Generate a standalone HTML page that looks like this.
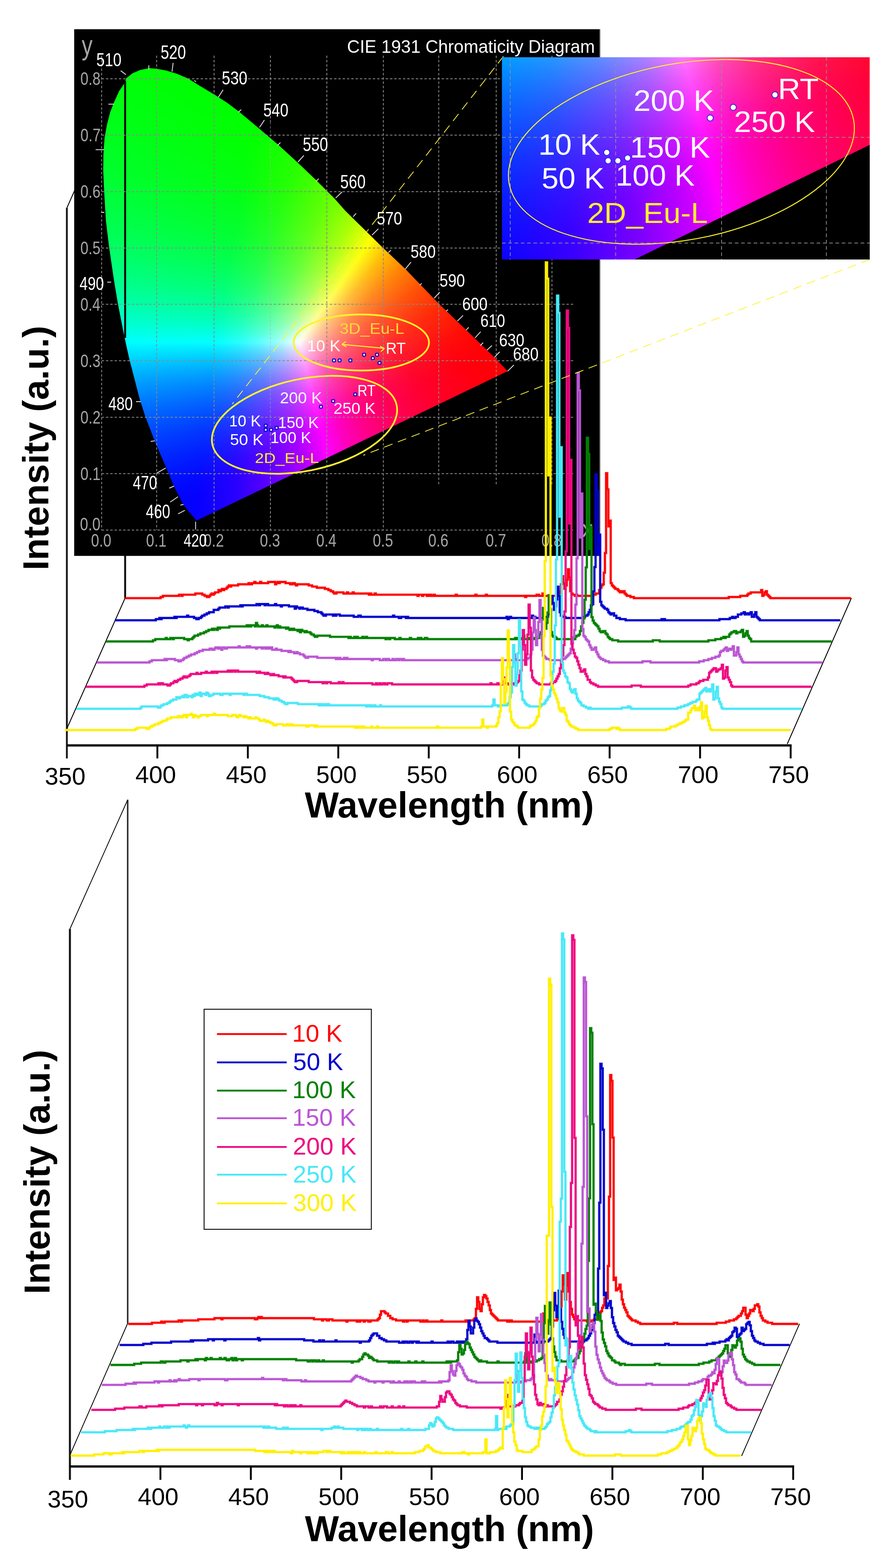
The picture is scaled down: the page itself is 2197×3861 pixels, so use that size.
<!DOCTYPE html>
<html lang="en"><head><meta charset="utf-8"><title>Temperature-dependent emission spectra and CIE 1931 chromaticity diagram</title>
<style>
html,body{margin:0;padding:0;background:#fff}
body{width:2197px;height:3861px;overflow:hidden}
svg{display:block;font-family:"Liberation Sans",Arial,Helvetica,sans-serif}
</style></head><body>
<svg width="2197" height="3861" viewBox="0 0 2197 3861">
<defs><linearGradient id="g0" gradientUnits="userSpaceOnUse" x1="348.2" x2="398.6"><stop offset="0" stop-color="#00ff04"/><stop offset="1" stop-color="#00ff02"/></linearGradient><linearGradient id="g1" gradientUnits="userSpaceOnUse" x1="332.2" x2="418.9"><stop offset="0" stop-color="#00ff05"/><stop offset="1" stop-color="#00ff01"/></linearGradient><linearGradient id="g2" gradientUnits="userSpaceOnUse" x1="322.8" x2="432.3"><stop offset="0" stop-color="#00ff06"/><stop offset="1" stop-color="#00ff01"/></linearGradient><linearGradient id="g3" gradientUnits="userSpaceOnUse" x1="315.2" x2="445.5"><stop offset="0" stop-color="#00ff07"/><stop offset="1" stop-color="#0f0"/></linearGradient><linearGradient id="g4" gradientUnits="userSpaceOnUse" x1="310.3" x2="454.8"><stop offset="0" stop-color="#00ff08"/><stop offset="1" stop-color="#0f0"/></linearGradient><linearGradient id="g5" gradientUnits="userSpaceOnUse" x1="305.4" x2="464.1"><stop offset="0" stop-color="#00ff08"/><stop offset="1" stop-color="#0f0"/></linearGradient><linearGradient id="g6" gradientUnits="userSpaceOnUse" x1="301.5" x2="473.1"><stop offset="0" stop-color="#00ff09"/><stop offset="1" stop-color="#0f0"/></linearGradient><linearGradient id="g7" gradientUnits="userSpaceOnUse" x1="299.9" x2="479.6"><stop offset="0" stop-color="#00ff09"/><stop offset="1" stop-color="#0f0"/></linearGradient><linearGradient id="g8" gradientUnits="userSpaceOnUse" x1="298.3" x2="486.0"><stop offset="0" stop-color="#00ff0a"/><stop offset="1" stop-color="#0f0"/></linearGradient><linearGradient id="g9" gradientUnits="userSpaceOnUse" x1="296.7" x2="492.4"><stop offset="0" stop-color="#00ff0a"/><stop offset="1" stop-color="#0f0"/></linearGradient><linearGradient id="g10" gradientUnits="userSpaceOnUse" x1="294.1" x2="498.9"><stop offset="0" stop-color="#00ff0b"/><stop offset="1" stop-color="#0f0"/></linearGradient><linearGradient id="g11" gradientUnits="userSpaceOnUse" x1="291.3" x2="505.5"><stop offset="0" stop-color="#00ff0c"/><stop offset="1" stop-color="#0f0"/></linearGradient><linearGradient id="g12" gradientUnits="userSpaceOnUse" x1="288.6" x2="512.2"><stop offset="0" stop-color="#00ff0c"/><stop offset="1" stop-color="#0f0"/></linearGradient><linearGradient id="g13" gradientUnits="userSpaceOnUse" x1="285.8" x2="518.8"><stop offset="0" stop-color="#00ff0d"/><stop offset="1" stop-color="#0f0"/></linearGradient><linearGradient id="g14" gradientUnits="userSpaceOnUse" x1="283.5" x2="525.5"><stop offset="0" stop-color="#00ff0d"/><stop offset="1" stop-color="#0f0"/></linearGradient><linearGradient id="g15" gradientUnits="userSpaceOnUse" x1="281.7" x2="532.2"><stop offset="0" stop-color="#00ff0e"/><stop offset="1" stop-color="#0f0"/></linearGradient><linearGradient id="g16" gradientUnits="userSpaceOnUse" x1="279.9" x2="538.7"><stop offset="0" stop-color="#00ff0e"/><stop offset="1" stop-color="#0f0"/></linearGradient><linearGradient id="g17" gradientUnits="userSpaceOnUse" x1="278.1" x2="544.9"><stop offset="0" stop-color="#00ff0f"/><stop offset="1" stop-color="#0f0"/></linearGradient><linearGradient id="g18" gradientUnits="userSpaceOnUse" x1="276.3" x2="551.2"><stop offset="0" stop-color="#00ff10"/><stop offset="1" stop-color="#0f0"/></linearGradient><linearGradient id="g19" gradientUnits="userSpaceOnUse" x1="274.5" x2="557.4"><stop offset="0" stop-color="#00ff10"/><stop offset="1" stop-color="#0f0"/></linearGradient><linearGradient id="g20" gradientUnits="userSpaceOnUse" x1="272.7" x2="563.7"><stop offset="0" stop-color="#0f1"/><stop offset="1" stop-color="#0f0"/></linearGradient><linearGradient id="g21" gradientUnits="userSpaceOnUse" x1="271.0" x2="569.8"><stop offset="0" stop-color="#0f1"/><stop offset="1" stop-color="#0f0"/></linearGradient><linearGradient id="g22" gradientUnits="userSpaceOnUse" x1="269.4" x2="575.1"><stop offset="0" stop-color="#00ff12"/><stop offset="1" stop-color="#0f0"/></linearGradient><linearGradient id="g23" gradientUnits="userSpaceOnUse" x1="267.9" x2="580.4"><stop offset="0" stop-color="#00ff13"/><stop offset="1" stop-color="#0f0"/></linearGradient><linearGradient id="g24" gradientUnits="userSpaceOnUse" x1="266.3" x2="585.7"><stop offset="0" stop-color="#00ff13"/><stop offset="1" stop-color="#0f0"/></linearGradient><linearGradient id="g25" gradientUnits="userSpaceOnUse" x1="264.8" x2="591.0"><stop offset="0" stop-color="#00ff14"/><stop offset="1" stop-color="#0f0"/></linearGradient><linearGradient id="g26" gradientUnits="userSpaceOnUse" x1="263.2" x2="596.3"><stop offset="0" stop-color="#00ff14"/><stop offset="1" stop-color="#0f0"/></linearGradient><linearGradient id="g27" gradientUnits="userSpaceOnUse" x1="261.9" x2="601.1"><stop offset="0" stop-color="#00ff15"/><stop offset="1" stop-color="#0f0"/></linearGradient><linearGradient id="g28" gradientUnits="userSpaceOnUse" x1="260.9" x2="605.9"><stop offset="0" stop-color="#00ff16"/><stop offset="1" stop-color="#0f0"/></linearGradient><linearGradient id="g29" gradientUnits="userSpaceOnUse" x1="259.9" x2="610.7"><stop offset="0" stop-color="#00ff16"/><stop offset="1" stop-color="#0f0"/></linearGradient><linearGradient id="g30" gradientUnits="userSpaceOnUse" x1="258.9" x2="615.5"><stop offset="0" stop-color="#00ff17"/><stop offset="1" stop-color="#01ff00"/></linearGradient><linearGradient id="g31" gradientUnits="userSpaceOnUse" x1="257.9" x2="620.3"><stop offset="0" stop-color="#00ff17"/><stop offset="0.989" stop-color="#01ff00"/><stop offset="1" stop-color="#02ff00"/></linearGradient><linearGradient id="g32" gradientUnits="userSpaceOnUse" x1="256.9" x2="625.1"><stop offset="0" stop-color="#00ff18"/><stop offset="0.989" stop-color="#02ff00"/><stop offset="1" stop-color="#03ff00"/></linearGradient><linearGradient id="g33" gradientUnits="userSpaceOnUse" x1="255.9" x2="629.9"><stop offset="0" stop-color="#00ff19"/><stop offset="0.989" stop-color="#03ff00"/><stop offset="1" stop-color="#03ff00"/></linearGradient><linearGradient id="g34" gradientUnits="userSpaceOnUse" x1="254.9" x2="634.7"><stop offset="0" stop-color="#00ff19"/><stop offset="0.979" stop-color="#03ff00"/><stop offset="1" stop-color="#04ff00"/></linearGradient><linearGradient id="g35" gradientUnits="userSpaceOnUse" x1="253.9" x2="639.5"><stop offset="0" stop-color="#00ff1a"/><stop offset="0.969" stop-color="#03ff00"/><stop offset="1" stop-color="#05ff00"/></linearGradient><linearGradient id="g36" gradientUnits="userSpaceOnUse" x1="253.2" x2="644.2"><stop offset="0" stop-color="#00ff1b"/><stop offset="0.948" stop-color="#03ff00"/><stop offset="1" stop-color="#07ff00"/></linearGradient><linearGradient id="g37" gradientUnits="userSpaceOnUse" x1="252.5" x2="648.9"><stop offset="0" stop-color="#00ff1b"/><stop offset="0.939" stop-color="#03ff00"/><stop offset="1" stop-color="#08ff00"/></linearGradient><linearGradient id="g38" gradientUnits="userSpaceOnUse" x1="251.7" x2="653.6"><stop offset="0" stop-color="#00ff1c"/><stop offset="0.92" stop-color="#03ff00"/><stop offset="1" stop-color="#09ff00"/></linearGradient><linearGradient id="g39" gradientUnits="userSpaceOnUse" x1="251.0" x2="658.4"><stop offset="0" stop-color="#00ff1d"/><stop offset="0.911" stop-color="#03ff00"/><stop offset="1" stop-color="#0aff00"/></linearGradient><linearGradient id="g40" gradientUnits="userSpaceOnUse" x1="250.3" x2="663.1"><stop offset="0" stop-color="#00ff1d"/><stop offset="0.903" stop-color="#03ff00"/><stop offset="1" stop-color="#0bff00"/></linearGradient><linearGradient id="g41" gradientUnits="userSpaceOnUse" x1="249.6" x2="667.8"><stop offset="0" stop-color="#00ff1e"/><stop offset="0.885" stop-color="#03ff00"/><stop offset="1" stop-color="#0dff00"/></linearGradient><linearGradient id="g42" gradientUnits="userSpaceOnUse" x1="248.8" x2="672.5"><stop offset="0" stop-color="#00ff1f"/><stop offset="0.876" stop-color="#03ff01"/><stop offset="1" stop-color="#0eff00"/></linearGradient><linearGradient id="g43" gradientUnits="userSpaceOnUse" x1="248.4" x2="677.3"><stop offset="0" stop-color="#00ff1f"/><stop offset="0.869" stop-color="#03ff01"/><stop offset="1" stop-color="#10ff00"/></linearGradient><linearGradient id="g44" gradientUnits="userSpaceOnUse" x1="248.1" x2="682.0"><stop offset="0" stop-color="#00ff20"/><stop offset="0.852" stop-color="#03ff01"/><stop offset="1" stop-color="#1f0"/></linearGradient><linearGradient id="g45" gradientUnits="userSpaceOnUse" x1="247.8" x2="686.7"><stop offset="0" stop-color="#00ff21"/><stop offset="0.844" stop-color="#03ff02"/><stop offset="1" stop-color="#13ff00"/></linearGradient><linearGradient id="g46" gradientUnits="userSpaceOnUse" x1="247.5" x2="691.4"><stop offset="0" stop-color="#00ff21"/><stop offset="0.836" stop-color="#03ff02"/><stop offset="1" stop-color="#15ff00"/></linearGradient><linearGradient id="g47" gradientUnits="userSpaceOnUse" x1="247.3" x2="696.0"><stop offset="0" stop-color="#0f2"/><stop offset="0.821" stop-color="#03ff02"/><stop offset="1" stop-color="#16ff00"/></linearGradient><linearGradient id="g48" gradientUnits="userSpaceOnUse" x1="247.0" x2="700.4"><stop offset="0" stop-color="#00ff23"/><stop offset="0.814" stop-color="#03ff03"/><stop offset="1" stop-color="#18ff00"/></linearGradient><linearGradient id="g49" gradientUnits="userSpaceOnUse" x1="246.7" x2="704.7"><stop offset="0" stop-color="#00ff23"/><stop offset="0.807" stop-color="#03ff03"/><stop offset="1" stop-color="#1aff00"/></linearGradient><linearGradient id="g50" gradientUnits="userSpaceOnUse" x1="246.4" x2="709.1"><stop offset="0" stop-color="#00ff24"/><stop offset="0.8" stop-color="#03ff04"/><stop offset="1" stop-color="#1cff00"/></linearGradient><linearGradient id="g51" gradientUnits="userSpaceOnUse" x1="246.2" x2="713.5"><stop offset="0" stop-color="#00ff25"/><stop offset="0.784" stop-color="#03ff04"/><stop offset="1" stop-color="#1eff00"/></linearGradient><linearGradient id="g52" gradientUnits="userSpaceOnUse" x1="245.9" x2="717.8"><stop offset="0" stop-color="#00ff26"/><stop offset="0.778" stop-color="#03ff05"/><stop offset="1" stop-color="#20ff00"/></linearGradient><linearGradient id="g53" gradientUnits="userSpaceOnUse" x1="245.7" x2="722.2"><stop offset="0" stop-color="#00ff26"/><stop offset="0.773" stop-color="#03ff05"/><stop offset="1" stop-color="#2f0"/></linearGradient><linearGradient id="g54" gradientUnits="userSpaceOnUse" x1="245.6" x2="726.6"><stop offset="0" stop-color="#00ff27"/><stop offset="0.758" stop-color="#03ff06"/><stop offset="1" stop-color="#24ff00"/></linearGradient><linearGradient id="g55" gradientUnits="userSpaceOnUse" x1="245.6" x2="731.0"><stop offset="0" stop-color="#00ff28"/><stop offset="0.752" stop-color="#03ff06"/><stop offset="1" stop-color="#26ff00"/></linearGradient><linearGradient id="g56" gradientUnits="userSpaceOnUse" x1="245.5" x2="735.3"><stop offset="0" stop-color="#00ff29"/><stop offset="0.746" stop-color="#03ff07"/><stop offset="0.992" stop-color="#26ff00"/><stop offset="1" stop-color="#28ff00"/></linearGradient><linearGradient id="g57" gradientUnits="userSpaceOnUse" x1="245.5" x2="739.7"><stop offset="0" stop-color="#00ff29"/><stop offset="0.74" stop-color="#03ff07"/><stop offset="0.984" stop-color="#27ff00"/><stop offset="1" stop-color="#2aff00"/></linearGradient><linearGradient id="g58" gradientUnits="userSpaceOnUse" x1="245.4" x2="744.0"><stop offset="0" stop-color="#00ff2a"/><stop offset="0.726" stop-color="#03ff08"/><stop offset="0.96" stop-color="#24ff00"/><stop offset="1" stop-color="#2dff00"/></linearGradient><linearGradient id="g59" gradientUnits="userSpaceOnUse" x1="245.4" x2="748.2"><stop offset="0" stop-color="#00ff2b"/><stop offset="0.72" stop-color="#03ff08"/><stop offset="0.952" stop-color="#25ff00"/><stop offset="1" stop-color="#2fff00"/></linearGradient><linearGradient id="g60" gradientUnits="userSpaceOnUse" x1="245.3" x2="752.4"><stop offset="0" stop-color="#00ff2c"/><stop offset="0.714" stop-color="#03ff09"/><stop offset="0.944" stop-color="#26ff00"/><stop offset="1" stop-color="#31ff00"/></linearGradient><linearGradient id="g61" gradientUnits="userSpaceOnUse" x1="245.3" x2="756.5"><stop offset="0" stop-color="#00ff2d"/><stop offset="0.709" stop-color="#03ff0a"/><stop offset="0.937" stop-color="#26ff00"/><stop offset="1" stop-color="#34ff00"/></linearGradient><linearGradient id="g62" gradientUnits="userSpaceOnUse" x1="245.2" x2="760.7"><stop offset="0" stop-color="#00ff2d"/><stop offset="0.703" stop-color="#03ff0a"/><stop offset="0.93" stop-color="#27ff00"/><stop offset="1" stop-color="#36ff00"/></linearGradient><linearGradient id="g63" gradientUnits="userSpaceOnUse" x1="245.2" x2="764.9"><stop offset="0" stop-color="#00ff2e"/><stop offset="0.69" stop-color="#03ff0b"/><stop offset="0.907" stop-color="#24ff01"/><stop offset="1" stop-color="#39ff00"/></linearGradient><linearGradient id="g64" gradientUnits="userSpaceOnUse" x1="245.2" x2="769.1"><stop offset="0" stop-color="#00ff2f"/><stop offset="0.685" stop-color="#03ff0c"/><stop offset="0.9" stop-color="#25ff01"/><stop offset="1" stop-color="#3cff00"/></linearGradient><linearGradient id="g65" gradientUnits="userSpaceOnUse" x1="245.2" x2="773.3"><stop offset="0" stop-color="#00ff30"/><stop offset="0.682" stop-color="#03ff0c"/><stop offset="0.902" stop-color="#27ff01"/><stop offset="1" stop-color="#3eff00"/></linearGradient><linearGradient id="g66" gradientUnits="userSpaceOnUse" x1="245.3" x2="777.5"><stop offset="0" stop-color="#00ff31"/><stop offset="0.677" stop-color="#03ff0d"/><stop offset="0.887" stop-color="#26ff02"/><stop offset="1" stop-color="#41ff00"/></linearGradient><linearGradient id="g67" gradientUnits="userSpaceOnUse" x1="245.5" x2="781.6"><stop offset="0" stop-color="#00ff32"/><stop offset="0.664" stop-color="#03ff0e"/><stop offset="0.873" stop-color="#25ff03"/><stop offset="1" stop-color="#4f0"/></linearGradient><linearGradient id="g68" gradientUnits="userSpaceOnUse" x1="245.7" x2="785.8"><stop offset="0" stop-color="#00ff32"/><stop offset="0.659" stop-color="#03ff0e"/><stop offset="0.867" stop-color="#25ff03"/><stop offset="1" stop-color="#47ff00"/></linearGradient><linearGradient id="g69" gradientUnits="userSpaceOnUse" x1="245.9" x2="790.0"><stop offset="0" stop-color="#0f3"/><stop offset="0.654" stop-color="#03ff0f"/><stop offset="0.86" stop-color="#26ff04"/><stop offset="1" stop-color="#4aff00"/></linearGradient><linearGradient id="g70" gradientUnits="userSpaceOnUse" x1="246.0" x2="794.0"><stop offset="0" stop-color="#00ff34"/><stop offset="0.647" stop-color="#03ff10"/><stop offset="0.853" stop-color="#26ff04"/><stop offset="1" stop-color="#4dff00"/></linearGradient><linearGradient id="g71" gradientUnits="userSpaceOnUse" x1="246.2" x2="798.0"><stop offset="0" stop-color="#00ff35"/><stop offset="0.642" stop-color="#03ff11"/><stop offset="0.839" stop-color="#25ff05"/><stop offset="1" stop-color="#51ff00"/></linearGradient><linearGradient id="g72" gradientUnits="userSpaceOnUse" x1="246.4" x2="802.0"><stop offset="0" stop-color="#00ff36"/><stop offset="0.638" stop-color="#03ff11"/><stop offset="0.833" stop-color="#26ff05"/><stop offset="1" stop-color="#54ff00"/></linearGradient><linearGradient id="g73" gradientUnits="userSpaceOnUse" x1="246.6" x2="806.0"><stop offset="0" stop-color="#00ff37"/><stop offset="0.626" stop-color="#02ff12"/><stop offset="0.82" stop-color="#25ff06"/><stop offset="1" stop-color="#57ff00"/></linearGradient><linearGradient id="g74" gradientUnits="userSpaceOnUse" x1="246.8" x2="810.0"><stop offset="0" stop-color="#00ff38"/><stop offset="0.621" stop-color="#03ff13"/><stop offset="0.814" stop-color="#25ff07"/><stop offset="1" stop-color="#5bff00"/></linearGradient><linearGradient id="g75" gradientUnits="userSpaceOnUse" x1="247.0" x2="814.0"><stop offset="0" stop-color="#00ff39"/><stop offset="0.617" stop-color="#03ff14"/><stop offset="0.809" stop-color="#26ff08"/><stop offset="1" stop-color="#5eff00"/></linearGradient><linearGradient id="g76" gradientUnits="userSpaceOnUse" x1="247.2" x2="818.0"><stop offset="0" stop-color="#00ff3a"/><stop offset="0.613" stop-color="#03ff15"/><stop offset="0.803" stop-color="#26ff08"/><stop offset="1" stop-color="#62ff00"/></linearGradient><linearGradient id="g77" gradientUnits="userSpaceOnUse" x1="247.3" x2="822.0"><stop offset="0" stop-color="#00ff3b"/><stop offset="0.608" stop-color="#03ff15"/><stop offset="0.797" stop-color="#27ff09"/><stop offset="0.986" stop-color="#61ff00"/><stop offset="1" stop-color="#6f0"/></linearGradient><linearGradient id="g78" gradientUnits="userSpaceOnUse" x1="247.5" x2="826.0"><stop offset="0" stop-color="#00ff3c"/><stop offset="0.597" stop-color="#02ff17"/><stop offset="0.778" stop-color="#24ff0a"/><stop offset="0.965" stop-color="#5dff00"/><stop offset="1" stop-color="#6aff00"/></linearGradient><linearGradient id="g79" gradientUnits="userSpaceOnUse" x1="247.7" x2="830.0"><stop offset="0" stop-color="#00ff3d"/><stop offset="0.593" stop-color="#03ff18"/><stop offset="0.772" stop-color="#24ff0b"/><stop offset="0.959" stop-color="#5eff00"/><stop offset="1" stop-color="#6eff00"/></linearGradient><linearGradient id="g80" gradientUnits="userSpaceOnUse" x1="247.9" x2="833.9"><stop offset="0" stop-color="#00ff3e"/><stop offset="0.589" stop-color="#03ff18"/><stop offset="0.767" stop-color="#25ff0c"/><stop offset="0.952" stop-color="#5fff00"/><stop offset="1" stop-color="#72ff00"/></linearGradient><linearGradient id="g81" gradientUnits="userSpaceOnUse" x1="248.1" x2="837.4"><stop offset="0" stop-color="#00ff3f"/><stop offset="0.585" stop-color="#03ff19"/><stop offset="0.762" stop-color="#25ff0d"/><stop offset="0.946" stop-color="#60ff01"/><stop offset="1" stop-color="#76ff00"/></linearGradient><linearGradient id="g82" gradientUnits="userSpaceOnUse" x1="248.4" x2="840.9"><stop offset="0" stop-color="#00ff40"/><stop offset="0.581" stop-color="#03ff1a"/><stop offset="0.757" stop-color="#26ff0d"/><stop offset="0.939" stop-color="#61ff01"/><stop offset="1" stop-color="#7aff00"/></linearGradient><linearGradient id="g83" gradientUnits="userSpaceOnUse" x1="248.6" x2="844.5"><stop offset="0" stop-color="#00ff41"/><stop offset="0.574" stop-color="#03ff1b"/><stop offset="0.75" stop-color="#26ff0e"/><stop offset="0.926" stop-color="#5fff02"/><stop offset="1" stop-color="#7eff00"/></linearGradient><linearGradient id="g84" gradientUnits="userSpaceOnUse" x1="248.9" x2="848.0"><stop offset="0" stop-color="#00ff42"/><stop offset="0.57" stop-color="#03ff1c"/><stop offset="0.745" stop-color="#26ff0f"/><stop offset="0.919" stop-color="#60ff03"/><stop offset="1" stop-color="#82ff00"/></linearGradient><linearGradient id="g85" gradientUnits="userSpaceOnUse" x1="249.1" x2="851.5"><stop offset="0" stop-color="#00ff43"/><stop offset="0.567" stop-color="#03ff1d"/><stop offset="0.74" stop-color="#27ff10"/><stop offset="0.913" stop-color="#61ff03"/><stop offset="1" stop-color="#87ff00"/></linearGradient><linearGradient id="g86" gradientUnits="userSpaceOnUse" x1="249.4" x2="855.0"><stop offset="0" stop-color="#0f4"/><stop offset="0.563" stop-color="#03ff1e"/><stop offset="0.728" stop-color="#25ff11"/><stop offset="0.901" stop-color="#5fff04"/><stop offset="1" stop-color="#8bff00"/></linearGradient><linearGradient id="g87" gradientUnits="userSpaceOnUse" x1="249.6" x2="858.6"><stop offset="0" stop-color="#00ff45"/><stop offset="0.559" stop-color="#03ff1f"/><stop offset="0.724" stop-color="#26ff12"/><stop offset="0.895" stop-color="#60ff05"/><stop offset="1" stop-color="#90ff00"/></linearGradient><linearGradient id="g88" gradientUnits="userSpaceOnUse" x1="249.8" x2="862.6"><stop offset="0" stop-color="#00ff46"/><stop offset="0.549" stop-color="#02ff21"/><stop offset="0.712" stop-color="#24ff14"/><stop offset="0.882" stop-color="#5eff06"/><stop offset="1" stop-color="#95ff00"/></linearGradient><linearGradient id="g89" gradientUnits="userSpaceOnUse" x1="250.1" x2="866.6"><stop offset="0" stop-color="#00ff47"/><stop offset="0.545" stop-color="#03ff22"/><stop offset="0.708" stop-color="#25ff14"/><stop offset="0.877" stop-color="#60ff07"/><stop offset="1" stop-color="#9bff00"/></linearGradient><linearGradient id="g90" gradientUnits="userSpaceOnUse" x1="250.3" x2="870.7"><stop offset="0" stop-color="#00ff48"/><stop offset="0.542" stop-color="#03ff23"/><stop offset="0.703" stop-color="#26ff15"/><stop offset="0.871" stop-color="#61ff07"/><stop offset="1" stop-color="#a1ff00"/></linearGradient><linearGradient id="g91" gradientUnits="userSpaceOnUse" x1="250.6" x2="874.8"><stop offset="0" stop-color="#00ff4a"/><stop offset="0.538" stop-color="#03ff24"/><stop offset="0.699" stop-color="#26ff16"/><stop offset="0.859" stop-color="#60ff09"/><stop offset="1" stop-color="#a6ff00"/></linearGradient><linearGradient id="g92" gradientUnits="userSpaceOnUse" x1="250.8" x2="878.8"><stop offset="0" stop-color="#00ff4b"/><stop offset="0.532" stop-color="#03ff25"/><stop offset="0.686" stop-color="#24ff18"/><stop offset="0.846" stop-color="#5eff0a"/><stop offset="0.994" stop-color="#a9ff00"/><stop offset="1" stop-color="#acff00"/></linearGradient><linearGradient id="g93" gradientUnits="userSpaceOnUse" x1="251.1" x2="882.9"><stop offset="0" stop-color="#00ff4c"/><stop offset="0.529" stop-color="#03ff26"/><stop offset="0.682" stop-color="#25ff19"/><stop offset="0.841" stop-color="#5fff0b"/><stop offset="0.981" stop-color="#a7ff00"/><stop offset="1" stop-color="#b3ff00"/></linearGradient><linearGradient id="g94" gradientUnits="userSpaceOnUse" x1="251.3" x2="887.0"><stop offset="0" stop-color="#00ff4d"/><stop offset="0.525" stop-color="#03ff27"/><stop offset="0.677" stop-color="#26ff1a"/><stop offset="0.835" stop-color="#60ff0c"/><stop offset="0.975" stop-color="#a9ff00"/><stop offset="1" stop-color="#b9ff00"/></linearGradient><linearGradient id="g95" gradientUnits="userSpaceOnUse" x1="251.6" x2="891.0"><stop offset="0" stop-color="#00ff4e"/><stop offset="0.516" stop-color="#02ff29"/><stop offset="0.667" stop-color="#24ff1c"/><stop offset="0.824" stop-color="#5fff0d"/><stop offset="0.962" stop-color="#a8ff01"/><stop offset="1" stop-color="#c0ff00"/></linearGradient><linearGradient id="g96" gradientUnits="userSpaceOnUse" x1="251.8" x2="895.1"><stop offset="0" stop-color="#00ff50"/><stop offset="0.512" stop-color="#03ff2a"/><stop offset="0.663" stop-color="#25ff1d"/><stop offset="0.819" stop-color="#60ff0e"/><stop offset="0.956" stop-color="#aaff02"/><stop offset="1" stop-color="#c7ff00"/></linearGradient><linearGradient id="g97" gradientUnits="userSpaceOnUse" x1="252.1" x2="899.1"><stop offset="0" stop-color="#00ff51"/><stop offset="0.509" stop-color="#03ff2b"/><stop offset="0.658" stop-color="#26ff1e"/><stop offset="0.807" stop-color="#5fff0f"/><stop offset="0.944" stop-color="#a9ff03"/><stop offset="1" stop-color="#ceff00"/></linearGradient><linearGradient id="g98" gradientUnits="userSpaceOnUse" x1="252.6" x2="903.2"><stop offset="0" stop-color="#00ff52"/><stop offset="0.506" stop-color="#03ff2c"/><stop offset="0.654" stop-color="#27ff1f"/><stop offset="0.802" stop-color="#60ff10"/><stop offset="0.938" stop-color="#abff03"/><stop offset="1" stop-color="#d5ff00"/></linearGradient><linearGradient id="g99" gradientUnits="userSpaceOnUse" x1="253.1" x2="907.3"><stop offset="0" stop-color="#00ff53"/><stop offset="0.497" stop-color="#02ff2e"/><stop offset="0.638" stop-color="#23ff21"/><stop offset="0.785" stop-color="#5cff12"/><stop offset="0.92" stop-color="#a5ff05"/><stop offset="1" stop-color="#df0"/></linearGradient><linearGradient id="g100" gradientUnits="userSpaceOnUse" x1="253.6" x2="911.3"><stop offset="0" stop-color="#0f5"/><stop offset="0.494" stop-color="#03ff2f"/><stop offset="0.634" stop-color="#24ff22"/><stop offset="0.78" stop-color="#5dff13"/><stop offset="0.915" stop-color="#a8ff06"/><stop offset="1" stop-color="#e5ff00"/></linearGradient><linearGradient id="g101" gradientUnits="userSpaceOnUse" x1="254.1" x2="915.4"><stop offset="0" stop-color="#00ff56"/><stop offset="0.491" stop-color="#03ff31"/><stop offset="0.63" stop-color="#25ff23"/><stop offset="0.776" stop-color="#5fff14"/><stop offset="0.903" stop-color="#a6ff07"/><stop offset="1" stop-color="#edff00"/></linearGradient><linearGradient id="g102" gradientUnits="userSpaceOnUse" x1="254.6" x2="919.5"><stop offset="0" stop-color="#00ff57"/><stop offset="0.488" stop-color="#03ff32"/><stop offset="0.627" stop-color="#25ff25"/><stop offset="0.771" stop-color="#60ff16"/><stop offset="0.898" stop-color="#a9ff08"/><stop offset="1" stop-color="#f6ff00"/></linearGradient><linearGradient id="g103" gradientUnits="userSpaceOnUse" x1="255.0" x2="923.5"><stop offset="0" stop-color="#00ff59"/><stop offset="0.479" stop-color="#02ff34"/><stop offset="0.617" stop-color="#24ff26"/><stop offset="0.76" stop-color="#5fff17"/><stop offset="0.886" stop-color="#a7ff0a"/><stop offset="1" stop-color="#ff0"/></linearGradient><linearGradient id="g104" gradientUnits="userSpaceOnUse" x1="255.5" x2="927.6"><stop offset="0" stop-color="#00ff5a"/><stop offset="0.476" stop-color="#02ff35"/><stop offset="0.613" stop-color="#25ff28"/><stop offset="0.756" stop-color="#60ff18"/><stop offset="0.881" stop-color="#aaff0b"/><stop offset="0.988" stop-color="#fdff00"/><stop offset="1" stop-color="#fff700"/></linearGradient><linearGradient id="g105" gradientUnits="userSpaceOnUse" x1="256.0" x2="931.7"><stop offset="0" stop-color="#00ff5c"/><stop offset="0.476" stop-color="#03ff36"/><stop offset="0.613" stop-color="#27ff29"/><stop offset="0.75" stop-color="#61ff1a"/><stop offset="0.875" stop-color="#acff0c"/><stop offset="0.982" stop-color="#fffd01"/><stop offset="1" stop-color="#fe0"/></linearGradient><linearGradient id="g106" gradientUnits="userSpaceOnUse" x1="256.5" x2="935.7"><stop offset="0" stop-color="#00ff5d"/><stop offset="0.467" stop-color="#02ff38"/><stop offset="0.598" stop-color="#24ff2b"/><stop offset="0.734" stop-color="#5cff1c"/><stop offset="0.858" stop-color="#a6ff0e"/><stop offset="0.964" stop-color="#faff02"/><stop offset="0.976" stop-color="#fffa01"/><stop offset="1" stop-color="#ffe600"/></linearGradient><linearGradient id="g107" gradientUnits="userSpaceOnUse" x1="257.0" x2="939.8"><stop offset="0" stop-color="#00ff5e"/><stop offset="0.465" stop-color="#03ff39"/><stop offset="0.594" stop-color="#24ff2c"/><stop offset="0.729" stop-color="#5eff1d"/><stop offset="0.853" stop-color="#a8ff0f"/><stop offset="0.959" stop-color="#feff03"/><stop offset="1" stop-color="#ffde00"/></linearGradient><linearGradient id="g108" gradientUnits="userSpaceOnUse" x1="257.5" x2="943.9"><stop offset="0" stop-color="#00ff60"/><stop offset="0.462" stop-color="#03ff3b"/><stop offset="0.591" stop-color="#25ff2e"/><stop offset="0.725" stop-color="#5fff1f"/><stop offset="0.848" stop-color="#abff10"/><stop offset="0.953" stop-color="#fffd04"/><stop offset="1" stop-color="#ffd600"/></linearGradient><linearGradient id="g109" gradientUnits="userSpaceOnUse" x1="258.0" x2="947.9"><stop offset="0" stop-color="#00ff61"/><stop offset="0.459" stop-color="#03ff3c"/><stop offset="0.587" stop-color="#26ff2f"/><stop offset="0.721" stop-color="#61ff20"/><stop offset="0.837" stop-color="#a9ff12"/><stop offset="0.942" stop-color="#fffe05"/><stop offset="1" stop-color="#ffce00"/></linearGradient><linearGradient id="g110" gradientUnits="userSpaceOnUse" x1="258.5" x2="952.0"><stop offset="0" stop-color="#00ff63"/><stop offset="0.451" stop-color="#02ff3e"/><stop offset="0.578" stop-color="#25ff31"/><stop offset="0.711" stop-color="#5fff22"/><stop offset="0.827" stop-color="#a8ff14"/><stop offset="0.931" stop-color="#feff07"/><stop offset="1" stop-color="#ffc700"/></linearGradient><linearGradient id="g111" gradientUnits="userSpaceOnUse" x1="259.0" x2="956.2"><stop offset="0" stop-color="#00ff64"/><stop offset="0.448" stop-color="#03ff40"/><stop offset="0.575" stop-color="#25ff33"/><stop offset="0.707" stop-color="#61ff23"/><stop offset="0.822" stop-color="#aaff15"/><stop offset="0.92" stop-color="#fdff08"/><stop offset="1" stop-color="#ffc000"/></linearGradient><linearGradient id="g112" gradientUnits="userSpaceOnUse" x1="259.4" x2="960.5"><stop offset="0" stop-color="#0f6"/><stop offset="0.446" stop-color="#03ff41"/><stop offset="0.571" stop-color="#26ff34"/><stop offset="0.697" stop-color="#60ff26"/><stop offset="0.811" stop-color="#a9ff17"/><stop offset="0.914" stop-color="#fffd09"/><stop offset="0.994" stop-color="#ffbc00"/><stop offset="1" stop-color="#ffb900"/></linearGradient><linearGradient id="g113" gradientUnits="userSpaceOnUse" x1="259.9" x2="964.7"><stop offset="0" stop-color="#00ff67"/><stop offset="0.438" stop-color="#02ff44"/><stop offset="0.557" stop-color="#23ff37"/><stop offset="0.682" stop-color="#5bff28"/><stop offset="0.795" stop-color="#a3ff1a"/><stop offset="0.903" stop-color="#fffe0b"/><stop offset="0.977" stop-color="#ffc102"/><stop offset="1" stop-color="#ffb200"/></linearGradient><linearGradient id="g114" gradientUnits="userSpaceOnUse" x1="260.5" x2="968.9"><stop offset="0" stop-color="#00ff69"/><stop offset="0.435" stop-color="#02ff45"/><stop offset="0.554" stop-color="#24ff39"/><stop offset="0.678" stop-color="#5dff2a"/><stop offset="0.791" stop-color="#a6ff1b"/><stop offset="0.887" stop-color="#f9ff0e"/><stop offset="0.898" stop-color="#fffa0c"/><stop offset="0.977" stop-color="#ffba02"/><stop offset="1" stop-color="#ffab00"/></linearGradient><linearGradient id="g115" gradientUnits="userSpaceOnUse" x1="261.1" x2="973.2"><stop offset="0" stop-color="#00ff6b"/><stop offset="0.433" stop-color="#03ff47"/><stop offset="0.551" stop-color="#25ff3a"/><stop offset="0.674" stop-color="#5eff2b"/><stop offset="0.787" stop-color="#a9ff1c"/><stop offset="0.882" stop-color="#fdff0f"/><stop offset="0.966" stop-color="#ffba03"/><stop offset="1" stop-color="#ffa500"/></linearGradient><linearGradient id="g116" gradientUnits="userSpaceOnUse" x1="261.7" x2="977.4"><stop offset="0" stop-color="#00ff6c"/><stop offset="0.427" stop-color="#02ff49"/><stop offset="0.545" stop-color="#24ff3c"/><stop offset="0.669" stop-color="#5fff2d"/><stop offset="0.775" stop-color="#a6ff1f"/><stop offset="0.876" stop-color="#fffd10"/><stop offset="0.949" stop-color="#ffbf04"/><stop offset="1" stop-color="#ff9f00"/></linearGradient><linearGradient id="g117" gradientUnits="userSpaceOnUse" x1="262.3" x2="981.6"><stop offset="0" stop-color="#00ff6e"/><stop offset="0.425" stop-color="#03ff4b"/><stop offset="0.542" stop-color="#25ff3e"/><stop offset="0.665" stop-color="#61ff2f"/><stop offset="0.771" stop-color="#a9ff20"/><stop offset="0.866" stop-color="#fffe12"/><stop offset="0.939" stop-color="#ffc006"/><stop offset="1" stop-color="#f90"/></linearGradient><linearGradient id="g118" gradientUnits="userSpaceOnUse" x1="262.9" x2="985.8"><stop offset="0" stop-color="#00ff70"/><stop offset="0.422" stop-color="#03ff4c"/><stop offset="0.539" stop-color="#26ff40"/><stop offset="0.656" stop-color="#5fff31"/><stop offset="0.761" stop-color="#a8ff23"/><stop offset="0.856" stop-color="#feff15"/><stop offset="0.933" stop-color="#ffbc06"/><stop offset="1" stop-color="#ff9300"/></linearGradient><linearGradient id="g119" gradientUnits="userSpaceOnUse" x1="263.4" x2="990.1"><stop offset="0" stop-color="#00ff71"/><stop offset="0.414" stop-color="#02ff4f"/><stop offset="0.525" stop-color="#23ff43"/><stop offset="0.641" stop-color="#5bff34"/><stop offset="0.746" stop-color="#a2ff26"/><stop offset="0.84" stop-color="#f7ff18"/><stop offset="0.851" stop-color="#fffb16"/><stop offset="0.923" stop-color="#ffbd08"/><stop offset="1" stop-color="#ff8e00"/></linearGradient><linearGradient id="g120" gradientUnits="userSpaceOnUse" x1="264.0" x2="994.3"><stop offset="0" stop-color="#00ff73"/><stop offset="0.412" stop-color="#03ff50"/><stop offset="0.522" stop-color="#24ff44"/><stop offset="0.637" stop-color="#5cff36"/><stop offset="0.742" stop-color="#a5ff27"/><stop offset="0.841" stop-color="#fffd18"/><stop offset="0.912" stop-color="#ffbd0a"/><stop offset="1" stop-color="#f80"/></linearGradient><linearGradient id="g121" gradientUnits="userSpaceOnUse" x1="264.6" x2="998.5"><stop offset="0" stop-color="#00ff75"/><stop offset="0.41" stop-color="#03ff52"/><stop offset="0.519" stop-color="#25ff46"/><stop offset="0.634" stop-color="#5eff38"/><stop offset="0.738" stop-color="#a8ff29"/><stop offset="0.831" stop-color="#fffe1b"/><stop offset="0.902" stop-color="#ffbe0b"/><stop offset="0.995" stop-color="#ff8601"/><stop offset="1" stop-color="#ff8300"/></linearGradient><linearGradient id="g122" gradientUnits="userSpaceOnUse" x1="265.2" x2="1002.8"><stop offset="0" stop-color="#0f7"/><stop offset="0.402" stop-color="#02ff55"/><stop offset="0.511" stop-color="#23ff49"/><stop offset="0.625" stop-color="#5dff3a"/><stop offset="0.728" stop-color="#a6ff2c"/><stop offset="0.815" stop-color="#f9ff1e"/><stop offset="0.826" stop-color="#fff91c"/><stop offset="0.897" stop-color="#ffbb0c"/><stop offset="0.989" stop-color="#ff8301"/><stop offset="1" stop-color="#ff7e00"/></linearGradient><linearGradient id="g123" gradientUnits="userSpaceOnUse" x1="265.8" x2="1007.0"><stop offset="0" stop-color="#00ff79"/><stop offset="0.4" stop-color="#02ff57"/><stop offset="0.508" stop-color="#24ff4b"/><stop offset="0.622" stop-color="#5eff3c"/><stop offset="0.724" stop-color="#a9ff2d"/><stop offset="0.811" stop-color="#fdff20"/><stop offset="0.886" stop-color="#ffbb0e"/><stop offset="0.978" stop-color="#ff8302"/><stop offset="1" stop-color="#ff7900"/></linearGradient><linearGradient id="g124" gradientUnits="userSpaceOnUse" x1="266.4" x2="1010.9"><stop offset="0" stop-color="#00ff7a"/><stop offset="0.398" stop-color="#03ff59"/><stop offset="0.505" stop-color="#25ff4d"/><stop offset="0.618" stop-color="#60ff3e"/><stop offset="0.715" stop-color="#a7ff30"/><stop offset="0.806" stop-color="#fffc21"/><stop offset="0.876" stop-color="#ffbc10"/><stop offset="0.968" stop-color="#ff8303"/><stop offset="1" stop-color="#ff7400"/></linearGradient><linearGradient id="g125" gradientUnits="userSpaceOnUse" x1="267.0" x2="1014.7"><stop offset="0" stop-color="#00ff7c"/><stop offset="0.392" stop-color="#02ff5b"/><stop offset="0.5" stop-color="#25ff4f"/><stop offset="0.608" stop-color="#5dff41"/><stop offset="0.704" stop-color="#a4ff33"/><stop offset="0.79" stop-color="#f8ff25"/><stop offset="0.801" stop-color="#fff923"/><stop offset="0.871" stop-color="#ffb911"/><stop offset="0.962" stop-color="#ff8103"/><stop offset="1" stop-color="#ff7000"/></linearGradient><linearGradient id="g126" gradientUnits="userSpaceOnUse" x1="267.6" x2="1018.6"><stop offset="0" stop-color="#00ff7e"/><stop offset="0.39" stop-color="#03ff5d"/><stop offset="0.497" stop-color="#26ff51"/><stop offset="0.604" stop-color="#5fff43"/><stop offset="0.701" stop-color="#a7ff35"/><stop offset="0.786" stop-color="#fdff27"/><stop offset="0.866" stop-color="#ffb612"/><stop offset="0.957" stop-color="#ff7f04"/><stop offset="1" stop-color="#ff6b00"/></linearGradient><linearGradient id="g127" gradientUnits="userSpaceOnUse" x1="268.2" x2="1022.4"><stop offset="0" stop-color="#00ff80"/><stop offset="0.388" stop-color="#03ff5f"/><stop offset="0.495" stop-color="#26ff53"/><stop offset="0.601" stop-color="#60ff46"/><stop offset="0.697" stop-color="#aaff37"/><stop offset="0.782" stop-color="#fffd29"/><stop offset="0.846" stop-color="#ffbf16"/><stop offset="0.931" stop-color="#ff8707"/><stop offset="1" stop-color="#ff6701"/></linearGradient><linearGradient id="g128" gradientUnits="userSpaceOnUse" x1="268.8" x2="1026.3"><stop offset="0" stop-color="#00ff82"/><stop offset="0.386" stop-color="#03ff61"/><stop offset="0.487" stop-color="#25ff56"/><stop offset="0.593" stop-color="#5fff48"/><stop offset="0.688" stop-color="#a8ff3a"/><stop offset="0.772" stop-color="#ffff2c"/><stop offset="0.836" stop-color="#ffc019"/><stop offset="0.921" stop-color="#ff8809"/><stop offset="1" stop-color="#ff6301"/></linearGradient><linearGradient id="g129" gradientUnits="userSpaceOnUse" x1="269.3" x2="1030.2"><stop offset="0" stop-color="#00ff84"/><stop offset="0.379" stop-color="#02ff64"/><stop offset="0.479" stop-color="#23ff59"/><stop offset="0.584" stop-color="#5dff4b"/><stop offset="0.679" stop-color="#a6ff3d"/><stop offset="0.763" stop-color="#fdff2f"/><stop offset="0.837" stop-color="#ffb918"/><stop offset="0.921" stop-color="#ff8209"/><stop offset="1" stop-color="#ff5f01"/></linearGradient><linearGradient id="g130" gradientUnits="userSpaceOnUse" x1="269.9" x2="1034.0"><stop offset="0" stop-color="#00ff86"/><stop offset="0.377" stop-color="#03ff67"/><stop offset="0.476" stop-color="#24ff5b"/><stop offset="0.581" stop-color="#5fff4e"/><stop offset="0.675" stop-color="#a9ff40"/><stop offset="0.759" stop-color="#fffc31"/><stop offset="0.822" stop-color="#ffbe1c"/><stop offset="0.906" stop-color="#ff850b"/><stop offset="1" stop-color="#ff5b01"/></linearGradient><linearGradient id="g131" gradientUnits="userSpaceOnUse" x1="270.5" x2="1037.9"><stop offset="0" stop-color="#0f8"/><stop offset="0.372" stop-color="#02ff69"/><stop offset="0.471" stop-color="#24ff5e"/><stop offset="0.576" stop-color="#5fff50"/><stop offset="0.665" stop-color="#a6ff43"/><stop offset="0.743" stop-color="#f8ff36"/><stop offset="0.754" stop-color="#fff933"/><stop offset="0.817" stop-color="#ffbb1d"/><stop offset="0.901" stop-color="#ff830c"/><stop offset="1" stop-color="#ff5701"/></linearGradient><linearGradient id="g132" gradientUnits="userSpaceOnUse" x1="271.1" x2="1041.7"><stop offset="0" stop-color="#00ff8a"/><stop offset="0.37" stop-color="#02ff6c"/><stop offset="0.469" stop-color="#25ff60"/><stop offset="0.568" stop-color="#5dff54"/><stop offset="0.656" stop-color="#a4ff46"/><stop offset="0.734" stop-color="#f6ff39"/><stop offset="0.745" stop-color="#fffb36"/><stop offset="0.807" stop-color="#ffbc20"/><stop offset="0.891" stop-color="#ff830d"/><stop offset="1" stop-color="#ff5401"/></linearGradient><linearGradient id="g133" gradientUnits="userSpaceOnUse" x1="271.7" x2="1045.6"><stop offset="0" stop-color="#00ff8d"/><stop offset="0.368" stop-color="#03ff6e"/><stop offset="0.466" stop-color="#26ff63"/><stop offset="0.565" stop-color="#5fff56"/><stop offset="0.653" stop-color="#a7ff49"/><stop offset="0.736" stop-color="#fffd3a"/><stop offset="0.798" stop-color="#ffbd23"/><stop offset="0.876" stop-color="#ff8710"/><stop offset="0.984" stop-color="#ff5602"/><stop offset="1" stop-color="#ff5001"/></linearGradient><linearGradient id="g134" gradientUnits="userSpaceOnUse" x1="272.3" x2="1049.5"><stop offset="0" stop-color="#00ff8f"/><stop offset="0.366" stop-color="#03ff70"/><stop offset="0.464" stop-color="#27ff65"/><stop offset="0.562" stop-color="#61ff59"/><stop offset="0.649" stop-color="#aaff4b"/><stop offset="0.727" stop-color="#ffff3e"/><stop offset="0.789" stop-color="#ffbe25"/><stop offset="0.866" stop-color="#ff8712"/><stop offset="0.974" stop-color="#ff5603"/><stop offset="1" stop-color="#ff4d01"/></linearGradient><linearGradient id="g135" gradientUnits="userSpaceOnUse" x1="273.0" x2="1053.3"><stop offset="0" stop-color="#00ff91"/><stop offset="0.359" stop-color="#02ff73"/><stop offset="0.451" stop-color="#23ff69"/><stop offset="0.549" stop-color="#5bff5d"/><stop offset="0.636" stop-color="#a3ff50"/><stop offset="0.713" stop-color="#f7ff43"/><stop offset="0.723" stop-color="#fffa40"/><stop offset="0.785" stop-color="#ffbb27"/><stop offset="0.862" stop-color="#ff8413"/><stop offset="0.969" stop-color="#ff5403"/><stop offset="1" stop-color="#ff4901"/></linearGradient><linearGradient id="g136" gradientUnits="userSpaceOnUse" x1="273.7" x2="1057.2"><stop offset="0" stop-color="#00ff93"/><stop offset="0.359" stop-color="#03ff76"/><stop offset="0.451" stop-color="#25ff6c"/><stop offset="0.549" stop-color="#5fff5f"/><stop offset="0.636" stop-color="#a9ff52"/><stop offset="0.713" stop-color="#fffe44"/><stop offset="0.769" stop-color="#ffc12c"/><stop offset="0.846" stop-color="#ff8816"/><stop offset="0.949" stop-color="#ff5705"/><stop offset="1" stop-color="#ff4601"/></linearGradient><linearGradient id="g137" gradientUnits="userSpaceOnUse" x1="274.4" x2="1061.0"><stop offset="0" stop-color="#00ff96"/><stop offset="0.352" stop-color="#02ff79"/><stop offset="0.444" stop-color="#23ff6f"/><stop offset="0.541" stop-color="#5dff63"/><stop offset="0.628" stop-color="#a7ff56"/><stop offset="0.704" stop-color="#feff48"/><stop offset="0.765" stop-color="#ffbd2d"/><stop offset="0.842" stop-color="#ff8517"/><stop offset="0.944" stop-color="#ff5506"/><stop offset="1" stop-color="#ff4301"/></linearGradient><linearGradient id="g138" gradientUnits="userSpaceOnUse" x1="275.0" x2="1064.9"><stop offset="0" stop-color="#00ff98"/><stop offset="0.35" stop-color="#02ff7c"/><stop offset="0.442" stop-color="#24ff72"/><stop offset="0.538" stop-color="#5fff65"/><stop offset="0.624" stop-color="#aaff59"/><stop offset="0.695" stop-color="#fcff4c"/><stop offset="0.766" stop-color="#ffb52c"/><stop offset="0.843" stop-color="#ff8017"/><stop offset="0.949" stop-color="#ff5006"/><stop offset="1" stop-color="#ff4001"/></linearGradient><linearGradient id="g139" gradientUnits="userSpaceOnUse" x1="275.7" x2="1068.7"><stop offset="0" stop-color="#00ff9a"/><stop offset="0.348" stop-color="#03ff7e"/><stop offset="0.439" stop-color="#25ff75"/><stop offset="0.53" stop-color="#5dff69"/><stop offset="0.616" stop-color="#a8ff5c"/><stop offset="0.692" stop-color="#fffd4f"/><stop offset="0.747" stop-color="#ffbf33"/><stop offset="0.823" stop-color="#ff861b"/><stop offset="0.924" stop-color="#ff5509"/><stop offset="1" stop-color="#ff3d01"/></linearGradient><linearGradient id="g140" gradientUnits="userSpaceOnUse" x1="276.4" x2="1072.6"><stop offset="0" stop-color="#00ff9d"/><stop offset="0.347" stop-color="#03ff81"/><stop offset="0.437" stop-color="#26ff77"/><stop offset="0.528" stop-color="#5fff6c"/><stop offset="0.608" stop-color="#a6ff60"/><stop offset="0.683" stop-color="#ffff53"/><stop offset="0.739" stop-color="#ffc037"/><stop offset="0.809" stop-color="#ff891f"/><stop offset="0.905" stop-color="#ff590b"/><stop offset="1" stop-color="#ff3a01"/></linearGradient><linearGradient id="g141" gradientUnits="userSpaceOnUse" x1="277.1" x2="1076.5"><stop offset="0" stop-color="#00ff9f"/><stop offset="0.342" stop-color="#03ff84"/><stop offset="0.427" stop-color="#23ff7b"/><stop offset="0.518" stop-color="#5cff70"/><stop offset="0.598" stop-color="#a2ff64"/><stop offset="0.668" stop-color="#f5ff59"/><stop offset="0.678" stop-color="#fffc56"/><stop offset="0.734" stop-color="#ffbe39"/><stop offset="0.804" stop-color="#ff8720"/><stop offset="0.899" stop-color="#ff570c"/><stop offset="1" stop-color="#ff3701"/></linearGradient><linearGradient id="g142" gradientUnits="userSpaceOnUse" x1="277.7" x2="1080.3"><stop offset="0" stop-color="#00ffa2"/><stop offset="0.34" stop-color="#03ff87"/><stop offset="0.425" stop-color="#24ff7e"/><stop offset="0.515" stop-color="#5eff73"/><stop offset="0.595" stop-color="#a6ff68"/><stop offset="0.67" stop-color="#fffe5b"/><stop offset="0.725" stop-color="#ffbe3c"/><stop offset="0.795" stop-color="#ff8823"/><stop offset="0.89" stop-color="#ff570e"/><stop offset="1" stop-color="#ff3401"/></linearGradient><linearGradient id="g143" gradientUnits="userSpaceOnUse" x1="278.4" x2="1084.2"><stop offset="0" stop-color="#00ffa4"/><stop offset="0.338" stop-color="#03ff8a"/><stop offset="0.423" stop-color="#25ff82"/><stop offset="0.512" stop-color="#60ff77"/><stop offset="0.592" stop-color="#a9ff6b"/><stop offset="0.662" stop-color="#feff5f"/><stop offset="0.716" stop-color="#ffbf40"/><stop offset="0.786" stop-color="#ff8825"/><stop offset="0.881" stop-color="#ff570f"/><stop offset="1" stop-color="#ff3201"/></linearGradient><linearGradient id="g144" gradientUnits="userSpaceOnUse" x1="279.1" x2="1088.0"><stop offset="0" stop-color="#00ffa7"/><stop offset="0.332" stop-color="#02ff8e"/><stop offset="0.416" stop-color="#24ff85"/><stop offset="0.505" stop-color="#5eff7b"/><stop offset="0.584" stop-color="#a7ff6f"/><stop offset="0.653" stop-color="#fdff64"/><stop offset="0.718" stop-color="#ffb73f"/><stop offset="0.792" stop-color="#ff7f23"/><stop offset="0.891" stop-color="#ff4f0e"/><stop offset="1" stop-color="#ff2f01"/></linearGradient><linearGradient id="g145" gradientUnits="userSpaceOnUse" x1="279.7" x2="1092.1"><stop offset="0" stop-color="#0fa"/><stop offset="0.33" stop-color="#03ff91"/><stop offset="0.414" stop-color="#25ff89"/><stop offset="0.502" stop-color="#60ff7e"/><stop offset="0.581" stop-color="#abff73"/><stop offset="0.65" stop-color="#fffc66"/><stop offset="0.704" stop-color="#ffbc45"/><stop offset="0.773" stop-color="#ff8529"/><stop offset="0.867" stop-color="#ff5512"/><stop offset="1" stop-color="#ff2c01"/></linearGradient><linearGradient id="g146" gradientUnits="userSpaceOnUse" x1="280.4" x2="1096.3"><stop offset="0" stop-color="#00ffac"/><stop offset="0.325" stop-color="#02ff95"/><stop offset="0.409" stop-color="#24ff8c"/><stop offset="0.493" stop-color="#5cff82"/><stop offset="0.571" stop-color="#a7ff78"/><stop offset="0.64" stop-color="#feff6c"/><stop offset="0.695" stop-color="#ffbe49"/><stop offset="0.764" stop-color="#ff862c"/><stop offset="0.857" stop-color="#ff5513"/><stop offset="0.99" stop-color="#ff2c02"/><stop offset="1" stop-color="#ff2a01"/></linearGradient><linearGradient id="g147" gradientUnits="userSpaceOnUse" x1="281.1" x2="1100.4"><stop offset="0" stop-color="#00ffaf"/><stop offset="0.324" stop-color="#03ff98"/><stop offset="0.407" stop-color="#25ff90"/><stop offset="0.49" stop-color="#5eff86"/><stop offset="0.564" stop-color="#a5ff7c"/><stop offset="0.627" stop-color="#f5ff72"/><stop offset="0.637" stop-color="#fffa6e"/><stop offset="0.691" stop-color="#ffba4b"/><stop offset="0.76" stop-color="#ff832d"/><stop offset="0.853" stop-color="#ff5314"/><stop offset="0.985" stop-color="#ff2b03"/><stop offset="1" stop-color="#ff2701"/></linearGradient><linearGradient id="g148" gradientUnits="userSpaceOnUse" x1="281.8" x2="1104.6"><stop offset="0" stop-color="#00ffb2"/><stop offset="0.322" stop-color="#03ff9b"/><stop offset="0.405" stop-color="#27ff93"/><stop offset="0.488" stop-color="#61ff8a"/><stop offset="0.561" stop-color="#a8ff80"/><stop offset="0.629" stop-color="#fffc74"/><stop offset="0.678" stop-color="#ffc051"/><stop offset="0.741" stop-color="#ff8933"/><stop offset="0.829" stop-color="#ff5919"/><stop offset="0.951" stop-color="#ff3006"/><stop offset="1" stop-color="#ff2501"/></linearGradient><linearGradient id="g149" gradientUnits="userSpaceOnUse" x1="282.6" x2="1108.7"><stop offset="0" stop-color="#00ffb5"/><stop offset="0.316" stop-color="#02ff9f"/><stop offset="0.393" stop-color="#22ff98"/><stop offset="0.476" stop-color="#5bff8f"/><stop offset="0.549" stop-color="#a1ff85"/><stop offset="0.612" stop-color="#f2ff7c"/><stop offset="0.621" stop-color="#fffd79"/><stop offset="0.67" stop-color="#ffc055"/><stop offset="0.733" stop-color="#ff8a36"/><stop offset="0.82" stop-color="#ff581b"/><stop offset="0.942" stop-color="#ff3007"/><stop offset="1" stop-color="#ff2301"/></linearGradient><linearGradient id="g150" gradientUnits="userSpaceOnUse" x1="283.4" x2="1112.9"><stop offset="0" stop-color="#00ffb8"/><stop offset="0.314" stop-color="#02ffa3"/><stop offset="0.391" stop-color="#23ff9c"/><stop offset="0.473" stop-color="#5dff93"/><stop offset="0.546" stop-color="#a5ff89"/><stop offset="0.609" stop-color="#f8ff80"/><stop offset="0.614" stop-color="#ffff7f"/><stop offset="0.662" stop-color="#ffc15a"/><stop offset="0.725" stop-color="#ff8a39"/><stop offset="0.812" stop-color="#ff581d"/><stop offset="0.932" stop-color="#ff2f08"/><stop offset="1" stop-color="#ff2002"/></linearGradient><linearGradient id="g151" gradientUnits="userSpaceOnUse" x1="284.2" x2="1117.1"><stop offset="0" stop-color="#0fb"/><stop offset="0.312" stop-color="#03ffa6"/><stop offset="0.389" stop-color="#25ff9f"/><stop offset="0.471" stop-color="#5fff97"/><stop offset="0.543" stop-color="#a9ff8d"/><stop offset="0.606" stop-color="#feff84"/><stop offset="0.659" stop-color="#ffbc5b"/><stop offset="0.721" stop-color="#ff863a"/><stop offset="0.808" stop-color="#ff561e"/><stop offset="0.928" stop-color="#ff2e08"/><stop offset="1" stop-color="#ff1e02"/></linearGradient><linearGradient id="g152" gradientUnits="userSpaceOnUse" x1="285.0" x2="1121.2"><stop offset="0" stop-color="#00ffbe"/><stop offset="0.306" stop-color="#02ffaa"/><stop offset="0.383" stop-color="#23ffa4"/><stop offset="0.464" stop-color="#5eff9b"/><stop offset="0.536" stop-color="#a7ff92"/><stop offset="0.598" stop-color="#fcff8a"/><stop offset="0.656" stop-color="#ffb85c"/><stop offset="0.722" stop-color="#ff8039"/><stop offset="0.813" stop-color="#ff4f1c"/><stop offset="0.943" stop-color="#ff2807"/><stop offset="1" stop-color="#ff1c02"/></linearGradient><linearGradient id="g153" gradientUnits="userSpaceOnUse" x1="285.7" x2="1125.4"><stop offset="0" stop-color="#00ffc1"/><stop offset="0.306" stop-color="#03ffae"/><stop offset="0.383" stop-color="#26ffa8"/><stop offset="0.459" stop-color="#5effa0"/><stop offset="0.531" stop-color="#a9ff97"/><stop offset="0.593" stop-color="#ffff8e"/><stop offset="0.641" stop-color="#ffc065"/><stop offset="0.703" stop-color="#ff8741"/><stop offset="0.785" stop-color="#ff5824"/><stop offset="0.9" stop-color="#ff2f0c"/><stop offset="1" stop-color="#ff1a02"/></linearGradient><linearGradient id="g154" gradientUnits="userSpaceOnUse" x1="286.5" x2="1129.5"><stop offset="0" stop-color="#00ffc4"/><stop offset="0.3" stop-color="#02ffb2"/><stop offset="0.371" stop-color="#21ffac"/><stop offset="0.448" stop-color="#58ffa5"/><stop offset="0.519" stop-color="#a1ff9d"/><stop offset="0.581" stop-color="#f6ff95"/><stop offset="0.586" stop-color="#feff94"/><stop offset="0.638" stop-color="#fb6"/><stop offset="0.7" stop-color="#ff8442"/><stop offset="0.786" stop-color="#ff5323"/><stop offset="0.905" stop-color="#ff2b0b"/><stop offset="1" stop-color="#ff1802"/></linearGradient><linearGradient id="g155" gradientUnits="userSpaceOnUse" x1="287.3" x2="1133.7"><stop offset="0" stop-color="#00ffc7"/><stop offset="0.299" stop-color="#02ffb6"/><stop offset="0.37" stop-color="#22ffb1"/><stop offset="0.445" stop-color="#5affaa"/><stop offset="0.512" stop-color="#9fffa2"/><stop offset="0.573" stop-color="#f4ff9a"/><stop offset="0.583" stop-color="#fffa96"/><stop offset="0.63" stop-color="#ffbb6b"/><stop offset="0.692" stop-color="#ff8446"/><stop offset="0.777" stop-color="#ff5325"/><stop offset="0.896" stop-color="#ff2b0d"/><stop offset="1" stop-color="#ff1602"/></linearGradient><linearGradient id="g156" gradientUnits="userSpaceOnUse" x1="288.1" x2="1137.9"><stop offset="0" stop-color="#00ffca"/><stop offset="0.297" stop-color="#03ffba"/><stop offset="0.368" stop-color="#24ffb5"/><stop offset="0.443" stop-color="#5dffae"/><stop offset="0.509" stop-color="#a3ffa7"/><stop offset="0.575" stop-color="#fffc9d"/><stop offset="0.623" stop-color="#ffbc70"/><stop offset="0.684" stop-color="#ff8449"/><stop offset="0.764" stop-color="#ff5529"/><stop offset="0.877" stop-color="#ff2d0f"/><stop offset="1" stop-color="#ff1402"/></linearGradient><linearGradient id="g157" gradientUnits="userSpaceOnUse" x1="288.9" x2="1142.0"><stop offset="0" stop-color="#00ffce"/><stop offset="0.291" stop-color="#02ffbf"/><stop offset="0.362" stop-color="#22ffba"/><stop offset="0.437" stop-color="#5bffb3"/><stop offset="0.502" stop-color="#a1ffad"/><stop offset="0.559" stop-color="#f1ffa6"/><stop offset="0.568" stop-color="#fffda4"/><stop offset="0.615" stop-color="#ffbd75"/><stop offset="0.676" stop-color="#ff844d"/><stop offset="0.756" stop-color="#ff552c"/><stop offset="0.869" stop-color="#ff2d11"/><stop offset="1" stop-color="#ff1302"/></linearGradient><linearGradient id="g158" gradientUnits="userSpaceOnUse" x1="289.7" x2="1146.2"><stop offset="0" stop-color="#00ffd1"/><stop offset="0.29" stop-color="#02ffc3"/><stop offset="0.36" stop-color="#23ffbe"/><stop offset="0.435" stop-color="#5dffb8"/><stop offset="0.5" stop-color="#a5ffb2"/><stop offset="0.556" stop-color="#f7ffac"/><stop offset="0.561" stop-color="#ffffab"/><stop offset="0.603" stop-color="#ffc37e"/><stop offset="0.659" stop-color="#ff8b56"/><stop offset="0.734" stop-color="#ff5b33"/><stop offset="0.841" stop-color="#ff3116"/><stop offset="1" stop-color="#ff1102"/></linearGradient><linearGradient id="g159" gradientUnits="userSpaceOnUse" x1="290.5" x2="1150.3"><stop offset="0" stop-color="#00ffd5"/><stop offset="0.29" stop-color="#03ffc8"/><stop offset="0.36" stop-color="#26ffc3"/><stop offset="0.43" stop-color="#5dffbe"/><stop offset="0.495" stop-color="#a7ffb8"/><stop offset="0.556" stop-color="#fffcaf"/><stop offset="0.598" stop-color="#ffc081"/><stop offset="0.654" stop-color="#ff8958"/><stop offset="0.729" stop-color="#ff5934"/><stop offset="0.836" stop-color="#ff3017"/><stop offset="0.995" stop-color="#ff1002"/><stop offset="1" stop-color="#ff0f02"/></linearGradient><linearGradient id="g160" gradientUnits="userSpaceOnUse" x1="291.3" x2="1154.5"><stop offset="0" stop-color="#00ffd8"/><stop offset="0.284" stop-color="#02ffcc"/><stop offset="0.353" stop-color="#24ffc8"/><stop offset="0.423" stop-color="#5cffc3"/><stop offset="0.488" stop-color="#a5ffbe"/><stop offset="0.549" stop-color="#fffdb7"/><stop offset="0.591" stop-color="#ffc187"/><stop offset="0.647" stop-color="#ff895c"/><stop offset="0.721" stop-color="#ff5937"/><stop offset="0.828" stop-color="#ff2f18"/><stop offset="0.986" stop-color="#ff1003"/><stop offset="1" stop-color="#ff0e02"/></linearGradient><linearGradient id="g161" gradientUnits="userSpaceOnUse" x1="292.1" x2="1158.6"><stop offset="0" stop-color="#00ffdc"/><stop offset="0.282" stop-color="#03ffd1"/><stop offset="0.352" stop-color="#25ffcd"/><stop offset="0.421" stop-color="#5effc9"/><stop offset="0.486" stop-color="#a9ffc3"/><stop offset="0.542" stop-color="#ffffbe"/><stop offset="0.583" stop-color="#ffc18d"/><stop offset="0.639" stop-color="#ff8960"/><stop offset="0.713" stop-color="#ff583a"/><stop offset="0.819" stop-color="#ff2f1a"/><stop offset="0.972" stop-color="#ff1004"/><stop offset="1" stop-color="#ff0c02"/></linearGradient><linearGradient id="g162" gradientUnits="userSpaceOnUse" x1="292.9" x2="1162.8"><stop offset="0" stop-color="#00ffe0"/><stop offset="0.281" stop-color="#03ffd6"/><stop offset="0.35" stop-color="#27ffd2"/><stop offset="0.419" stop-color="#61ffce"/><stop offset="0.479" stop-color="#a7ffca"/><stop offset="0.535" stop-color="#fdffc5"/><stop offset="0.581" stop-color="#ffbc8e"/><stop offset="0.636" stop-color="#ff8561"/><stop offset="0.71" stop-color="#ff563b"/><stop offset="0.816" stop-color="#ff2d1b"/><stop offset="0.972" stop-color="#ff0e04"/><stop offset="1" stop-color="#ff0b02"/></linearGradient><linearGradient id="g163" gradientUnits="userSpaceOnUse" x1="293.6" x2="1167.0"><stop offset="0" stop-color="#00ffe3"/><stop offset="0.275" stop-color="#02ffdb"/><stop offset="0.339" stop-color="#22ffd8"/><stop offset="0.408" stop-color="#5affd4"/><stop offset="0.468" stop-color="#9fffd0"/><stop offset="0.523" stop-color="#f4ffcc"/><stop offset="0.532" stop-color="#fffac8"/><stop offset="0.573" stop-color="#ffbd94"/><stop offset="0.628" stop-color="#ff8565"/><stop offset="0.702" stop-color="#ff553e"/><stop offset="0.807" stop-color="#ff2d1c"/><stop offset="0.963" stop-color="#ff0e05"/><stop offset="1" stop-color="#ff0902"/></linearGradient><linearGradient id="g164" gradientUnits="userSpaceOnUse" x1="294.4" x2="1171.1"><stop offset="0" stop-color="#00ffe7"/><stop offset="0.274" stop-color="#03ffe0"/><stop offset="0.338" stop-color="#23ffdd"/><stop offset="0.406" stop-color="#5dffda"/><stop offset="0.466" stop-color="#a4ffd7"/><stop offset="0.521" stop-color="#faffd3"/><stop offset="0.53" stop-color="#fff3c9"/><stop offset="0.571" stop-color="#ffb895"/><stop offset="0.626" stop-color="#ff8267"/><stop offset="0.699" stop-color="#ff533f"/><stop offset="0.804" stop-color="#ff2b1d"/><stop offset="0.959" stop-color="#ff0d05"/><stop offset="1" stop-color="#ff0802"/></linearGradient><linearGradient id="g165" gradientUnits="userSpaceOnUse" x1="295.2" x2="1175.2"><stop offset="0" stop-color="#00ffeb"/><stop offset="0.269" stop-color="#02ffe5"/><stop offset="0.333" stop-color="#23ffe3"/><stop offset="0.402" stop-color="#5dffe0"/><stop offset="0.461" stop-color="#a5ffdd"/><stop offset="0.511" stop-color="#f5ffdb"/><stop offset="0.516" stop-color="#fdffda"/><stop offset="0.562" stop-color="#ffbb9e"/><stop offset="0.616" stop-color="#ff836c"/><stop offset="0.689" stop-color="#ff5342"/><stop offset="0.795" stop-color="#ff2b1f"/><stop offset="0.95" stop-color="#ff0c06"/><stop offset="1" stop-color="#ff0702"/></linearGradient><linearGradient id="g166" gradientUnits="userSpaceOnUse" x1="296.0" x2="1179.3"><stop offset="0" stop-color="#00ffef"/><stop offset="0.268" stop-color="#02ffea"/><stop offset="0.332" stop-color="#24ffe9"/><stop offset="0.395" stop-color="#5bffe7"/><stop offset="0.455" stop-color="#a3ffe4"/><stop offset="0.505" stop-color="#f3ffe2"/><stop offset="0.514" stop-color="#fffadd"/><stop offset="0.555" stop-color="#ffbca4"/><stop offset="0.609" stop-color="#ff8371"/><stop offset="0.682" stop-color="#ff5345"/><stop offset="0.782" stop-color="#ff2c22"/><stop offset="0.932" stop-color="#ff0d08"/><stop offset="1" stop-color="#ff0602"/></linearGradient><linearGradient id="g167" gradientUnits="userSpaceOnUse" x1="296.8" x2="1183.4"><stop offset="0" stop-color="#00fff3"/><stop offset="0.267" stop-color="#03fff0"/><stop offset="0.33" stop-color="#26ffee"/><stop offset="0.394" stop-color="#5effed"/><stop offset="0.452" stop-color="#a7ffeb"/><stop offset="0.507" stop-color="#fffce6"/><stop offset="0.548" stop-color="#ffbcab"/><stop offset="0.597" stop-color="#ff8779"/><stop offset="0.665" stop-color="#ff574d"/><stop offset="0.76" stop-color="#ff2f28"/><stop offset="0.9" stop-color="#ff100c"/><stop offset="1" stop-color="#ff0402"/></linearGradient><linearGradient id="g168" gradientUnits="userSpaceOnUse" x1="297.6" x2="1187.5"><stop offset="0" stop-color="#00fff8"/><stop offset="0.261" stop-color="#02fff5"/><stop offset="0.32" stop-color="#21fff5"/><stop offset="0.383" stop-color="#57fff4"/><stop offset="0.441" stop-color="#9ffff3"/><stop offset="0.491" stop-color="#effff2"/><stop offset="0.5" stop-color="#fffdf0"/><stop offset="0.541" stop-color="#ffbdb2"/><stop offset="0.59" stop-color="#ff877e"/><stop offset="0.658" stop-color="#ff5751"/><stop offset="0.752" stop-color="#ff2f2a"/><stop offset="0.892" stop-color="#ff100d"/><stop offset="1" stop-color="#ff0302"/></linearGradient><linearGradient id="g169" gradientUnits="userSpaceOnUse" x1="298.5" x2="1191.6"><stop offset="0" stop-color="#00fffc"/><stop offset="0.26" stop-color="#02fffb"/><stop offset="0.318" stop-color="#22fffb"/><stop offset="0.381" stop-color="#5afffa"/><stop offset="0.439" stop-color="#a3fffa"/><stop offset="0.489" stop-color="#f6fffa"/><stop offset="0.493" stop-color="#fffff9"/><stop offset="0.529" stop-color="#ffc3bf"/><stop offset="0.578" stop-color="#ff8b87"/><stop offset="0.646" stop-color="#ff5957"/><stop offset="0.74" stop-color="#ff302e"/><stop offset="0.879" stop-color="#ff100f"/><stop offset="1" stop-color="#ff0202"/></linearGradient><linearGradient id="g170" gradientUnits="userSpaceOnUse" x1="299.4" x2="1195.8"><stop offset="0" stop-color="#00feff"/><stop offset="0.259" stop-color="#03fdff"/><stop offset="0.321" stop-color="#27fdff"/><stop offset="0.384" stop-color="#61fdff"/><stop offset="0.437" stop-color="#a6fcff"/><stop offset="0.487" stop-color="#fbfcff"/><stop offset="0.5" stop-color="#ffe7ea"/><stop offset="0.54" stop-color="#ffadaf"/><stop offset="0.594" stop-color="#ff7779"/><stop offset="0.665" stop-color="#ff4a4c"/><stop offset="0.768" stop-color="#ff2525"/><stop offset="0.92" stop-color="#ff0909"/><stop offset="1" stop-color="#ff0202"/></linearGradient><linearGradient id="g171" gradientUnits="userSpaceOnUse" x1="300.2" x2="1199.9"><stop offset="0" stop-color="#00f9ff"/><stop offset="0.254" stop-color="#02f7ff"/><stop offset="0.313" stop-color="#22f7ff"/><stop offset="0.375" stop-color="#59f6ff"/><stop offset="0.433" stop-color="#a2f5ff"/><stop offset="0.482" stop-color="#f5f4ff"/><stop offset="0.487" stop-color="#fef4ff"/><stop offset="0.527" stop-color="#ffb5be"/><stop offset="0.576" stop-color="#ff8087"/><stop offset="0.643" stop-color="#ff5257"/><stop offset="0.737" stop-color="#ff2b2f"/><stop offset="0.875" stop-color="#ff0d0f"/><stop offset="1" stop-color="#ff0102"/></linearGradient><linearGradient id="g172" gradientUnits="userSpaceOnUse" x1="301.1" x2="1204.0"><stop offset="0" stop-color="#00f5ff"/><stop offset="0.253" stop-color="#03f1ff"/><stop offset="0.316" stop-color="#26f0ff"/><stop offset="0.378" stop-color="#5eefff"/><stop offset="0.436" stop-color="#a9edff"/><stop offset="0.484" stop-color="#fdecff"/><stop offset="0.529" stop-color="#ffaab9"/><stop offset="0.578" stop-color="#ff7985"/><stop offset="0.644" stop-color="#ff4d56"/><stop offset="0.742" stop-color="#ff262d"/><stop offset="0.884" stop-color="#ff0a0e"/><stop offset="1" stop-color="#ff0002"/></linearGradient><linearGradient id="g173" gradientUnits="userSpaceOnUse" x1="302.0" x2="1208.1"><stop offset="0" stop-color="#00f0ff"/><stop offset="0.248" stop-color="#02ecff"/><stop offset="0.31" stop-color="#23eaff"/><stop offset="0.372" stop-color="#5ae8ff"/><stop offset="0.429" stop-color="#a2e6ff"/><stop offset="0.478" stop-color="#f3e4ff"/><stop offset="0.487" stop-color="#ffdffa"/><stop offset="0.527" stop-color="#ffa5bb"/><stop offset="0.58" stop-color="#ff7182"/><stop offset="0.65" stop-color="#ff4552"/><stop offset="0.748" stop-color="#ff222b"/><stop offset="0.894" stop-color="#ff080d"/><stop offset="1" stop-color="#ff0002"/></linearGradient><linearGradient id="g174" gradientUnits="userSpaceOnUse" x1="302.8" x2="1212.2"><stop offset="0" stop-color="#00ecff"/><stop offset="0.247" stop-color="#02e6ff"/><stop offset="0.308" stop-color="#24e4ff"/><stop offset="0.37" stop-color="#5ae2ff"/><stop offset="0.427" stop-color="#a2dfff"/><stop offset="0.476" stop-color="#f2ddff"/><stop offset="0.485" stop-color="#ffd9fb"/><stop offset="0.524" stop-color="#ffa0bc"/><stop offset="0.577" stop-color="#ff6e83"/><stop offset="0.648" stop-color="#ff4353"/><stop offset="0.744" stop-color="#ff212b"/><stop offset="0.89" stop-color="#ff070d"/><stop offset="1" stop-color="#ff0002"/></linearGradient><linearGradient id="g175" gradientUnits="userSpaceOnUse" x1="303.7" x2="1216.3"><stop offset="0" stop-color="#00e8ff"/><stop offset="0.246" stop-color="#03e1ff"/><stop offset="0.307" stop-color="#24dfff"/><stop offset="0.373" stop-color="#5fdbff"/><stop offset="0.43" stop-color="#a8d8ff"/><stop offset="0.482" stop-color="#ffd2fc"/><stop offset="0.522" stop-color="#ff9bbd"/><stop offset="0.575" stop-color="#ff6a84"/><stop offset="0.645" stop-color="#ff4054"/><stop offset="0.741" stop-color="#ff1f2c"/><stop offset="0.886" stop-color="#ff060e"/><stop offset="1" stop-color="#ff0002"/></linearGradient><linearGradient id="g176" gradientUnits="userSpaceOnUse" x1="304.6" x2="1220.4"><stop offset="0" stop-color="#00e4ff"/><stop offset="0.241" stop-color="#02dcff"/><stop offset="0.303" stop-color="#23d9ff"/><stop offset="0.368" stop-color="#5dd5ff"/><stop offset="0.425" stop-color="#a4d2ff"/><stop offset="0.474" stop-color="#f4ceff"/><stop offset="0.478" stop-color="#fdcdff"/><stop offset="0.522" stop-color="#ff94bb"/><stop offset="0.575" stop-color="#ff6483"/><stop offset="0.645" stop-color="#ff3d53"/><stop offset="0.746" stop-color="#ff1b2b"/><stop offset="0.895" stop-color="#ff040c"/><stop offset="1" stop-color="#ff0002"/></linearGradient><linearGradient id="g177" gradientUnits="userSpaceOnUse" x1="305.5" x2="1224.6"><stop offset="0" stop-color="#00e0ff"/><stop offset="0.24" stop-color="#02d7ff"/><stop offset="0.301" stop-color="#23d3ff"/><stop offset="0.367" stop-color="#5dcfff"/><stop offset="0.424" stop-color="#a4cbff"/><stop offset="0.472" stop-color="#f3c7ff"/><stop offset="0.48" stop-color="#ffc2fa"/><stop offset="0.52" stop-color="#ff8fbc"/><stop offset="0.572" stop-color="#ff6184"/><stop offset="0.642" stop-color="#ff3a54"/><stop offset="0.742" stop-color="#ff1a2c"/><stop offset="0.891" stop-color="#ff030d"/><stop offset="1" stop-color="#ff0002"/></linearGradient><linearGradient id="g178" gradientUnits="userSpaceOnUse" x1="306.4" x2="1228.7"><stop offset="0" stop-color="#00dcff"/><stop offset="0.239" stop-color="#03d2ff"/><stop offset="0.3" stop-color="#24ceff"/><stop offset="0.365" stop-color="#5ec9ff"/><stop offset="0.422" stop-color="#a4c5ff"/><stop offset="0.474" stop-color="#fbbfff"/><stop offset="0.487" stop-color="#ffafeb"/><stop offset="0.53" stop-color="#ff7dad"/><stop offset="0.587" stop-color="#ff5277"/><stop offset="0.665" stop-color="#ff2d48"/><stop offset="0.774" stop-color="#ff1123"/><stop offset="0.935" stop-color="#ff0008"/><stop offset="1" stop-color="#ff0002"/></linearGradient><linearGradient id="g179" gradientUnits="userSpaceOnUse" x1="307.3" x2="1232.6"><stop offset="0" stop-color="#00d8ff"/><stop offset="0.234" stop-color="#02cdff"/><stop offset="0.294" stop-color="#21c9ff"/><stop offset="0.359" stop-color="#59c4ff"/><stop offset="0.416" stop-color="#9ebfff"/><stop offset="0.468" stop-color="#f2b9ff"/><stop offset="0.476" stop-color="#ffb6fc"/><stop offset="0.515" stop-color="#ff86bf"/><stop offset="0.567" stop-color="#ff5a86"/><stop offset="0.636" stop-color="#ff3556"/><stop offset="0.736" stop-color="#ff172d"/><stop offset="0.883" stop-color="#ff020e"/><stop offset="1" stop-color="#ff0002"/></linearGradient><linearGradient id="g180" gradientUnits="userSpaceOnUse" x1="308.2" x2="1236.3"><stop offset="0" stop-color="#00d4ff"/><stop offset="0.233" stop-color="#02c8ff"/><stop offset="0.293" stop-color="#22c3ff"/><stop offset="0.358" stop-color="#5abeff"/><stop offset="0.418" stop-color="#a3b8ff"/><stop offset="0.474" stop-color="#ffb0fd"/><stop offset="0.513" stop-color="#ff81c0"/><stop offset="0.565" stop-color="#ff5788"/><stop offset="0.634" stop-color="#ff3357"/><stop offset="0.733" stop-color="#ff152e"/><stop offset="0.879" stop-color="#ff010f"/><stop offset="1" stop-color="#ff0002"/></linearGradient><linearGradient id="g181" gradientUnits="userSpaceOnUse" x1="309.1" x2="1240.1"><stop offset="0" stop-color="#00d0ff"/><stop offset="0.233" stop-color="#03c3ff"/><stop offset="0.297" stop-color="#26beff"/><stop offset="0.362" stop-color="#60b8ff"/><stop offset="0.418" stop-color="#a6b2ff"/><stop offset="0.47" stop-color="#fbabff"/><stop offset="0.483" stop-color="#ff9cec"/><stop offset="0.526" stop-color="#ff6fae"/><stop offset="0.582" stop-color="#ff4879"/><stop offset="0.659" stop-color="#ff264a"/><stop offset="0.767" stop-color="#ff0d24"/><stop offset="0.914" stop-color="#ff000a"/><stop offset="1" stop-color="#ff0002"/></linearGradient><linearGradient id="g182" gradientUnits="userSpaceOnUse" x1="310.0" x2="1243.9"><stop offset="0" stop-color="#0cf"/><stop offset="0.227" stop-color="#02beff"/><stop offset="0.292" stop-color="#24b9ff"/><stop offset="0.356" stop-color="#5cb3ff"/><stop offset="0.416" stop-color="#a5acff"/><stop offset="0.472" stop-color="#ffa2fc"/><stop offset="0.511" stop-color="#ff77c0"/><stop offset="0.562" stop-color="#ff4f88"/><stop offset="0.631" stop-color="#ff2e58"/><stop offset="0.73" stop-color="#ff122f"/><stop offset="0.876" stop-color="#ff000f"/><stop offset="1" stop-color="#ff0002"/></linearGradient><linearGradient id="g183" gradientUnits="userSpaceOnUse" x1="310.9" x2="1247.7"><stop offset="0" stop-color="#00c8ff"/><stop offset="0.226" stop-color="#02baff"/><stop offset="0.291" stop-color="#24b4ff"/><stop offset="0.355" stop-color="#5cadff"/><stop offset="0.415" stop-color="#a5a6ff"/><stop offset="0.47" stop-color="#ff9dfd"/><stop offset="0.509" stop-color="#ff73c1"/><stop offset="0.56" stop-color="#ff4c89"/><stop offset="0.628" stop-color="#ff2b59"/><stop offset="0.726" stop-color="#ff1130"/><stop offset="0.872" stop-color="#ff0010"/><stop offset="1" stop-color="#ff0002"/></linearGradient><linearGradient id="g184" gradientUnits="userSpaceOnUse" x1="312.0" x2="1251.5"><stop offset="0" stop-color="#00c4ff"/><stop offset="0.222" stop-color="#02b5ff"/><stop offset="0.286" stop-color="#23afff"/><stop offset="0.35" stop-color="#5aa8ff"/><stop offset="0.41" stop-color="#a1a1ff"/><stop offset="0.462" stop-color="#f399ff"/><stop offset="0.47" stop-color="#ff95fb"/><stop offset="0.509" stop-color="#ff6cbf"/><stop offset="0.56" stop-color="#ff4888"/><stop offset="0.628" stop-color="#ff2859"/><stop offset="0.726" stop-color="#ff0f2f"/><stop offset="0.868" stop-color="#ff0010"/><stop offset="1" stop-color="#ff0002"/></linearGradient><linearGradient id="g185" gradientUnits="userSpaceOnUse" x1="313.1" x2="1255.3"><stop offset="0" stop-color="#00c1ff"/><stop offset="0.221" stop-color="#02b1ff"/><stop offset="0.285" stop-color="#24abff"/><stop offset="0.353" stop-color="#5ea3ff"/><stop offset="0.413" stop-color="#a79bff"/><stop offset="0.468" stop-color="#ff90fc"/><stop offset="0.506" stop-color="#ff68c0"/><stop offset="0.557" stop-color="#ff4589"/><stop offset="0.626" stop-color="#ff265a"/><stop offset="0.723" stop-color="#ff0e30"/><stop offset="0.86" stop-color="#ff0012"/><stop offset="1" stop-color="#ff0002"/></linearGradient><linearGradient id="g186" gradientUnits="userSpaceOnUse" x1="314.2" x2="1259.1"><stop offset="0" stop-color="#00bdff"/><stop offset="0.22" stop-color="#03acff"/><stop offset="0.284" stop-color="#24a6ff"/><stop offset="0.352" stop-color="#5f9eff"/><stop offset="0.411" stop-color="#a795ff"/><stop offset="0.466" stop-color="#ff8bfd"/><stop offset="0.504" stop-color="#ff64c1"/><stop offset="0.555" stop-color="#ff428a"/><stop offset="0.623" stop-color="#ff245b"/><stop offset="0.72" stop-color="#ff0c31"/><stop offset="0.856" stop-color="#ff0012"/><stop offset="1" stop-color="#ff0002"/></linearGradient><linearGradient id="g187" gradientUnits="userSpaceOnUse" x1="315.3" x2="1259.1"><stop offset="0" stop-color="#00b9ff"/><stop offset="0.217" stop-color="#02a8ff"/><stop offset="0.281" stop-color="#23a1ff"/><stop offset="0.349" stop-color="#5c99ff"/><stop offset="0.409" stop-color="#a490ff"/><stop offset="0.46" stop-color="#f487ff"/><stop offset="0.468" stop-color="#ff83fa"/><stop offset="0.511" stop-color="#ff5bba"/><stop offset="0.566" stop-color="#ff3982"/><stop offset="0.638" stop-color="#ff1d53"/><stop offset="0.74" stop-color="#ff082c"/><stop offset="0.868" stop-color="#f01"/><stop offset="1" stop-color="#ff0003"/></linearGradient><linearGradient id="g188" gradientUnits="userSpaceOnUse" x1="316.3" x2="1259.1"><stop offset="0" stop-color="#00b6ff"/><stop offset="0.217" stop-color="#03a4ff"/><stop offset="0.281" stop-color="#239dff"/><stop offset="0.349" stop-color="#5d94ff"/><stop offset="0.409" stop-color="#a48bff"/><stop offset="0.46" stop-color="#f482ff"/><stop offset="0.468" stop-color="#ff7efb"/><stop offset="0.511" stop-color="#ff58bb"/><stop offset="0.566" stop-color="#ff3683"/><stop offset="0.638" stop-color="#ff1c54"/><stop offset="0.74" stop-color="#ff072d"/><stop offset="0.868" stop-color="#f01"/><stop offset="1" stop-color="#ff0003"/></linearGradient><linearGradient id="g189" gradientUnits="userSpaceOnUse" x1="317.3" x2="1259.1"><stop offset="0" stop-color="#00b2ff"/><stop offset="0.217" stop-color="#03a0ff"/><stop offset="0.285" stop-color="#2798ff"/><stop offset="0.353" stop-color="#618fff"/><stop offset="0.413" stop-color="#a985ff"/><stop offset="0.468" stop-color="#ff79fc"/><stop offset="0.511" stop-color="#ff54bc"/><stop offset="0.566" stop-color="#ff3484"/><stop offset="0.638" stop-color="#ff1a55"/><stop offset="0.74" stop-color="#ff062d"/><stop offset="0.872" stop-color="#f01"/><stop offset="1" stop-color="#ff0003"/></linearGradient><linearGradient id="g190" gradientUnits="userSpaceOnUse" x1="318.3" x2="1251.1"><stop offset="0" stop-color="#00afff"/><stop offset="0.215" stop-color="#029cff"/><stop offset="0.279" stop-color="#2294ff"/><stop offset="0.348" stop-color="#598bff"/><stop offset="0.412" stop-color="#a381ff"/><stop offset="0.472" stop-color="#ff74fd"/><stop offset="0.515" stop-color="#ff50bd"/><stop offset="0.571" stop-color="#ff3185"/><stop offset="0.644" stop-color="#ff1856"/><stop offset="0.747" stop-color="#ff052e"/><stop offset="0.897" stop-color="#ff000f"/><stop offset="1" stop-color="#ff0004"/></linearGradient><linearGradient id="g191" gradientUnits="userSpaceOnUse" x1="319.4" x2="1242.7"><stop offset="0" stop-color="#00abff"/><stop offset="0.217" stop-color="#0398ff"/><stop offset="0.287" stop-color="#268fff"/><stop offset="0.357" stop-color="#5f86ff"/><stop offset="0.417" stop-color="#a67cff"/><stop offset="0.474" stop-color="#fc71ff"/><stop offset="0.526" stop-color="#ff49b7"/><stop offset="0.583" stop-color="#ff2c81"/><stop offset="0.661" stop-color="#ff1351"/><stop offset="0.77" stop-color="#ff022a"/><stop offset="0.935" stop-color="#ff000c"/><stop offset="1" stop-color="#ff0005"/></linearGradient><linearGradient id="g192" gradientUnits="userSpaceOnUse" x1="320.4" x2="1234.4"><stop offset="0" stop-color="#00a8ff"/><stop offset="0.215" stop-color="#0294ff"/><stop offset="0.285" stop-color="#248cff"/><stop offset="0.355" stop-color="#5b82ff"/><stop offset="0.421" stop-color="#a577ff"/><stop offset="0.478" stop-color="#fb6cff"/><stop offset="0.496" stop-color="#ff5ee6"/><stop offset="0.544" stop-color="#ff3ea9"/><stop offset="0.605" stop-color="#ff2375"/><stop offset="0.693" stop-color="#ff0d47"/><stop offset="0.816" stop-color="#f02"/><stop offset="1" stop-color="#ff0007"/></linearGradient><linearGradient id="g193" gradientUnits="userSpaceOnUse" x1="321.4" x2="1226.1"><stop offset="0" stop-color="#00a4ff"/><stop offset="0.217" stop-color="#0290ff"/><stop offset="0.288" stop-color="#2488ff"/><stop offset="0.358" stop-color="#5c7dff"/><stop offset="0.425" stop-color="#a572ff"/><stop offset="0.487" stop-color="#ff65fd"/><stop offset="0.531" stop-color="#ff45be"/><stop offset="0.588" stop-color="#ff2987"/><stop offset="0.668" stop-color="#f15"/><stop offset="0.779" stop-color="#ff012d"/><stop offset="0.942" stop-color="#ff000e"/><stop offset="1" stop-color="#ff0008"/></linearGradient><linearGradient id="g194" gradientUnits="userSpaceOnUse" x1="322.5" x2="1217.8"><stop offset="0" stop-color="#00a1ff"/><stop offset="0.22" stop-color="#038cff"/><stop offset="0.291" stop-color="#2683ff"/><stop offset="0.363" stop-color="#5d79ff"/><stop offset="0.43" stop-color="#a76dff"/><stop offset="0.489" stop-color="#fc62ff"/><stop offset="0.543" stop-color="#ff3eb8"/><stop offset="0.605" stop-color="#ff227f"/><stop offset="0.691" stop-color="#ff0d4f"/><stop offset="0.812" stop-color="#ff0027"/><stop offset="0.991" stop-color="#ff000a"/><stop offset="1" stop-color="#ff0009"/></linearGradient><linearGradient id="g195" gradientUnits="userSpaceOnUse" x1="323.5" x2="1209.4"><stop offset="0" stop-color="#009eff"/><stop offset="0.217" stop-color="#0289ff"/><stop offset="0.29" stop-color="#2380ff"/><stop offset="0.367" stop-color="#5e75ff"/><stop offset="0.434" stop-color="#a769ff"/><stop offset="0.493" stop-color="#fb5dff"/><stop offset="0.516" stop-color="#ff4ee0"/><stop offset="0.566" stop-color="#ff32a6"/><stop offset="0.633" stop-color="#ff1971"/><stop offset="0.729" stop-color="#ff0643"/><stop offset="0.855" stop-color="#ff0020"/><stop offset="1" stop-color="#ff000b"/></linearGradient><linearGradient id="g196" gradientUnits="userSpaceOnUse" x1="324.5" x2="1201.1"><stop offset="0" stop-color="#009aff"/><stop offset="0.219" stop-color="#0385ff"/><stop offset="0.292" stop-color="#247cff"/><stop offset="0.37" stop-color="#5e70ff"/><stop offset="0.438" stop-color="#a765ff"/><stop offset="0.502" stop-color="#ff57fd"/><stop offset="0.548" stop-color="#ff3abf"/><stop offset="0.607" stop-color="#ff2188"/><stop offset="0.689" stop-color="#ff0c57"/><stop offset="0.804" stop-color="#ff002f"/><stop offset="0.973" stop-color="#ff000f"/><stop offset="1" stop-color="#ff000c"/></linearGradient><linearGradient id="g197" gradientUnits="userSpaceOnUse" x1="325.5" x2="1192.8"><stop offset="0" stop-color="#0097ff"/><stop offset="0.222" stop-color="#0381ff"/><stop offset="0.296" stop-color="#2578ff"/><stop offset="0.375" stop-color="#606cff"/><stop offset="0.444" stop-color="#a960ff"/><stop offset="0.505" stop-color="#fd54ff"/><stop offset="0.56" stop-color="#ff33b9"/><stop offset="0.625" stop-color="#ff1b81"/><stop offset="0.713" stop-color="#ff0851"/><stop offset="0.833" stop-color="#ff002a"/><stop offset="1" stop-color="#ff000e"/></linearGradient><linearGradient id="g198" gradientUnits="userSpaceOnUse" x1="326.6" x2="1184.4"><stop offset="0" stop-color="#0094ff"/><stop offset="0.22" stop-color="#027eff"/><stop offset="0.294" stop-color="#2375ff"/><stop offset="0.374" stop-color="#5c69ff"/><stop offset="0.444" stop-color="#a35dff"/><stop offset="0.505" stop-color="#f451ff"/><stop offset="0.514" stop-color="#ff4dfb"/><stop offset="0.561" stop-color="#ff33bf"/><stop offset="0.621" stop-color="#ff1c88"/><stop offset="0.706" stop-color="#ff0958"/><stop offset="0.822" stop-color="#ff002f"/><stop offset="0.995" stop-color="#ff0010"/><stop offset="1" stop-color="#ff000f"/></linearGradient><linearGradient id="g199" gradientUnits="userSpaceOnUse" x1="327.6" x2="1176.1"><stop offset="0" stop-color="#0091ff"/><stop offset="0.222" stop-color="#037bff"/><stop offset="0.297" stop-color="#2471ff"/><stop offset="0.377" stop-color="#5c65ff"/><stop offset="0.448" stop-color="#a359ff"/><stop offset="0.509" stop-color="#f34cff"/><stop offset="0.519" stop-color="#ff4afc"/><stop offset="0.566" stop-color="#ff30c0"/><stop offset="0.627" stop-color="#ff1a8a"/><stop offset="0.712" stop-color="#ff0859"/><stop offset="0.83" stop-color="#ff0030"/><stop offset="1" stop-color="#f01"/></linearGradient><linearGradient id="g200" gradientUnits="userSpaceOnUse" x1="328.6" x2="1167.8"><stop offset="0" stop-color="#008eff"/><stop offset="0.22" stop-color="#0278ff"/><stop offset="0.297" stop-color="#226eff"/><stop offset="0.378" stop-color="#5a62ff"/><stop offset="0.45" stop-color="#9f55ff"/><stop offset="0.517" stop-color="#f648ff"/><stop offset="0.526" stop-color="#ff44fa"/><stop offset="0.574" stop-color="#ff2cbe"/><stop offset="0.641" stop-color="#ff1685"/><stop offset="0.732" stop-color="#ff0554"/><stop offset="0.856" stop-color="#ff002c"/><stop offset="1" stop-color="#ff0013"/></linearGradient><linearGradient id="g201" gradientUnits="userSpaceOnUse" x1="329.7" x2="1159.4"><stop offset="0" stop-color="#008bff"/><stop offset="0.222" stop-color="#0374ff"/><stop offset="0.304" stop-color="#2569ff"/><stop offset="0.386" stop-color="#5e5dff"/><stop offset="0.459" stop-color="#a450ff"/><stop offset="0.527" stop-color="#fc43ff"/><stop offset="0.575" stop-color="#ff2bc5"/><stop offset="0.638" stop-color="#ff168d"/><stop offset="0.725" stop-color="#ff065b"/><stop offset="0.845" stop-color="#ff0032"/><stop offset="1" stop-color="#ff0015"/></linearGradient><linearGradient id="g202" gradientUnits="userSpaceOnUse" x1="330.7" x2="1151.1"><stop offset="0" stop-color="#08f"/><stop offset="0.224" stop-color="#0371ff"/><stop offset="0.307" stop-color="#2666ff"/><stop offset="0.39" stop-color="#5e59ff"/><stop offset="0.468" stop-color="#aa4cff"/><stop offset="0.537" stop-color="#ff3dfc"/><stop offset="0.59" stop-color="#ff25bc"/><stop offset="0.659" stop-color="#ff1184"/><stop offset="0.751" stop-color="#ff0354"/><stop offset="0.883" stop-color="#ff002c"/><stop offset="1" stop-color="#ff0016"/></linearGradient><linearGradient id="g203" gradientUnits="userSpaceOnUse" x1="331.7" x2="1142.8"><stop offset="0" stop-color="#0085ff"/><stop offset="0.223" stop-color="#026eff"/><stop offset="0.307" stop-color="#2463ff"/><stop offset="0.391" stop-color="#5c56ff"/><stop offset="0.47" stop-color="#a649ff"/><stop offset="0.54" stop-color="#fd3bff"/><stop offset="0.599" stop-color="#ff21ba"/><stop offset="0.668" stop-color="#ff0f83"/><stop offset="0.762" stop-color="#ff0154"/><stop offset="0.896" stop-color="#ff002b"/><stop offset="1" stop-color="#ff0019"/></linearGradient><linearGradient id="g204" gradientUnits="userSpaceOnUse" x1="332.8" x2="1134.5"><stop offset="0" stop-color="#0082ff"/><stop offset="0.225" stop-color="#036aff"/><stop offset="0.31" stop-color="#255fff"/><stop offset="0.4" stop-color="#6052ff"/><stop offset="0.48" stop-color="#ab44ff"/><stop offset="0.545" stop-color="#fc37ff"/><stop offset="0.61" stop-color="#ff1db7"/><stop offset="0.68" stop-color="#ff0c81"/><stop offset="0.775" stop-color="#ff0053"/><stop offset="0.91" stop-color="#ff002b"/><stop offset="1" stop-color="#ff001b"/></linearGradient><linearGradient id="g205" gradientUnits="userSpaceOnUse" x1="333.8" x2="1126.1"><stop offset="0" stop-color="#007fff"/><stop offset="0.227" stop-color="#0367ff"/><stop offset="0.313" stop-color="#255cff"/><stop offset="0.404" stop-color="#614eff"/><stop offset="0.485" stop-color="#ab41ff"/><stop offset="0.556" stop-color="#ff32fc"/><stop offset="0.611" stop-color="#ff1dbd"/><stop offset="0.682" stop-color="#ff0c86"/><stop offset="0.778" stop-color="#ff0056"/><stop offset="0.914" stop-color="#ff002d"/><stop offset="1" stop-color="#ff001d"/></linearGradient><linearGradient id="g206" gradientUnits="userSpaceOnUse" x1="334.9" x2="1117.8"><stop offset="0" stop-color="#007cff"/><stop offset="0.226" stop-color="#0365ff"/><stop offset="0.313" stop-color="#2459ff"/><stop offset="0.405" stop-color="#5e4cff"/><stop offset="0.487" stop-color="#a83eff"/><stop offset="0.559" stop-color="#fd30ff"/><stop offset="0.621" stop-color="#ff19bb"/><stop offset="0.692" stop-color="#ff0985"/><stop offset="0.79" stop-color="#f05"/><stop offset="0.928" stop-color="#ff002d"/><stop offset="1" stop-color="#ff001f"/></linearGradient><linearGradient id="g207" gradientUnits="userSpaceOnUse" x1="336.2" x2="1109.5"><stop offset="0" stop-color="#0079ff"/><stop offset="0.228" stop-color="#0361ff"/><stop offset="0.316" stop-color="#2556ff"/><stop offset="0.409" stop-color="#5f48ff"/><stop offset="0.492" stop-color="#a83aff"/><stop offset="0.565" stop-color="#fc2cff"/><stop offset="0.632" stop-color="#ff16b8"/><stop offset="0.71" stop-color="#ff0680"/><stop offset="0.813" stop-color="#ff0050"/><stop offset="0.959" stop-color="#ff0029"/><stop offset="1" stop-color="#f02"/></linearGradient><linearGradient id="g208" gradientUnits="userSpaceOnUse" x1="337.5" x2="1101.1"><stop offset="0" stop-color="#0076ff"/><stop offset="0.226" stop-color="#035fff"/><stop offset="0.316" stop-color="#2453ff"/><stop offset="0.411" stop-color="#5d45ff"/><stop offset="0.495" stop-color="#a537ff"/><stop offset="0.568" stop-color="#f82aff"/><stop offset="0.574" stop-color="#ff29ff"/><stop offset="0.632" stop-color="#ff16bf"/><stop offset="0.705" stop-color="#ff0788"/><stop offset="0.805" stop-color="#ff0057"/><stop offset="0.947" stop-color="#ff002e"/><stop offset="1" stop-color="#ff0024"/></linearGradient><linearGradient id="g209" gradientUnits="userSpaceOnUse" x1="338.7" x2="1092.8"><stop offset="0" stop-color="#0073ff"/><stop offset="0.229" stop-color="#035cff"/><stop offset="0.324" stop-color="#274fff"/><stop offset="0.42" stop-color="#6141ff"/><stop offset="0.505" stop-color="#a3f"/><stop offset="0.58" stop-color="#fe25ff"/><stop offset="0.644" stop-color="#ff12bc"/><stop offset="0.723" stop-color="#ff0483"/><stop offset="0.83" stop-color="#ff0053"/><stop offset="0.979" stop-color="#ff002b"/><stop offset="1" stop-color="#ff0027"/></linearGradient><linearGradient id="g210" gradientUnits="userSpaceOnUse" x1="340.0" x2="1084.5"><stop offset="0" stop-color="#0070ff"/><stop offset="0.226" stop-color="#0259ff"/><stop offset="0.317" stop-color="#224eff"/><stop offset="0.414" stop-color="#5a40ff"/><stop offset="0.5" stop-color="#9f32ff"/><stop offset="0.575" stop-color="#f024ff"/><stop offset="0.586" stop-color="#fd22ff"/><stop offset="0.656" stop-color="#ff0fb8"/><stop offset="0.737" stop-color="#ff0281"/><stop offset="0.844" stop-color="#ff0052"/><stop offset="1" stop-color="#ff002a"/></linearGradient><linearGradient id="g211" gradientUnits="userSpaceOnUse" x1="341.3" x2="1076.1"><stop offset="0" stop-color="#006eff"/><stop offset="0.23" stop-color="#0356ff"/><stop offset="0.328" stop-color="#264aff"/><stop offset="0.426" stop-color="#5f3cff"/><stop offset="0.514" stop-color="#a72eff"/><stop offset="0.596" stop-color="#ff1ffe"/><stop offset="0.656" stop-color="#ff0fc0"/><stop offset="0.732" stop-color="#ff0389"/><stop offset="0.836" stop-color="#ff0059"/><stop offset="0.984" stop-color="#ff0030"/><stop offset="1" stop-color="#ff002d"/></linearGradient><linearGradient id="g212" gradientUnits="userSpaceOnUse" x1="342.6" x2="1067.8"><stop offset="0" stop-color="#006bff"/><stop offset="0.227" stop-color="#0254ff"/><stop offset="0.326" stop-color="#2448ff"/><stop offset="0.425" stop-color="#5c3aff"/><stop offset="0.519" stop-color="#a62bff"/><stop offset="0.597" stop-color="#f81dff"/><stop offset="0.602" stop-color="#ff1cff"/><stop offset="0.663" stop-color="#ff0dc1"/><stop offset="0.74" stop-color="#ff028a"/><stop offset="0.845" stop-color="#ff005a"/><stop offset="0.994" stop-color="#ff0031"/><stop offset="1" stop-color="#ff0030"/></linearGradient><linearGradient id="g213" gradientUnits="userSpaceOnUse" x1="343.9" x2="1059.5"><stop offset="0" stop-color="#0068ff"/><stop offset="0.23" stop-color="#0351ff"/><stop offset="0.331" stop-color="#2644ff"/><stop offset="0.433" stop-color="#5e36ff"/><stop offset="0.528" stop-color="#a927ff"/><stop offset="0.612" stop-color="#ff19fc"/><stop offset="0.674" stop-color="#ff0abf"/><stop offset="0.758" stop-color="#ff0086"/><stop offset="0.871" stop-color="#f05"/><stop offset="1" stop-color="#f03"/></linearGradient><linearGradient id="g214" gradientUnits="userSpaceOnUse" x1="345.2" x2="1051.1"><stop offset="0" stop-color="#06f"/><stop offset="0.233" stop-color="#034eff"/><stop offset="0.335" stop-color="#2642ff"/><stop offset="0.443" stop-color="#6233ff"/><stop offset="0.54" stop-color="#ae24ff"/><stop offset="0.619" stop-color="#ff16fd"/><stop offset="0.682" stop-color="#ff09c0"/><stop offset="0.767" stop-color="#ff0087"/><stop offset="0.881" stop-color="#ff0056"/><stop offset="1" stop-color="#ff0036"/></linearGradient><linearGradient id="g215" gradientUnits="userSpaceOnUse" x1="346.4" x2="1042.8"><stop offset="0" stop-color="#0063ff"/><stop offset="0.23" stop-color="#034cff"/><stop offset="0.333" stop-color="#2440ff"/><stop offset="0.443" stop-color="#5e31ff"/><stop offset="0.54" stop-color="#a822ff"/><stop offset="0.626" stop-color="#ff14ff"/><stop offset="0.69" stop-color="#ff07c1"/><stop offset="0.776" stop-color="#f08"/><stop offset="0.891" stop-color="#ff0057"/><stop offset="1" stop-color="#ff0039"/></linearGradient><linearGradient id="g216" gradientUnits="userSpaceOnUse" x1="347.7" x2="1034.5"><stop offset="0" stop-color="#0060ff"/><stop offset="0.234" stop-color="#0349ff"/><stop offset="0.339" stop-color="#263dff"/><stop offset="0.45" stop-color="#602eff"/><stop offset="0.55" stop-color="#ab1fff"/><stop offset="0.632" stop-color="#fc12ff"/><stop offset="0.713" stop-color="#ff03b6"/><stop offset="0.807" stop-color="#ff007e"/><stop offset="0.93" stop-color="#ff004f"/><stop offset="1" stop-color="#ff003d"/></linearGradient><linearGradient id="g217" gradientUnits="userSpaceOnUse" x1="349.0" x2="1026.2"><stop offset="0" stop-color="#005eff"/><stop offset="0.231" stop-color="#0347ff"/><stop offset="0.337" stop-color="#243bff"/><stop offset="0.45" stop-color="#5d2cff"/><stop offset="0.55" stop-color="#a51dff"/><stop offset="0.645" stop-color="#ff0efd"/><stop offset="0.71" stop-color="#ff04c1"/><stop offset="0.799" stop-color="#f08"/><stop offset="0.917" stop-color="#ff0058"/><stop offset="1" stop-color="#ff0041"/></linearGradient><linearGradient id="g218" gradientUnits="userSpaceOnUse" x1="350.5" x2="1017.8"><stop offset="0" stop-color="#005bff"/><stop offset="0.235" stop-color="#0344ff"/><stop offset="0.343" stop-color="#2538ff"/><stop offset="0.458" stop-color="#5f29ff"/><stop offset="0.56" stop-color="#a81aff"/><stop offset="0.651" stop-color="#fe0dff"/><stop offset="0.729" stop-color="#ff01ba"/><stop offset="0.819" stop-color="#ff0084"/><stop offset="0.946" stop-color="#ff0053"/><stop offset="1" stop-color="#f04"/></linearGradient><linearGradient id="g219" gradientUnits="userSpaceOnUse" x1="352.1" x2="1009.5"><stop offset="0" stop-color="#0059ff"/><stop offset="0.232" stop-color="#0342ff"/><stop offset="0.341" stop-color="#2336ff"/><stop offset="0.457" stop-color="#5c27ff"/><stop offset="0.561" stop-color="#a319ff"/><stop offset="0.652" stop-color="#f60bff"/><stop offset="0.665" stop-color="#ff0afb"/><stop offset="0.738" stop-color="#f0b"/><stop offset="0.829" stop-color="#ff0085"/><stop offset="0.957" stop-color="#ff0054"/><stop offset="1" stop-color="#ff0049"/></linearGradient><linearGradient id="g220" gradientUnits="userSpaceOnUse" x1="353.6" x2="1001.2"><stop offset="0" stop-color="#0056ff"/><stop offset="0.236" stop-color="#0340ff"/><stop offset="0.354" stop-color="#2732ff"/><stop offset="0.472" stop-color="#6123ff"/><stop offset="0.578" stop-color="#aa15ff"/><stop offset="0.671" stop-color="#ff08fe"/><stop offset="0.745" stop-color="#ff00be"/><stop offset="0.839" stop-color="#ff0087"/><stop offset="0.969" stop-color="#f05"/><stop offset="1" stop-color="#ff004d"/></linearGradient><linearGradient id="g221" gradientUnits="userSpaceOnUse" x1="355.2" x2="992.8"><stop offset="0" stop-color="#0054ff"/><stop offset="0.233" stop-color="#033eff"/><stop offset="0.352" stop-color="#2530ff"/><stop offset="0.472" stop-color="#5e22ff"/><stop offset="0.579" stop-color="#a514ff"/><stop offset="0.673" stop-color="#f807ff"/><stop offset="0.679" stop-color="#ff06ff"/><stop offset="0.755" stop-color="#ff00bf"/><stop offset="0.849" stop-color="#f08"/><stop offset="0.981" stop-color="#ff0056"/><stop offset="1" stop-color="#ff0051"/></linearGradient><linearGradient id="g222" gradientUnits="userSpaceOnUse" x1="356.7" x2="984.5"><stop offset="0" stop-color="#0051ff"/><stop offset="0.237" stop-color="#033bff"/><stop offset="0.359" stop-color="#272eff"/><stop offset="0.481" stop-color="#601fff"/><stop offset="0.59" stop-color="#a811ff"/><stop offset="0.692" stop-color="#ff04fc"/><stop offset="0.769" stop-color="#ff00bd"/><stop offset="0.872" stop-color="#ff0084"/><stop offset="1" stop-color="#ff0056"/></linearGradient><linearGradient id="g223" gradientUnits="userSpaceOnUse" x1="358.3" x2="976.2"><stop offset="0" stop-color="#004fff"/><stop offset="0.234" stop-color="#0339ff"/><stop offset="0.357" stop-color="#252cff"/><stop offset="0.487" stop-color="#601dff"/><stop offset="0.597" stop-color="#a80fff"/><stop offset="0.701" stop-color="#ff03fd"/><stop offset="0.779" stop-color="#ff00be"/><stop offset="0.883" stop-color="#ff0085"/><stop offset="1" stop-color="#ff005b"/></linearGradient><linearGradient id="g224" gradientUnits="userSpaceOnUse" x1="359.8" x2="967.8"><stop offset="0" stop-color="#004cff"/><stop offset="0.237" stop-color="#0337ff"/><stop offset="0.362" stop-color="#262aff"/><stop offset="0.493" stop-color="#611aff"/><stop offset="0.612" stop-color="#ac0cff"/><stop offset="0.711" stop-color="#ff01fe"/><stop offset="0.789" stop-color="#ff00bf"/><stop offset="0.895" stop-color="#ff0086"/><stop offset="1" stop-color="#ff0060"/></linearGradient><linearGradient id="g225" gradientUnits="userSpaceOnUse" x1="361.4" x2="959.5"><stop offset="0" stop-color="#004aff"/><stop offset="0.235" stop-color="#0335ff"/><stop offset="0.362" stop-color="#2528ff"/><stop offset="0.497" stop-color="#5f19ff"/><stop offset="0.617" stop-color="#aa0bff"/><stop offset="0.718" stop-color="#fd00ff"/><stop offset="0.812" stop-color="#ff00b9"/><stop offset="0.919" stop-color="#ff0082"/><stop offset="1" stop-color="#ff0065"/></linearGradient><linearGradient id="g226" gradientUnits="userSpaceOnUse" x1="362.9" x2="951.2"><stop offset="0" stop-color="#0048ff"/><stop offset="0.238" stop-color="#0333ff"/><stop offset="0.367" stop-color="#2526ff"/><stop offset="0.503" stop-color="#5f17ff"/><stop offset="0.626" stop-color="#aa09ff"/><stop offset="0.735" stop-color="#ff00fc"/><stop offset="0.816" stop-color="#ff00be"/><stop offset="0.925" stop-color="#ff0086"/><stop offset="1" stop-color="#ff006a"/></linearGradient><linearGradient id="g227" gradientUnits="userSpaceOnUse" x1="364.5" x2="942.8"><stop offset="0" stop-color="#0045ff"/><stop offset="0.236" stop-color="#0331ff"/><stop offset="0.368" stop-color="#2424ff"/><stop offset="0.507" stop-color="#5e15ff"/><stop offset="0.632" stop-color="#a707ff"/><stop offset="0.743" stop-color="#f0f"/><stop offset="0.826" stop-color="#ff00c0"/><stop offset="0.938" stop-color="#f08"/><stop offset="1" stop-color="#ff0070"/></linearGradient><linearGradient id="g228" gradientUnits="userSpaceOnUse" x1="366.0" x2="934.5"><stop offset="0" stop-color="#0043ff"/><stop offset="0.239" stop-color="#032fff"/><stop offset="0.38" stop-color="#2721ff"/><stop offset="0.521" stop-color="#6212ff"/><stop offset="0.648" stop-color="#ac05ff"/><stop offset="0.754" stop-color="#fd00ff"/><stop offset="0.852" stop-color="#ff00b9"/><stop offset="0.965" stop-color="#ff0083"/><stop offset="1" stop-color="#ff0076"/></linearGradient><linearGradient id="g229" gradientUnits="userSpaceOnUse" x1="367.5" x2="926.2"><stop offset="0" stop-color="#0041ff"/><stop offset="0.237" stop-color="#032dff"/><stop offset="0.381" stop-color="#261fff"/><stop offset="0.525" stop-color="#6011ff"/><stop offset="0.655" stop-color="#aa04ff"/><stop offset="0.77" stop-color="#ff00fd"/><stop offset="0.856" stop-color="#ff00c0"/><stop offset="0.971" stop-color="#ff0087"/><stop offset="1" stop-color="#ff007c"/></linearGradient><linearGradient id="g230" gradientUnits="userSpaceOnUse" x1="369.1" x2="917.9"><stop offset="0" stop-color="#003fff"/><stop offset="0.241" stop-color="#032bff"/><stop offset="0.387" stop-color="#271dff"/><stop offset="0.533" stop-color="#610fff"/><stop offset="0.664" stop-color="#a903ff"/><stop offset="0.781" stop-color="#f0f"/><stop offset="0.869" stop-color="#ff00c1"/><stop offset="0.985" stop-color="#ff0089"/><stop offset="1" stop-color="#ff0083"/></linearGradient><linearGradient id="g231" gradientUnits="userSpaceOnUse" x1="370.6" x2="909.5"><stop offset="0" stop-color="#003dff"/><stop offset="0.239" stop-color="#0329ff"/><stop offset="0.388" stop-color="#261cff"/><stop offset="0.537" stop-color="#5f0dff"/><stop offset="0.672" stop-color="#a702ff"/><stop offset="0.791" stop-color="#fd00ff"/><stop offset="0.903" stop-color="#ff00b6"/><stop offset="1" stop-color="#ff008a"/></linearGradient><linearGradient id="g232" gradientUnits="userSpaceOnUse" x1="372.2" x2="901.2"><stop offset="0" stop-color="#003aff"/><stop offset="0.242" stop-color="#0327ff"/><stop offset="0.394" stop-color="#271aff"/><stop offset="0.545" stop-color="#5f0cff"/><stop offset="0.682" stop-color="#a701ff"/><stop offset="0.811" stop-color="#ff00fd"/><stop offset="0.902" stop-color="#ff00c0"/><stop offset="1" stop-color="#ff0091"/></linearGradient><linearGradient id="g233" gradientUnits="userSpaceOnUse" x1="373.9" x2="892.9"><stop offset="0" stop-color="#0038ff"/><stop offset="0.24" stop-color="#0326ff"/><stop offset="0.395" stop-color="#2618ff"/><stop offset="0.558" stop-color="#620aff"/><stop offset="0.698" stop-color="#a0f"/><stop offset="0.822" stop-color="#f0f"/><stop offset="0.915" stop-color="#ff00c2"/><stop offset="1" stop-color="#f09"/></linearGradient><linearGradient id="g234" gradientUnits="userSpaceOnUse" x1="375.6" x2="884.5"><stop offset="0" stop-color="#0036ff"/><stop offset="0.244" stop-color="#0323ff"/><stop offset="0.402" stop-color="#2616ff"/><stop offset="0.567" stop-color="#6208ff"/><stop offset="0.709" stop-color="#a900ff"/><stop offset="0.835" stop-color="#fe00ff"/><stop offset="0.945" stop-color="#f0b"/><stop offset="1" stop-color="#ff00a1"/></linearGradient><linearGradient id="g235" gradientUnits="userSpaceOnUse" x1="377.4" x2="876.2"><stop offset="0" stop-color="#0034ff"/><stop offset="0.242" stop-color="#0322ff"/><stop offset="0.403" stop-color="#2615ff"/><stop offset="0.573" stop-color="#6107ff"/><stop offset="0.726" stop-color="#ac00ff"/><stop offset="0.855" stop-color="#ff00fd"/><stop offset="0.96" stop-color="#ff00bd"/><stop offset="1" stop-color="#ff00a9"/></linearGradient><linearGradient id="g236" gradientUnits="userSpaceOnUse" x1="379.1" x2="867.9"><stop offset="0" stop-color="#0032ff"/><stop offset="0.238" stop-color="#0321ff"/><stop offset="0.402" stop-color="#2414ff"/><stop offset="0.574" stop-color="#5d06ff"/><stop offset="0.73" stop-color="#a700ff"/><stop offset="0.869" stop-color="#ff00fe"/><stop offset="0.975" stop-color="#ff00be"/><stop offset="1" stop-color="#ff00b2"/></linearGradient><linearGradient id="g237" gradientUnits="userSpaceOnUse" x1="380.8" x2="859.5"><stop offset="0" stop-color="#0030ff"/><stop offset="0.244" stop-color="#031fff"/><stop offset="0.412" stop-color="#2512ff"/><stop offset="0.588" stop-color="#6005ff"/><stop offset="0.748" stop-color="#a0f"/><stop offset="0.882" stop-color="#fd00ff"/><stop offset="1" stop-color="#ff00bc"/></linearGradient><linearGradient id="g238" gradientUnits="userSpaceOnUse" x1="382.5" x2="851.2"><stop offset="0" stop-color="#002eff"/><stop offset="0.239" stop-color="#031dff"/><stop offset="0.41" stop-color="#2411ff"/><stop offset="0.59" stop-color="#5c04ff"/><stop offset="0.752" stop-color="#a500ff"/><stop offset="0.906" stop-color="#ff00fc"/><stop offset="1" stop-color="#ff00c6"/></linearGradient><linearGradient id="g239" gradientUnits="userSpaceOnUse" x1="384.2" x2="842.9"><stop offset="0" stop-color="#002cff"/><stop offset="0.246" stop-color="#031bff"/><stop offset="0.43" stop-color="#270eff"/><stop offset="0.614" stop-color="#6202ff"/><stop offset="0.781" stop-color="#ac00ff"/><stop offset="0.921" stop-color="#f0f"/><stop offset="1" stop-color="#ff00d0"/></linearGradient><linearGradient id="g240" gradientUnits="userSpaceOnUse" x1="385.9" x2="834.6"><stop offset="0" stop-color="#002aff"/><stop offset="0.241" stop-color="#031aff"/><stop offset="0.429" stop-color="#260dff"/><stop offset="0.616" stop-color="#5f01ff"/><stop offset="0.786" stop-color="#a700ff"/><stop offset="0.938" stop-color="#fe00ff"/><stop offset="1" stop-color="#ff00db"/></linearGradient><linearGradient id="g241" gradientUnits="userSpaceOnUse" x1="387.6" x2="826.2"><stop offset="0" stop-color="#0028ff"/><stop offset="0.248" stop-color="#0318ff"/><stop offset="0.44" stop-color="#270bff"/><stop offset="0.633" stop-color="#6100ff"/><stop offset="0.807" stop-color="#a0f"/><stop offset="0.963" stop-color="#ff00fc"/><stop offset="1" stop-color="#ff00e7"/></linearGradient><linearGradient id="g242" gradientUnits="userSpaceOnUse" x1="389.3" x2="817.9"><stop offset="0" stop-color="#0026ff"/><stop offset="0.243" stop-color="#0317ff"/><stop offset="0.439" stop-color="#260bff"/><stop offset="0.645" stop-color="#6100ff"/><stop offset="0.822" stop-color="#a0f"/><stop offset="0.981" stop-color="#ff00fe"/><stop offset="1" stop-color="#ff00f3"/></linearGradient><linearGradient id="g243" gradientUnits="userSpaceOnUse" x1="391.0" x2="809.6"><stop offset="0" stop-color="#0024ff"/><stop offset="0.25" stop-color="#0415ff"/><stop offset="0.452" stop-color="#2709ff"/><stop offset="0.663" stop-color="#6300ff"/><stop offset="0.846" stop-color="#ad00ff"/><stop offset="1" stop-color="#fe00ff"/></linearGradient><linearGradient id="g244" gradientUnits="userSpaceOnUse" x1="392.7" x2="801.2"><stop offset="0" stop-color="#0023ff"/><stop offset="0.245" stop-color="#0314ff"/><stop offset="0.451" stop-color="#2508ff"/><stop offset="0.667" stop-color="#6000ff"/><stop offset="0.853" stop-color="#a700ff"/><stop offset="1" stop-color="#f100ff"/></linearGradient><linearGradient id="g245" gradientUnits="userSpaceOnUse" x1="394.4" x2="792.9"><stop offset="0" stop-color="#0021ff"/><stop offset="0.253" stop-color="#0413ff"/><stop offset="0.465" stop-color="#2707ff"/><stop offset="0.687" stop-color="#6200ff"/><stop offset="0.879" stop-color="#a0f"/><stop offset="1" stop-color="#e400ff"/></linearGradient><linearGradient id="g246" gradientUnits="userSpaceOnUse" x1="396.2" x2="784.6"><stop offset="0" stop-color="#001fff"/><stop offset="0.247" stop-color="#0312ff"/><stop offset="0.464" stop-color="#2506ff"/><stop offset="0.691" stop-color="#5f00ff"/><stop offset="0.897" stop-color="#a0f"/><stop offset="1" stop-color="#d900ff"/></linearGradient><linearGradient id="g247" gradientUnits="userSpaceOnUse" x1="397.9" x2="776.2"><stop offset="0" stop-color="#001dff"/><stop offset="0.245" stop-color="#0310ff"/><stop offset="0.468" stop-color="#2505ff"/><stop offset="0.702" stop-color="#5e00ff"/><stop offset="0.915" stop-color="#a800ff"/><stop offset="1" stop-color="#cd00ff"/></linearGradient><linearGradient id="g248" gradientUnits="userSpaceOnUse" x1="399.6" x2="767.9"><stop offset="0" stop-color="#001cff"/><stop offset="0.25" stop-color="#030fff"/><stop offset="0.489" stop-color="#2703ff"/><stop offset="0.728" stop-color="#6100ff"/><stop offset="0.946" stop-color="#ac00ff"/><stop offset="1" stop-color="#c200ff"/></linearGradient><linearGradient id="g249" gradientUnits="userSpaceOnUse" x1="401.3" x2="759.6"><stop offset="0" stop-color="#001aff"/><stop offset="0.247" stop-color="#030eff"/><stop offset="0.494" stop-color="#2603ff"/><stop offset="0.742" stop-color="#6000ff"/><stop offset="0.966" stop-color="#ab00ff"/><stop offset="1" stop-color="#b800ff"/></linearGradient><linearGradient id="g250" gradientUnits="userSpaceOnUse" x1="403.0" x2="751.2"><stop offset="0" stop-color="#0018ff"/><stop offset="0.253" stop-color="#030cff"/><stop offset="0.506" stop-color="#2702ff"/><stop offset="0.759" stop-color="#6000ff"/><stop offset="0.989" stop-color="#a0f"/><stop offset="1" stop-color="#ae00ff"/></linearGradient><linearGradient id="g251" gradientUnits="userSpaceOnUse" x1="404.6" x2="742.9"><stop offset="0" stop-color="#0017ff"/><stop offset="0.25" stop-color="#030bff"/><stop offset="0.512" stop-color="#2601ff"/><stop offset="0.774" stop-color="#5f00ff"/><stop offset="1" stop-color="#a400ff"/></linearGradient><linearGradient id="g252" gradientUnits="userSpaceOnUse" x1="406.3" x2="734.6"><stop offset="0" stop-color="#0015ff"/><stop offset="0.256" stop-color="#030aff"/><stop offset="0.524" stop-color="#2700ff"/><stop offset="0.805" stop-color="#6200ff"/><stop offset="1" stop-color="#9b00ff"/></linearGradient><linearGradient id="g253" gradientUnits="userSpaceOnUse" x1="408.0" x2="726.3"><stop offset="0" stop-color="#0014ff"/><stop offset="0.253" stop-color="#0309ff"/><stop offset="0.532" stop-color="#2600ff"/><stop offset="0.823" stop-color="#6200ff"/><stop offset="1" stop-color="#9300ff"/></linearGradient><linearGradient id="g254" gradientUnits="userSpaceOnUse" x1="409.7" x2="717.9"><stop offset="0" stop-color="#0012ff"/><stop offset="0.26" stop-color="#0408ff"/><stop offset="0.545" stop-color="#2600ff"/><stop offset="0.844" stop-color="#6100ff"/><stop offset="1" stop-color="#8a00ff"/></linearGradient><linearGradient id="g255" gradientUnits="userSpaceOnUse" x1="411.4" x2="709.6"><stop offset="0" stop-color="#01f"/><stop offset="0.257" stop-color="#0307ff"/><stop offset="0.554" stop-color="#2600ff"/><stop offset="0.865" stop-color="#6100ff"/><stop offset="1" stop-color="#8200ff"/></linearGradient><linearGradient id="g256" gradientUnits="userSpaceOnUse" x1="413.1" x2="701.3"><stop offset="0" stop-color="#000fff"/><stop offset="0.264" stop-color="#0406ff"/><stop offset="0.583" stop-color="#2800ff"/><stop offset="0.903" stop-color="#6400ff"/><stop offset="1" stop-color="#7a00ff"/></linearGradient><linearGradient id="g257" gradientUnits="userSpaceOnUse" x1="414.7" x2="692.9"><stop offset="0" stop-color="#000eff"/><stop offset="0.261" stop-color="#0305ff"/><stop offset="0.58" stop-color="#2600ff"/><stop offset="0.913" stop-color="#6000ff"/><stop offset="1" stop-color="#7300ff"/></linearGradient><linearGradient id="g258" gradientUnits="userSpaceOnUse" x1="416.4" x2="684.6"><stop offset="0" stop-color="#000dff"/><stop offset="0.269" stop-color="#0404ff"/><stop offset="0.612" stop-color="#2800ff"/><stop offset="0.955" stop-color="#6300ff"/><stop offset="1" stop-color="#6c00ff"/></linearGradient><linearGradient id="g259" gradientUnits="userSpaceOnUse" x1="418.1" x2="676.3"><stop offset="0" stop-color="#000bff"/><stop offset="0.281" stop-color="#0403ff"/><stop offset="0.641" stop-color="#2a00ff"/><stop offset="1" stop-color="#6500ff"/></linearGradient><linearGradient id="g260" gradientUnits="userSpaceOnUse" x1="419.8" x2="667.9"><stop offset="0" stop-color="#000aff"/><stop offset="0.274" stop-color="#0403ff"/><stop offset="0.645" stop-color="#2800ff"/><stop offset="1" stop-color="#5f00ff"/></linearGradient><linearGradient id="g261" gradientUnits="userSpaceOnUse" x1="421.8" x2="659.6"><stop offset="0" stop-color="#0009ff"/><stop offset="0.288" stop-color="#0502ff"/><stop offset="0.678" stop-color="#2900ff"/><stop offset="1" stop-color="#5800ff"/></linearGradient><linearGradient id="g262" gradientUnits="userSpaceOnUse" x1="423.9" x2="651.3"><stop offset="0" stop-color="#0008ff"/><stop offset="0.286" stop-color="#0401ff"/><stop offset="0.696" stop-color="#2900ff"/><stop offset="1" stop-color="#5200ff"/></linearGradient><linearGradient id="g263" gradientUnits="userSpaceOnUse" x1="425.9" x2="642.9"><stop offset="0" stop-color="#0006ff"/><stop offset="0.278" stop-color="#0401ff"/><stop offset="0.704" stop-color="#2700ff"/><stop offset="1" stop-color="#4d00ff"/></linearGradient><linearGradient id="g264" gradientUnits="userSpaceOnUse" x1="427.9" x2="634.6"><stop offset="0" stop-color="#0005ff"/><stop offset="0.294" stop-color="#0500ff"/><stop offset="0.745" stop-color="#2900ff"/><stop offset="1" stop-color="#4700ff"/></linearGradient><linearGradient id="g265" gradientUnits="userSpaceOnUse" x1="430.0" x2="626.3"><stop offset="0" stop-color="#0004ff"/><stop offset="0.306" stop-color="#0500ff"/><stop offset="0.796" stop-color="#2b00ff"/><stop offset="1" stop-color="#4200ff"/></linearGradient><linearGradient id="g266" gradientUnits="userSpaceOnUse" x1="432.0" x2="618.0"><stop offset="0" stop-color="#0003ff"/><stop offset="0.304" stop-color="#0500ff"/><stop offset="0.826" stop-color="#2b00ff"/><stop offset="1" stop-color="#3d00ff"/></linearGradient><linearGradient id="g267" gradientUnits="userSpaceOnUse" x1="434.0" x2="609.6"><stop offset="0" stop-color="#0002ff"/><stop offset="0.326" stop-color="#0600ff"/><stop offset="0.884" stop-color="#2d00ff"/><stop offset="1" stop-color="#3800ff"/></linearGradient><linearGradient id="g268" gradientUnits="userSpaceOnUse" x1="436.0" x2="601.3"><stop offset="0" stop-color="#0001ff"/><stop offset="0.341" stop-color="#0600ff"/><stop offset="0.927" stop-color="#2d00ff"/><stop offset="1" stop-color="#30f"/></linearGradient><linearGradient id="g269" gradientUnits="userSpaceOnUse" x1="438.1" x2="593.0"><stop offset="0" stop-color="#0001ff"/><stop offset="0.342" stop-color="#0600ff"/><stop offset="0.974" stop-color="#2d00ff"/><stop offset="1" stop-color="#2f00ff"/></linearGradient><linearGradient id="g270" gradientUnits="userSpaceOnUse" x1="440.1" x2="584.6"><stop offset="0" stop-color="#00f"/><stop offset="0.389" stop-color="#0700ff"/><stop offset="1" stop-color="#2b00ff"/></linearGradient><linearGradient id="g271" gradientUnits="userSpaceOnUse" x1="442.1" x2="576.3"><stop offset="0" stop-color="#00f"/><stop offset="0.424" stop-color="#0800ff"/><stop offset="1" stop-color="#2700ff"/></linearGradient><linearGradient id="g272" gradientUnits="userSpaceOnUse" x1="444.9" x2="568.0"><stop offset="0" stop-color="#00f"/><stop offset="0.467" stop-color="#0900ff"/><stop offset="1" stop-color="#2300ff"/></linearGradient><linearGradient id="g273" gradientUnits="userSpaceOnUse" x1="448.3" x2="559.6"><stop offset="0" stop-color="#00f"/><stop offset="0.556" stop-color="#0c00ff"/><stop offset="1" stop-color="#1f00ff"/></linearGradient><linearGradient id="g274" gradientUnits="userSpaceOnUse" x1="451.6" x2="551.3"><stop offset="0" stop-color="#00f"/><stop offset="0.708" stop-color="#1000ff"/><stop offset="1" stop-color="#1c00ff"/></linearGradient><linearGradient id="g275" gradientUnits="userSpaceOnUse" x1="454.9" x2="543.0"><stop offset="0" stop-color="#00f"/><stop offset="0.909" stop-color="#1500ff"/><stop offset="1" stop-color="#1800ff"/></linearGradient><linearGradient id="g276" gradientUnits="userSpaceOnUse" x1="458.3" x2="534.7"><stop offset="0" stop-color="#00f"/><stop offset="1" stop-color="#1500ff"/></linearGradient><linearGradient id="g277" gradientUnits="userSpaceOnUse" x1="461.6" x2="526.3"><stop offset="0" stop-color="#00f"/><stop offset="1" stop-color="#1200ff"/></linearGradient><linearGradient id="g278" gradientUnits="userSpaceOnUse" x1="465.0" x2="518.0"><stop offset="0" stop-color="#0100ff"/><stop offset="1" stop-color="#0f00ff"/></linearGradient><linearGradient id="g279" gradientUnits="userSpaceOnUse" x1="468.3" x2="509.7"><stop offset="0" stop-color="#0200ff"/><stop offset="1" stop-color="#0d00ff"/></linearGradient><linearGradient id="g280" gradientUnits="userSpaceOnUse" x1="471.7" x2="501.3"><stop offset="0" stop-color="#0200ff"/><stop offset="1" stop-color="#0a00ff"/></linearGradient><clipPath id="gc"><path d="M305.5 206.5L311.0 192.8L326.2 180.4L345.4 172.2L367.4 168.1L383.8 168.9L408.6 173.6L436.0 181.8L463.5 193.6L491.0 210.7L527.5 232.6L559.7 253.2L587.1 273.8L630.0 309.6L684.8 356.0L732.9 400.0L781.0 446.0L824.0 489.0L850.0 518.5L942.7 609.7L998.3 662.3L1080.2 747.2L1159.0 823.0L1220.9 883.2L1250.2 914.1L484.0 1282.0L452.0 1243.7L428.8 1198.0L409.6 1152.4L380.8 1085.0L358.0 1026.0L343.5 980.8L324.0 905.0L319.4 888.0L312.2 855.8L306.0 827.0L290.6 749.0L281.0 692.0L269.0 610.6L261.0 545.0L257.0 480.0L254.2 420.0L254.7 381.0L257.5 339.8L263.0 309.6L271.2 276.6L280.8 251.9L293.2 224.4Z"/></clipPath><filter id="vb" x="0" y="0" width="100%" height="100%" filterUnits="objectBoundingBox" color-interpolation-filters="sRGB"><feGaussianBlur stdDeviation="0 2.2"/></filter><g id="sT" fill="none" stroke-linejoin="miter"><path transform="translate(308.6 1472.9) scale(2.85 -2.85)" d="M0 0h30.5v1h2v1h14v1h2v-1h1v1h11v1h6v-1h2v-1h2v-1h2v1h1v1h1v1h1v-1h1v1h1v1h3v2h1v-1h1v1h1v1h1v-1h1v1h2v1h1v1h1v1h1v-1h1v1h6v1h9v1h1v-1h2v1h2v1h1v-1h4v1h1v-1h6v1h6v-2h1v1h1v1h1v-1h1v1h5v-1h4v-1h2v1h2v-1h1v-1h1v1h10v-1h3v-1h4v-1h7v-1h3v-1h2v-1h2v-1h1v-1h2v1h6v-1h3v1h1v-1h4v1h1v-1h13v-1h1v1h1v-1h3v1h1v-1h36v-1h1v1h3v-1h1v1h3v-1h1v1h1v-1h1v1h1v-1h2v1h1v-1h18v1h1v-1h16v1h1v-1h8v1h1v-1h33v-1h1v1h9v1h2v-1h3v2h1v-2h11v1h2v1h1v2h1v6h1v7h1v-6h1v-5h1v3h1v5h1v9h1v-7h1v-12h1v-2h1v-1h2v-1h1v1h1v-1h14v1h2v1h3v3h1v2h1v2h1v1h1v10h1v17h1v69h1v-14h1v-32h1v5h1v-54h1v-2h1v-1h1v-1h1v-1h2v-1h1v-1h1v-1h1v1h1v-1h1v1h1v-2h1v-1h1v-1h3v-1h3v-1h82v1h10v1h6v1h1v1h2v1h9v2h1v-5h1v1h1v2h1v1h1v-3h1v-1h1v-1h1v-1h69.5" stroke="#ff0000"/><path transform="translate(282.7 1527.4) scale(2.85 -2.85)" d="M0 0h35.5v1h3v1h1v-1h1v1h11v1h1v-1h1v1h9v1h1v-1h5v-1h2v-1h2v1h2v1h1v1h2v1h2v1h2v1h4v2h4v1h1v1h5v1h2v-1h1v1h10v1h1v-1h1v1h12v1h2v-1h1v1h4v-1h1v1h2v-1h6v1h1v-1h4v-1h1v1h6v-1h5v-2h1v2h1v-1h2v-1h1v1h2v-1h4v-1h6v-1h3v-1h3v-1h1v-1h1v-1h2v1h6v-1h1v1h1v-1h1v1h3v-1h12v-1h4v1h2v-1h28v1h1v-1h4v-1h2v1h4v-1h1v1h1v-1h85v1h1v-2h1v1h1v1h1v-1h18v2h1v-2h1v1h1v-1h8v1h3v2h1v1h1v8h1v7h1v-6h1v-6h1v3h1v6h1v11h1v-8h1v-14h1v-3h1v-1h3v-1h15v1h2v1h2v1h1v2h1v2h1v4h1v1h1v11h1v21h1v80h1v-14h1v-55h1v17h1v-58h1v-3h1v-1h1v-1h1v-1h2v-1h1v-2h1v-1h1v-1h1v1h2v-2h2v-2h3v-1h5v-1h31v1h1v-1h1v1h1v-1h47v1h9v1h2v1h1v-1h2v1h2v2h3v1h2v1h1v-2h1v1h2v-1h1v1h1v1h1v-4h2v2h1v2h1v-4h1v-1h1v-1h1v-1h69.5" stroke="#0000cd"/><path transform="translate(261.3 1579.5) scale(2.85 -2.85)" d="M0 0h40.5v1h2v1h9v1h1v-1h3v1h2v-1h1v1h9v-1h3v-1h1v1h3v1h1v1h1v1h3v1h2v1h3v1h2v1h2v1h3v1h1v-1h1v1h2v-1h1v2h1v-1h1v1h8v1h15v1h1v-1h1v1h1v-1h1v1h3v-1h1v3h1v-2h1v-1h3v1h1v-1h3v1h1v-1h6v-1h1v1h1v1h1v-2h1v1h1v-1h5v-1h1v1h1v-1h1v-1h1v1h1v-1h1v1h1v-1h3v-1h1v1h1v-2h1v2h1v-1h2v-1h1v1h1v-1h3v-1h1v-1h2v-1h1v-1h2v1h11v-1h16v-1h1v1h1v-1h3v1h1v-1h1v1h1v-1h4v1h1v-1h2v1h1v-1h16v-1h1v1h2v-1h1v1h4v-1h4v1h1v-1h8v1h1v-1h6v1h1v-1h1v1h1v-1h3v1h2v-1h76v1h1v-1h1v1h1v-1h3v1h1v2h1v-3h3v1h1v-1h4v1h1v-1h2v1h2v3h1v2h1v11h1v10h1v-8h1v-10h1v5h1v9h1v15h1v-12h1v-20h1v-3h1v-1h2v-1h1v-1h14v1h1v-1h1v2h1v1h2v1h1v3h1v4h1v3h1v4h1v16h1v28h1v112h1v-14h1v-82h1v19h1v-78h1v-3h1v-2h1v-1h1v-1h1v-1h1v-2h1v-2h1v-1h2v1h2v-2h1v-1h1v-2h1v-1h1v-1h2v-1h5v-1h30v1h6v-1h42v1h6v1h5v1h2v1h1v-1h1v1h3v2h1v1h1v1h2v1h2v-2h1v1h3v1h1v1h1v-6h1v1h1v2h1v2h1v-4h1v-2h1v-1h1v-2h69.5" stroke="#008000"/><path transform="translate(238.6 1631.3) scale(2.85 -2.85)" d="M0 0h45.5v1h2v1h11v1h1v-1h1v1h7v-1h3v-1h2v1h2v1h1v1h2v1h2v1h2v1h3v1h2v1h2v1h3v1h6v1h2v-1h2v1h1v1h2v-1h1v1h1v-1h1v-1h1v2h2v-1h2v1h10v1h1v-1h6v1h1v-1h1v1h1v-1h5v-1h1v1h4v-1h1v1h2v-1h1v1h1v-1h1v1h1v-1h1v1h1v-2h3v1h1v-1h4v-1h6v-1h1v1h1v-1h3v-1h2v1h1v-1h2v-1h3v-1h1v-1h1v-1h2v1h8v-1h16v-1h1v1h1v-1h1v1h1v-1h3v1h1v-1h1v1h1v-1h21v-1h1v1h6v-1h3v1h2v-1h1v1h2v-1h3v1h1v-1h2v1h2v-1h1v1h2v-1h1v1h1v-1h95v5h1v-5h1v1h1v-1h7v1h2v1h2v3h1v4h1v15h1v13h1v-11h1v-13h1v7h1v13h1v19h1v-17h1v-26h1v-5h1v-1h1v-1h1v-1h3v-1h10v1h3v1h1v1h1v1h1v1h1v1h1v4h1v5h1v5h1v6h1v22h1v40h1v160h1v-15h1v-127h1v38h1v-117h1v-6h1v-1h1v-2h1v-1h1v-1h1v-3h1v-2h1v-2h2v1h1v1h1v-4h1v-2h1v-2h1v-1h1v-1h2v-1h2v-1h3v-1h29v1h7v-1h42v1h4v1h4v1h3v1h3v1h3v1h1v3h1v1h2v1h1v1h1v1h1v-3h1v1h1v1h1v-1h1v1h1v2h1v-8h2v3h1v4h1v-6h1v-2h1v-2h1v-2h1v-1h68.5" stroke="#ba55d3"/><path transform="translate(211.8 1691.0) scale(2.85 -2.85)" d="M0 0h50.5v1h2v1h10v1h1v-1h1v1h2v-1h4v-1h2v1h1v1h2v1h1v1h1v-1h1v1h1v1h2v1h2v1h1v1h1v-1h2v1h2v1h1v1h5v1h1v-1h3v1h4v1h1v-1h4v1h1v-1h1v1h2v-1h1v1h9v1h1v-1h1v1h1v-1h1v1h2v-1h1v1h2v-1h16v-1h2v1h1v-1h4v-1h2v1h1v-1h2v-1h2v1h1v-1h4v-1h4v-1h1v1h1v-1h5v-1h1v-1h1v-1h1v-1h2v1h10v-1h12v-1h1v1h2v-1h1v1h3v-1h7v1h1v-1h2v1h1v-1h25v-1h3v1h1v-1h2v1h1v-1h2v1h2v-1h2v1h4v-1h85v1h1v-1h5v1h1v-1h4v6h1v-5h3v-1h3v1h1v-1h1v1h3v1h1v1h1v5h1v4h1v18h1v17h1v-13h1v-17h1v9h1v17h1v26h1v-20h1v-37h1v-6h1v-2h1v-1h1v-1h1v-1h2v-1h10v1h2v1h2v1h1v2h1v2h1v2h1v5h1v6h1v5h1v9h1v29h1v52h1v208h1v-15h1v-169h1v55h1v-159h1v-5h1v-3h1v-3h1v-1h1v-3h1v-3h1v-3h1v-3h2v1h1v1h1v-4h1v-2h1v-3h2v-2h1v-1h2v-1h2v-1h2v-1h29v1h8v-1h41v1h2v1h5v1h2v1h1v1h3v1h4v2h1v4h1v1h1v1h1v1h1v1h2v-3h1v1h1v1h2v1h1v3h1v-12h1v1h1v6h1v3h1v-9h1v-2h1v-2h1v-3h1v-1h68.5" stroke="#ee0a80"/><path transform="translate(187.9 1745.3) scale(2.85 -2.85)" d="M0 0h55.5v1h1v1h14v-1h2v1h1v1h2v1h3v1h2v1h1v1h2v1h3v2h2v-1h1v1h2v1h1v-1h1v2h2v-2h1v1h3v-1h1v2h1v-1h1v2h1v-1h1v1h1v-1h1v2h1v-3h1v2h3v-1h1v2h1v-1h1v-2h2v1h2v1h6v-1h2v1h6v-1h1v1h11v-1h1v1h2v-1h11v-1h4v-1h4v-1h4v-1h1v1h1v-1h1v1h1v-1h1v-1h2v-1h2v-1h1v-1h2v1h9v-1h18v-1h1v1h1v-1h1v1h1v-1h2v1h1v-1h1v1h1v-1h32v-1h1v1h2v-1h1v1h1v-1h2v1h1v-1h4v1h1v-1h96v1h1v5h1v-5h3v-1h2v1h6v1h1v1h1v5h1v4h1v22h1v19h1v-15h1v-20h1v10h1v18h1v29h1v-23h1v-39h1v-7h1v-1h1v-2h1v-1h1v-1h2v-1h10v1h1v1h2v1h1v2h1v1h1v2h1v1h1v5h1v7h1v9h1v7h1v33h1v57h1v228h1v-15h1v-176h1v60h1v-186h1v-7h1v-2h1v-3h1v-1h1v-4h1v-1h1v-5h1v-2h1v-1h1v2h1v1h1v-4h1v-4h1v-2h1v-1h1v-1h1v-2h2v-1h2v-1h2v-1h1v1h1v-1h27v1h5v1h2v-1h1v-1h40v1h3v1h3v1h3v1h2v1h2v1h3v1h1v1h2v5h1v1h1v1h1v1h1v1h1v1h1v-3h1v1h1v1h1v-2h1v2h1v4h1v-13h1v1h1v6h1v4h1v-10h1v-3h1v-2h1v-3h1v-1h68.5" stroke="#48e8f8"/><path transform="translate(160.3 1797.6) scale(2.85 -2.85)" d="M0 0h60.5v1h2v1h8v-1h2v1h1v1h2v1h2v1h3v1h2v1h2v1h3v1h1v1h3v1h6v1h2v-1h2v1h1v1h2v-2h1v2h3v1h1v-1h1v-2h1v2h1v-1h2v-1h1v1h2v1h5v-1h1v1h5v1h1v-1h11v-1h4v1h3v-1h1v-1h1v1h1v1h1v-1h3v-1h1v1h1v-1h2v-1h1v1h1v-1h4v1h1v-1h2v-1h1v-1h3v1h1v-1h1v-1h1v1h1v-1h2v-1h2v-1h1v-1h2v1h6v-1h3v1h2v-1h2v1h1v-1h12v-1h2v1h5v-1h1v1h1v-1h33v-1h1v1h1v-1h1v1h2v-1h1v1h2v-1h6v1h1v-1h4v1h1v-1h51v1h1v-1h37v1h1v6h1v-6h3v-1h1v1h7v1h1v2h1v5h1v5h1v24h1v22h1v-18h1v-21h1v10h1v21h1v32h1v-25h1v-45h1v-7h1v-2h1v-1h1v-2h2v-1h1v-1h10v1h1v1h2v1h1v1h1v2h1v3h1v1h1v7h1v8h1v8h1v10h1v36h1v65h1v258h1v-14h1v-170h1v50h1v-223h1v-9h1v-3h1v-3h1v-2h1v-3h1v-3h1v-5h1v-2h1v-1h1v3h2v-4h1v-2h1v-5h1v-1h1v-2h1v-1h1v-1h2v-1h2v-1h2v-1h27v1h2v1h4v-1h1v1h1v-1h1v-1h40v1h3v1h1v1h4v1h2v1h2v1h2v1h2v1h1v1h2v6h2v2h1v2h2v2h1v-4h1v1h1v1h1v-2h1v3h1v4h1v-14h1v1h1v5h1v5h1v-10h1v-3h1v-4h1v-3h1v-1h68.5" stroke="#fff000"/></g><linearGradient id="h0" gradientUnits="userSpaceOnUse" x1="1236.3" x2="2142.2"><stop offset="0" stop-color="#02a1ff"/><stop offset="0.124" stop-color="#219aff"/><stop offset="0.257" stop-color="#5991ff"/><stop offset="0.376" stop-color="#a188ff"/><stop offset="0.482" stop-color="#f77eff"/><stop offset="0.496" stop-color="#ff7afb"/><stop offset="0.575" stop-color="#ff56bd"/><stop offset="0.681" stop-color="#ff3585"/><stop offset="0.827" stop-color="#ff1a54"/><stop offset="1" stop-color="#ff0831"/></linearGradient><linearGradient id="h1" gradientUnits="userSpaceOnUse" x1="1236.3" x2="2142.2"><stop offset="0" stop-color="#029eff"/><stop offset="0.128" stop-color="#2396ff"/><stop offset="0.261" stop-color="#5b8dff"/><stop offset="0.381" stop-color="#a383ff"/><stop offset="0.487" stop-color="#f979ff"/><stop offset="0.504" stop-color="#ff72f5"/><stop offset="0.588" stop-color="#ff4eb6"/><stop offset="0.699" stop-color="#ff2f7f"/><stop offset="0.85" stop-color="#ff164f"/><stop offset="1" stop-color="#ff0731"/></linearGradient><linearGradient id="h2" gradientUnits="userSpaceOnUse" x1="1236.3" x2="2142.2"><stop offset="0" stop-color="#029bff"/><stop offset="0.128" stop-color="#2393ff"/><stop offset="0.265" stop-color="#5d89ff"/><stop offset="0.385" stop-color="#a67fff"/><stop offset="0.496" stop-color="#ff74fe"/><stop offset="0.575" stop-color="#ff51c0"/><stop offset="0.681" stop-color="#ff3188"/><stop offset="0.823" stop-color="#ff1857"/><stop offset="1" stop-color="#ff0632"/></linearGradient><linearGradient id="h3" gradientUnits="userSpaceOnUse" x1="1236.3" x2="2142.2"><stop offset="0" stop-color="#0298ff"/><stop offset="0.128" stop-color="#2390ff"/><stop offset="0.265" stop-color="#5d86ff"/><stop offset="0.385" stop-color="#a57bff"/><stop offset="0.491" stop-color="#fa71ff"/><stop offset="0.509" stop-color="#ff6af4"/><stop offset="0.593" stop-color="#ff48b6"/><stop offset="0.704" stop-color="#ff2b80"/><stop offset="0.854" stop-color="#ff1350"/><stop offset="1" stop-color="#ff0533"/></linearGradient><linearGradient id="h4" gradientUnits="userSpaceOnUse" x1="1236.3" x2="2142.2"><stop offset="0" stop-color="#0294ff"/><stop offset="0.128" stop-color="#238cff"/><stop offset="0.265" stop-color="#5d82ff"/><stop offset="0.389" stop-color="#a777ff"/><stop offset="0.5" stop-color="#ff6bfd"/><stop offset="0.584" stop-color="#ff48bd"/><stop offset="0.695" stop-color="#ff2b84"/><stop offset="0.841" stop-color="#ff1354"/><stop offset="1" stop-color="#ff0533"/></linearGradient><linearGradient id="h5" gradientUnits="userSpaceOnUse" x1="1236.3" x2="2142.2"><stop offset="0" stop-color="#0291ff"/><stop offset="0.133" stop-color="#2489ff"/><stop offset="0.27" stop-color="#5f7eff"/><stop offset="0.394" stop-color="#aa73ff"/><stop offset="0.5" stop-color="#ff68ff"/><stop offset="0.584" stop-color="#ff46be"/><stop offset="0.695" stop-color="#ff2985"/><stop offset="0.841" stop-color="#ff1255"/><stop offset="1" stop-color="#ff0434"/></linearGradient><linearGradient id="h6" gradientUnits="userSpaceOnUse" x1="1236.3" x2="2142.2"><stop offset="0" stop-color="#028eff"/><stop offset="0.133" stop-color="#2585ff"/><stop offset="0.27" stop-color="#5f7bff"/><stop offset="0.394" stop-color="#a96fff"/><stop offset="0.504" stop-color="#ff62fc"/><stop offset="0.588" stop-color="#ff42bd"/><stop offset="0.699" stop-color="#ff2685"/><stop offset="0.85" stop-color="#ff1054"/><stop offset="1" stop-color="#ff0335"/></linearGradient><linearGradient id="h7" gradientUnits="userSpaceOnUse" x1="1236.3" x2="2142.2"><stop offset="0" stop-color="#038bff"/><stop offset="0.133" stop-color="#2582ff"/><stop offset="0.27" stop-color="#5e77ff"/><stop offset="0.394" stop-color="#a86cff"/><stop offset="0.504" stop-color="#ff5ffe"/><stop offset="0.588" stop-color="#ff40be"/><stop offset="0.699" stop-color="#ff2586"/><stop offset="0.85" stop-color="#ff0e55"/><stop offset="1" stop-color="#ff0335"/></linearGradient><linearGradient id="h8" gradientUnits="userSpaceOnUse" x1="1236.3" x2="2142.2"><stop offset="0" stop-color="#0388ff"/><stop offset="0.133" stop-color="#257fff"/><stop offset="0.27" stop-color="#5e74ff"/><stop offset="0.394" stop-color="#a768ff"/><stop offset="0.504" stop-color="#ff5cff"/><stop offset="0.588" stop-color="#ff3dc0"/><stop offset="0.699" stop-color="#ff2387"/><stop offset="0.85" stop-color="#ff0d55"/><stop offset="1" stop-color="#ff0236"/></linearGradient><linearGradient id="h9" gradientUnits="userSpaceOnUse" x1="1236.3" x2="2142.2"><stop offset="0" stop-color="#0385ff"/><stop offset="0.137" stop-color="#267cff"/><stop offset="0.274" stop-color="#6070ff"/><stop offset="0.398" stop-color="#aa64ff"/><stop offset="0.509" stop-color="#ff57fd"/><stop offset="0.593" stop-color="#ff3abe"/><stop offset="0.704" stop-color="#ff2086"/><stop offset="0.854" stop-color="#ff0c55"/><stop offset="1" stop-color="#ff0137"/></linearGradient><linearGradient id="h10" gradientUnits="userSpaceOnUse" x1="1236.3" x2="2142.2"><stop offset="0" stop-color="#0382ff"/><stop offset="0.137" stop-color="#2679ff"/><stop offset="0.279" stop-color="#626dff"/><stop offset="0.403" stop-color="#ac61ff"/><stop offset="0.509" stop-color="#ff54fe"/><stop offset="0.593" stop-color="#ff37bf"/><stop offset="0.704" stop-color="#ff1f87"/><stop offset="0.854" stop-color="#ff0b56"/><stop offset="1" stop-color="#ff0138"/></linearGradient><linearGradient id="h11" gradientUnits="userSpaceOnUse" x1="1236.3" x2="2142.2"><stop offset="0" stop-color="#0380ff"/><stop offset="0.137" stop-color="#2676ff"/><stop offset="0.279" stop-color="#626aff"/><stop offset="0.403" stop-color="#ab5dff"/><stop offset="0.509" stop-color="#fe51ff"/><stop offset="0.597" stop-color="#ff34be"/><stop offset="0.708" stop-color="#ff1c86"/><stop offset="0.858" stop-color="#ff0956"/><stop offset="1" stop-color="#ff0038"/></linearGradient><linearGradient id="h12" gradientUnits="userSpaceOnUse" x1="1236.3" x2="2142.2"><stop offset="0" stop-color="#037dff"/><stop offset="0.137" stop-color="#2673ff"/><stop offset="0.279" stop-color="#6266ff"/><stop offset="0.407" stop-color="#ad5aff"/><stop offset="0.513" stop-color="#ff4dfd"/><stop offset="0.602" stop-color="#ff31bd"/><stop offset="0.717" stop-color="#ff1984"/><stop offset="0.872" stop-color="#ff0753"/><stop offset="1" stop-color="#ff0039"/></linearGradient><linearGradient id="h13" gradientUnits="userSpaceOnUse" x1="1236.3" x2="2142.2"><stop offset="0" stop-color="#037aff"/><stop offset="0.137" stop-color="#2670ff"/><stop offset="0.279" stop-color="#6163ff"/><stop offset="0.407" stop-color="#ad56ff"/><stop offset="0.513" stop-color="#ff4aff"/><stop offset="0.602" stop-color="#ff2fbe"/><stop offset="0.717" stop-color="#ff1885"/><stop offset="0.872" stop-color="#ff0654"/><stop offset="1" stop-color="#ff003a"/></linearGradient><linearGradient id="h14" gradientUnits="userSpaceOnUse" x1="1236.3" x2="2142.2"><stop offset="0" stop-color="#0377ff"/><stop offset="0.142" stop-color="#286cff"/><stop offset="0.283" stop-color="#6360ff"/><stop offset="0.412" stop-color="#af53ff"/><stop offset="0.518" stop-color="#ff46fc"/><stop offset="0.606" stop-color="#ff2bbc"/><stop offset="0.721" stop-color="#ff1684"/><stop offset="0.876" stop-color="#ff0554"/><stop offset="1" stop-color="#ff003a"/></linearGradient><linearGradient id="h15" gradientUnits="userSpaceOnUse" x1="1236.3" x2="2142.2"><stop offset="0" stop-color="#0474ff"/><stop offset="0.142" stop-color="#286aff"/><stop offset="0.283" stop-color="#635dff"/><stop offset="0.412" stop-color="#ae50ff"/><stop offset="0.518" stop-color="#ff43fe"/><stop offset="0.606" stop-color="#ff29be"/><stop offset="0.721" stop-color="#ff1485"/><stop offset="0.876" stop-color="#ff0455"/><stop offset="1" stop-color="#ff003b"/></linearGradient><linearGradient id="h16" gradientUnits="userSpaceOnUse" x1="1236.3" x2="2142.2"><stop offset="0" stop-color="#0472ff"/><stop offset="0.142" stop-color="#2867ff"/><stop offset="0.283" stop-color="#635aff"/><stop offset="0.412" stop-color="#ad4dff"/><stop offset="0.518" stop-color="#ff40ff"/><stop offset="0.606" stop-color="#ff27bf"/><stop offset="0.721" stop-color="#ff1386"/><stop offset="0.876" stop-color="#ff0356"/><stop offset="1" stop-color="#ff003c"/></linearGradient><linearGradient id="h17" gradientUnits="userSpaceOnUse" x1="1236.3" x2="2142.2"><stop offset="0" stop-color="#046fff"/><stop offset="0.142" stop-color="#2864ff"/><stop offset="0.288" stop-color="#6557ff"/><stop offset="0.416" stop-color="#b049ff"/><stop offset="0.522" stop-color="#ff3cfd"/><stop offset="0.611" stop-color="#ff24bd"/><stop offset="0.726" stop-color="#ff1186"/><stop offset="0.881" stop-color="#ff0255"/><stop offset="1" stop-color="#ff003c"/></linearGradient><linearGradient id="h18" gradientUnits="userSpaceOnUse" x1="1236.3" x2="2142.2"><stop offset="0" stop-color="#046dff"/><stop offset="0.142" stop-color="#2861ff"/><stop offset="0.288" stop-color="#6454ff"/><stop offset="0.416" stop-color="#af47ff"/><stop offset="0.522" stop-color="#ff3afe"/><stop offset="0.611" stop-color="#ff22bf"/><stop offset="0.726" stop-color="#ff0f87"/><stop offset="0.881" stop-color="#ff0256"/><stop offset="1" stop-color="#ff003d"/></linearGradient><linearGradient id="h19" gradientUnits="userSpaceOnUse" x1="1236.3" x2="2142.2"><stop offset="0" stop-color="#046aff"/><stop offset="0.146" stop-color="#2a5eff"/><stop offset="0.292" stop-color="#6651ff"/><stop offset="0.42" stop-color="#b143ff"/><stop offset="0.522" stop-color="#ff37ff"/><stop offset="0.615" stop-color="#ff20bd"/><stop offset="0.73" stop-color="#ff0e86"/><stop offset="0.889" stop-color="#ff0155"/><stop offset="1" stop-color="#ff003e"/></linearGradient><linearGradient id="h20" gradientUnits="userSpaceOnUse" x1="1236.3" x2="2142.2"><stop offset="0" stop-color="#0467ff"/><stop offset="0.146" stop-color="#2a5cff"/><stop offset="0.292" stop-color="#664eff"/><stop offset="0.42" stop-color="#b040ff"/><stop offset="0.527" stop-color="#ff33fd"/><stop offset="0.615" stop-color="#ff1ebf"/><stop offset="0.73" stop-color="#ff0c87"/><stop offset="0.889" stop-color="#ff0056"/><stop offset="1" stop-color="#ff003e"/></linearGradient><linearGradient id="h21" gradientUnits="userSpaceOnUse" x1="1236.3" x2="2142.2"><stop offset="0" stop-color="#0465ff"/><stop offset="0.146" stop-color="#2a59ff"/><stop offset="0.292" stop-color="#664cff"/><stop offset="0.425" stop-color="#b23dff"/><stop offset="0.527" stop-color="#ff31ff"/><stop offset="0.615" stop-color="#ff1cc0"/><stop offset="0.73" stop-color="#ff0b88"/><stop offset="0.889" stop-color="#ff0056"/><stop offset="1" stop-color="#ff003f"/></linearGradient><linearGradient id="h22" gradientUnits="userSpaceOnUse" x1="1236.3" x2="2142.2"><stop offset="0" stop-color="#0562ff"/><stop offset="0.146" stop-color="#2a57ff"/><stop offset="0.292" stop-color="#6549ff"/><stop offset="0.425" stop-color="#b23bff"/><stop offset="0.531" stop-color="#ff2dfc"/><stop offset="0.624" stop-color="#ff19bc"/><stop offset="0.743" stop-color="#ff0984"/><stop offset="0.907" stop-color="#ff0053"/><stop offset="1" stop-color="#ff0040"/></linearGradient><linearGradient id="h23" gradientUnits="userSpaceOnUse" x1="1236.3" x2="2142.2"><stop offset="0" stop-color="#0560ff"/><stop offset="0.146" stop-color="#2a54ff"/><stop offset="0.292" stop-color="#6546ff"/><stop offset="0.425" stop-color="#b138ff"/><stop offset="0.531" stop-color="#ff2bfe"/><stop offset="0.624" stop-color="#ff17bd"/><stop offset="0.743" stop-color="#ff0785"/><stop offset="0.907" stop-color="#ff0054"/><stop offset="1" stop-color="#ff0041"/></linearGradient><linearGradient id="h24" gradientUnits="userSpaceOnUse" x1="1236.3" x2="2142.2"><stop offset="0" stop-color="#055eff"/><stop offset="0.15" stop-color="#2b51ff"/><stop offset="0.301" stop-color="#6943ff"/><stop offset="0.434" stop-color="#b634ff"/><stop offset="0.531" stop-color="#ff29ff"/><stop offset="0.624" stop-color="#ff15be"/><stop offset="0.743" stop-color="#ff0686"/><stop offset="0.907" stop-color="#f05"/><stop offset="1" stop-color="#ff0041"/></linearGradient><linearGradient id="h25" gradientUnits="userSpaceOnUse" x1="1236.3" x2="2142.2"><stop offset="0" stop-color="#055bff"/><stop offset="0.15" stop-color="#2c4fff"/><stop offset="0.301" stop-color="#6940ff"/><stop offset="0.434" stop-color="#b532ff"/><stop offset="0.535" stop-color="#ff25fd"/><stop offset="0.628" stop-color="#ff13bd"/><stop offset="0.748" stop-color="#ff0585"/><stop offset="0.912" stop-color="#ff0054"/><stop offset="1" stop-color="#ff0042"/></linearGradient><linearGradient id="h26" gradientUnits="userSpaceOnUse" x1="1236.3" x2="2142.2"><stop offset="0" stop-color="#0559ff"/><stop offset="0.15" stop-color="#2c4cff"/><stop offset="0.301" stop-color="#693eff"/><stop offset="0.434" stop-color="#b430ff"/><stop offset="0.535" stop-color="#ff23fe"/><stop offset="0.628" stop-color="#ff11be"/><stop offset="0.748" stop-color="#ff0486"/><stop offset="0.912" stop-color="#f05"/><stop offset="1" stop-color="#ff0043"/></linearGradient><linearGradient id="h27" gradientUnits="userSpaceOnUse" x1="1236.3" x2="2142.2"><stop offset="0" stop-color="#0557ff"/><stop offset="0.15" stop-color="#2c4aff"/><stop offset="0.301" stop-color="#683cff"/><stop offset="0.434" stop-color="#b42dff"/><stop offset="0.535" stop-color="#ff21ff"/><stop offset="0.633" stop-color="#ff0fbd"/><stop offset="0.757" stop-color="#ff0384"/><stop offset="0.925" stop-color="#ff0053"/><stop offset="1" stop-color="#ff0043"/></linearGradient><linearGradient id="h28" gradientUnits="userSpaceOnUse" x1="1236.3" x2="2142.2"><stop offset="0" stop-color="#0554ff"/><stop offset="0.15" stop-color="#2c48ff"/><stop offset="0.301" stop-color="#6839ff"/><stop offset="0.434" stop-color="#b32bff"/><stop offset="0.54" stop-color="#ff1efd"/><stop offset="0.633" stop-color="#ff0ebe"/><stop offset="0.757" stop-color="#ff0285"/><stop offset="0.92" stop-color="#f05"/><stop offset="1" stop-color="#f04"/></linearGradient><linearGradient id="h29" gradientUnits="userSpaceOnUse" x1="1236.3" x2="2142.2"><stop offset="0" stop-color="#0652ff"/><stop offset="0.155" stop-color="#2d45ff"/><stop offset="0.305" stop-color="#6a37ff"/><stop offset="0.438" stop-color="#b528ff"/><stop offset="0.54" stop-color="#ff1cfe"/><stop offset="0.633" stop-color="#ff0cbf"/><stop offset="0.757" stop-color="#ff0186"/><stop offset="0.92" stop-color="#f05"/><stop offset="1" stop-color="#ff0045"/></linearGradient><linearGradient id="h30" gradientUnits="userSpaceOnUse" x1="1236.3" x2="2142.2"><stop offset="0" stop-color="#0650ff"/><stop offset="0.155" stop-color="#2d43ff"/><stop offset="0.305" stop-color="#6a34ff"/><stop offset="0.442" stop-color="#b725ff"/><stop offset="0.544" stop-color="#ff19fc"/><stop offset="0.637" stop-color="#ff0abe"/><stop offset="0.761" stop-color="#ff0085"/><stop offset="0.929" stop-color="#ff0054"/><stop offset="1" stop-color="#ff0046"/></linearGradient><linearGradient id="h31" gradientUnits="userSpaceOnUse" x1="1236.3" x2="2142.2"><stop offset="0" stop-color="#064eff"/><stop offset="0.155" stop-color="#2d41ff"/><stop offset="0.31" stop-color="#6c32ff"/><stop offset="0.447" stop-color="#b923ff"/><stop offset="0.544" stop-color="#ff17fe"/><stop offset="0.637" stop-color="#ff09bf"/><stop offset="0.761" stop-color="#ff0086"/><stop offset="0.929" stop-color="#f05"/><stop offset="1" stop-color="#ff0046"/></linearGradient><linearGradient id="h32" gradientUnits="userSpaceOnUse" x1="1236.3" x2="2142.2"><stop offset="0" stop-color="#064cff"/><stop offset="0.155" stop-color="#2d3fff"/><stop offset="0.31" stop-color="#6b2fff"/><stop offset="0.447" stop-color="#b821ff"/><stop offset="0.544" stop-color="#ff15ff"/><stop offset="0.637" stop-color="#ff08c0"/><stop offset="0.761" stop-color="#ff0087"/><stop offset="0.929" stop-color="#ff0056"/><stop offset="1" stop-color="#ff0047"/></linearGradient><linearGradient id="h33" gradientUnits="userSpaceOnUse" x1="1236.3" x2="2142.2"><stop offset="0" stop-color="#064aff"/><stop offset="0.155" stop-color="#2d3cff"/><stop offset="0.31" stop-color="#6b2dff"/><stop offset="0.447" stop-color="#b81fff"/><stop offset="0.549" stop-color="#ff13fd"/><stop offset="0.646" stop-color="#ff06bc"/><stop offset="0.77" stop-color="#ff0085"/><stop offset="0.938" stop-color="#f05"/><stop offset="1" stop-color="#ff0048"/></linearGradient><linearGradient id="h34" gradientUnits="userSpaceOnUse" x1="1236.3" x2="2142.2"><stop offset="0" stop-color="#0648ff"/><stop offset="0.159" stop-color="#2f3aff"/><stop offset="0.314" stop-color="#6d2bff"/><stop offset="0.451" stop-color="#ba1cff"/><stop offset="0.549" stop-color="#ff11fe"/><stop offset="0.646" stop-color="#ff05bd"/><stop offset="0.77" stop-color="#ff0086"/><stop offset="0.938" stop-color="#f05"/><stop offset="1" stop-color="#ff0048"/></linearGradient><linearGradient id="h35" gradientUnits="userSpaceOnUse" x1="1236.3" x2="2142.2"><stop offset="0" stop-color="#0646ff"/><stop offset="0.159" stop-color="#2f38ff"/><stop offset="0.314" stop-color="#6c29ff"/><stop offset="0.451" stop-color="#b91aff"/><stop offset="0.549" stop-color="#ff0fff"/><stop offset="0.646" stop-color="#ff04bf"/><stop offset="0.77" stop-color="#ff0087"/><stop offset="0.938" stop-color="#ff0056"/><stop offset="1" stop-color="#ff0049"/></linearGradient><linearGradient id="h36" gradientUnits="userSpaceOnUse" x1="1236.3" x2="2142.2"><stop offset="0" stop-color="#0644ff"/><stop offset="0.159" stop-color="#2f36ff"/><stop offset="0.314" stop-color="#6c27ff"/><stop offset="0.451" stop-color="#b818ff"/><stop offset="0.553" stop-color="#ff0dfd"/><stop offset="0.65" stop-color="#ff02bd"/><stop offset="0.779" stop-color="#ff0085"/><stop offset="0.951" stop-color="#ff0054"/><stop offset="1" stop-color="#ff004a"/></linearGradient><linearGradient id="h37" gradientUnits="userSpaceOnUse" x1="1236.3" x2="2142.2"><stop offset="0" stop-color="#0742ff"/><stop offset="0.159" stop-color="#2f34ff"/><stop offset="0.314" stop-color="#6c25ff"/><stop offset="0.451" stop-color="#b716ff"/><stop offset="0.553" stop-color="#ff0bfe"/><stop offset="0.65" stop-color="#ff01be"/><stop offset="0.779" stop-color="#ff0085"/><stop offset="0.951" stop-color="#f05"/><stop offset="1" stop-color="#ff004a"/></linearGradient><linearGradient id="h38" gradientUnits="userSpaceOnUse" x1="1236.3" x2="2142.2"><stop offset="0" stop-color="#0740ff"/><stop offset="0.159" stop-color="#2f32ff"/><stop offset="0.319" stop-color="#6e23ff"/><stop offset="0.456" stop-color="#b914ff"/><stop offset="0.558" stop-color="#ff09fc"/><stop offset="0.655" stop-color="#ff00bd"/><stop offset="0.783" stop-color="#ff0085"/><stop offset="0.956" stop-color="#ff0054"/><stop offset="1" stop-color="#ff004b"/></linearGradient><linearGradient id="h39" gradientUnits="userSpaceOnUse" x1="1236.3" x2="2142.2"><stop offset="0" stop-color="#073eff"/><stop offset="0.159" stop-color="#2f30ff"/><stop offset="0.319" stop-color="#6d21ff"/><stop offset="0.46" stop-color="#bb12ff"/><stop offset="0.558" stop-color="#ff08fe"/><stop offset="0.655" stop-color="#ff00be"/><stop offset="0.783" stop-color="#ff0086"/><stop offset="0.956" stop-color="#f05"/><stop offset="1" stop-color="#ff004c"/></linearGradient><linearGradient id="h40" gradientUnits="userSpaceOnUse" x1="1236.3" x2="2142.2"><stop offset="0" stop-color="#073cff"/><stop offset="0.164" stop-color="#302eff"/><stop offset="0.323" stop-color="#6f1eff"/><stop offset="0.465" stop-color="#bd10ff"/><stop offset="0.558" stop-color="#ff07ff"/><stop offset="0.655" stop-color="#ff00bf"/><stop offset="0.783" stop-color="#ff0087"/><stop offset="0.956" stop-color="#ff0056"/><stop offset="1" stop-color="#ff004d"/></linearGradient><linearGradient id="h41" gradientUnits="userSpaceOnUse" x1="1236.3" x2="2142.2"><stop offset="0" stop-color="#073aff"/><stop offset="0.164" stop-color="#302cff"/><stop offset="0.323" stop-color="#6f1dff"/><stop offset="0.465" stop-color="#bd0eff"/><stop offset="0.562" stop-color="#ff05fd"/><stop offset="0.659" stop-color="#ff00be"/><stop offset="0.788" stop-color="#ff0086"/><stop offset="0.96" stop-color="#ff0056"/><stop offset="1" stop-color="#ff004d"/></linearGradient><linearGradient id="h42" gradientUnits="userSpaceOnUse" x1="1236.3" x2="2142.2"><stop offset="0" stop-color="#0738ff"/><stop offset="0.164" stop-color="#302aff"/><stop offset="0.323" stop-color="#6f1bff"/><stop offset="0.465" stop-color="#bc0dff"/><stop offset="0.562" stop-color="#ff04fe"/><stop offset="0.659" stop-color="#ff00bf"/><stop offset="0.788" stop-color="#ff0087"/><stop offset="0.96" stop-color="#ff0056"/><stop offset="1" stop-color="#ff004e"/></linearGradient><linearGradient id="h43" gradientUnits="userSpaceOnUse" x1="1236.3" x2="2142.2"><stop offset="0" stop-color="#0736ff"/><stop offset="0.164" stop-color="#3028ff"/><stop offset="0.323" stop-color="#6e19ff"/><stop offset="0.465" stop-color="#bb0bff"/><stop offset="0.562" stop-color="#ff02ff"/><stop offset="0.664" stop-color="#ff00be"/><stop offset="0.792" stop-color="#ff0086"/><stop offset="0.969" stop-color="#f05"/><stop offset="1" stop-color="#ff004f"/></linearGradient><linearGradient id="h44" gradientUnits="userSpaceOnUse" x1="1236.3" x2="2142.2"><stop offset="0" stop-color="#0835ff"/><stop offset="0.164" stop-color="#3026ff"/><stop offset="0.323" stop-color="#6e18ff"/><stop offset="0.465" stop-color="#ba0aff"/><stop offset="0.566" stop-color="#ff01fd"/><stop offset="0.668" stop-color="#ff00bd"/><stop offset="0.801" stop-color="#ff0084"/><stop offset="0.978" stop-color="#ff0054"/><stop offset="1" stop-color="#ff004f"/></linearGradient><linearGradient id="h45" gradientUnits="userSpaceOnUse" x1="1236.3" x2="2142.2"><stop offset="0" stop-color="#0833ff"/><stop offset="0.168" stop-color="#3224ff"/><stop offset="0.327" stop-color="#7016ff"/><stop offset="0.469" stop-color="#bc08ff"/><stop offset="0.566" stop-color="#ff00fe"/><stop offset="0.668" stop-color="#ff00be"/><stop offset="0.801" stop-color="#ff0085"/><stop offset="0.978" stop-color="#f05"/><stop offset="1" stop-color="#ff0050"/></linearGradient><linearGradient id="h46" gradientUnits="userSpaceOnUse" x1="1236.3" x2="2142.2"><stop offset="0" stop-color="#0831ff"/><stop offset="0.168" stop-color="#3223ff"/><stop offset="0.332" stop-color="#7214ff"/><stop offset="0.473" stop-color="#be06ff"/><stop offset="0.571" stop-color="#ff00fc"/><stop offset="0.673" stop-color="#ff00bd"/><stop offset="0.805" stop-color="#ff0085"/><stop offset="0.987" stop-color="#ff0054"/><stop offset="1" stop-color="#ff0051"/></linearGradient><linearGradient id="h47" gradientUnits="userSpaceOnUse" x1="1236.3" x2="2142.2"><stop offset="0" stop-color="#082fff"/><stop offset="0.168" stop-color="#3221ff"/><stop offset="0.332" stop-color="#7112ff"/><stop offset="0.478" stop-color="#c005ff"/><stop offset="0.571" stop-color="#ff00fe"/><stop offset="0.673" stop-color="#ff00be"/><stop offset="0.805" stop-color="#ff0085"/><stop offset="0.987" stop-color="#ff0054"/><stop offset="1" stop-color="#ff0052"/></linearGradient><linearGradient id="h48" gradientUnits="userSpaceOnUse" x1="1236.3" x2="2142.2"><stop offset="0" stop-color="#082eff"/><stop offset="0.168" stop-color="#321fff"/><stop offset="0.332" stop-color="#7111ff"/><stop offset="0.478" stop-color="#bf04ff"/><stop offset="0.571" stop-color="#f0f"/><stop offset="0.673" stop-color="#ff00bf"/><stop offset="0.805" stop-color="#ff0086"/><stop offset="0.987" stop-color="#f05"/><stop offset="1" stop-color="#ff0052"/></linearGradient><linearGradient id="h49" gradientUnits="userSpaceOnUse" x1="1236.3" x2="2142.2"><stop offset="0" stop-color="#082cff"/><stop offset="0.168" stop-color="#321eff"/><stop offset="0.332" stop-color="#710fff"/><stop offset="0.478" stop-color="#bf03ff"/><stop offset="0.575" stop-color="#ff00fd"/><stop offset="0.677" stop-color="#ff00be"/><stop offset="0.81" stop-color="#ff0086"/><stop offset="0.991" stop-color="#f05"/><stop offset="1" stop-color="#ff0053"/></linearGradient><linearGradient id="h50" gradientUnits="userSpaceOnUse" x1="1236.3" x2="2142.2"><stop offset="0" stop-color="#082aff"/><stop offset="0.168" stop-color="#321cff"/><stop offset="0.332" stop-color="#700eff"/><stop offset="0.478" stop-color="#be02ff"/><stop offset="0.575" stop-color="#ff00fe"/><stop offset="0.677" stop-color="#ff00bf"/><stop offset="0.81" stop-color="#ff0087"/><stop offset="0.991" stop-color="#f05"/><stop offset="1" stop-color="#ff0054"/></linearGradient><linearGradient id="h51" gradientUnits="userSpaceOnUse" x1="1236.3" x2="2142.2"><stop offset="0" stop-color="#0829ff"/><stop offset="0.173" stop-color="#331aff"/><stop offset="0.336" stop-color="#720cff"/><stop offset="0.482" stop-color="#c001ff"/><stop offset="0.58" stop-color="#ff00fc"/><stop offset="0.681" stop-color="#ff00be"/><stop offset="0.819" stop-color="#ff0085"/><stop offset="1" stop-color="#ff0054"/></linearGradient><linearGradient id="h52" gradientUnits="userSpaceOnUse" x1="1236.3" x2="2142.2"><stop offset="0" stop-color="#0927ff"/><stop offset="0.173" stop-color="#3319ff"/><stop offset="0.336" stop-color="#720bff"/><stop offset="0.482" stop-color="#bf00ff"/><stop offset="0.58" stop-color="#ff00fd"/><stop offset="0.681" stop-color="#ff00bf"/><stop offset="0.819" stop-color="#ff0085"/><stop offset="1" stop-color="#f05"/></linearGradient><linearGradient id="h53" gradientUnits="userSpaceOnUse" x1="1236.3" x2="2142.2"><stop offset="0" stop-color="#0926ff"/><stop offset="0.173" stop-color="#3317ff"/><stop offset="0.341" stop-color="#7309ff"/><stop offset="0.487" stop-color="#c100ff"/><stop offset="0.58" stop-color="#ff00fe"/><stop offset="0.681" stop-color="#ff00c0"/><stop offset="0.819" stop-color="#ff0086"/><stop offset="1" stop-color="#ff0056"/></linearGradient><linearGradient id="h54" gradientUnits="userSpaceOnUse" x1="1236.3" x2="2142.2"><stop offset="0" stop-color="#0924ff"/><stop offset="0.173" stop-color="#3316ff"/><stop offset="0.341" stop-color="#7308ff"/><stop offset="0.487" stop-color="#c000ff"/><stop offset="0.584" stop-color="#ff00fc"/><stop offset="0.69" stop-color="#ff00bc"/><stop offset="0.827" stop-color="#ff0084"/><stop offset="1" stop-color="#ff0056"/></linearGradient><linearGradient id="h55" gradientUnits="userSpaceOnUse" x1="1236.3" x2="2142.2"><stop offset="0" stop-color="#0923ff"/><stop offset="0.173" stop-color="#3315ff"/><stop offset="0.341" stop-color="#7307ff"/><stop offset="0.491" stop-color="#c200ff"/><stop offset="0.584" stop-color="#ff00fe"/><stop offset="0.69" stop-color="#ff00bd"/><stop offset="0.827" stop-color="#ff0085"/><stop offset="1" stop-color="#ff0057"/></linearGradient><linearGradient id="h56" gradientUnits="userSpaceOnUse" x1="1236.3" x2="2142.2"><stop offset="0" stop-color="#0921ff"/><stop offset="0.173" stop-color="#3313ff"/><stop offset="0.341" stop-color="#7306ff"/><stop offset="0.491" stop-color="#c100ff"/><stop offset="0.584" stop-color="#f0f"/><stop offset="0.69" stop-color="#ff00be"/><stop offset="0.827" stop-color="#ff0086"/><stop offset="1" stop-color="#ff0058"/></linearGradient><linearGradient id="h57" gradientUnits="userSpaceOnUse" x1="1236.3" x2="2142.2"><stop offset="0" stop-color="#0920ff"/><stop offset="0.177" stop-color="#3512ff"/><stop offset="0.345" stop-color="#7404ff"/><stop offset="0.496" stop-color="#c300ff"/><stop offset="0.588" stop-color="#ff00fd"/><stop offset="0.695" stop-color="#ff00bd"/><stop offset="0.832" stop-color="#ff0085"/><stop offset="1" stop-color="#ff0059"/></linearGradient><linearGradient id="h58" gradientUnits="userSpaceOnUse" x1="1236.3" x2="2142.2"><stop offset="0" stop-color="#091eff"/><stop offset="0.177" stop-color="#3510ff"/><stop offset="0.345" stop-color="#7403ff"/><stop offset="0.496" stop-color="#c300ff"/><stop offset="0.588" stop-color="#ff00fe"/><stop offset="0.695" stop-color="#ff00be"/><stop offset="0.832" stop-color="#ff0086"/><stop offset="1" stop-color="#ff0059"/></linearGradient><linearGradient id="h59" gradientUnits="userSpaceOnUse" x1="1236.3" x2="2142.2"><stop offset="0" stop-color="#091dff"/><stop offset="0.177" stop-color="#350fff"/><stop offset="0.345" stop-color="#7402ff"/><stop offset="0.496" stop-color="#c200ff"/><stop offset="0.593" stop-color="#ff00fc"/><stop offset="0.699" stop-color="#ff00bd"/><stop offset="0.841" stop-color="#ff0084"/><stop offset="1" stop-color="#ff005a"/></linearGradient><linearGradient id="h60" gradientUnits="userSpaceOnUse" x1="1236.3" x2="2142.2"><stop offset="0" stop-color="#0a1cff"/><stop offset="0.177" stop-color="#350eff"/><stop offset="0.35" stop-color="#7501ff"/><stop offset="0.5" stop-color="#c400ff"/><stop offset="0.593" stop-color="#ff00fd"/><stop offset="0.699" stop-color="#ff00be"/><stop offset="0.841" stop-color="#ff0085"/><stop offset="1" stop-color="#ff005b"/></linearGradient><linearGradient id="h61" gradientUnits="userSpaceOnUse" x1="1236.3" x2="2142.2"><stop offset="0" stop-color="#0a1aff"/><stop offset="0.177" stop-color="#350dff"/><stop offset="0.35" stop-color="#7501ff"/><stop offset="0.5" stop-color="#c300ff"/><stop offset="0.593" stop-color="#ff00fe"/><stop offset="0.699" stop-color="#ff00bf"/><stop offset="0.841" stop-color="#ff0086"/><stop offset="1" stop-color="#ff005b"/></linearGradient><linearGradient id="h62" gradientUnits="userSpaceOnUse" x1="1236.3" x2="2142.2"><stop offset="0" stop-color="#0a19ff"/><stop offset="0.181" stop-color="#360bff"/><stop offset="0.354" stop-color="#70f"/><stop offset="0.504" stop-color="#c500ff"/><stop offset="0.597" stop-color="#ff00fc"/><stop offset="0.704" stop-color="#ff00be"/><stop offset="0.845" stop-color="#ff0085"/><stop offset="1" stop-color="#ff005c"/></linearGradient><linearGradient id="h63" gradientUnits="userSpaceOnUse" x1="1236.3" x2="2142.2"><stop offset="0" stop-color="#0a18ff"/><stop offset="0.181" stop-color="#360aff"/><stop offset="0.354" stop-color="#7600ff"/><stop offset="0.504" stop-color="#c400ff"/><stop offset="0.597" stop-color="#ff00fd"/><stop offset="0.704" stop-color="#ff00bf"/><stop offset="0.845" stop-color="#ff0086"/><stop offset="1" stop-color="#ff005d"/></linearGradient><linearGradient id="h64" gradientUnits="userSpaceOnUse" x1="1236.3" x2="2142.2"><stop offset="0" stop-color="#0a16ff"/><stop offset="0.181" stop-color="#3609ff"/><stop offset="0.354" stop-color="#7600ff"/><stop offset="0.509" stop-color="#c600ff"/><stop offset="0.597" stop-color="#f0f"/><stop offset="0.704" stop-color="#ff00c0"/><stop offset="0.845" stop-color="#ff0087"/><stop offset="1" stop-color="#ff005e"/></linearGradient><linearGradient id="h65" gradientUnits="userSpaceOnUse" x1="1236.3" x2="2142.2"><stop offset="0" stop-color="#0a15ff"/><stop offset="0.181" stop-color="#3608ff"/><stop offset="0.354" stop-color="#7600ff"/><stop offset="0.509" stop-color="#c500ff"/><stop offset="0.602" stop-color="#ff00fd"/><stop offset="0.712" stop-color="#ff00bd"/><stop offset="0.854" stop-color="#ff0085"/><stop offset="1" stop-color="#ff005e"/></linearGradient><linearGradient id="h66" gradientUnits="userSpaceOnUse" x1="1236.3" x2="2142.2"><stop offset="0" stop-color="#0a14ff"/><stop offset="0.181" stop-color="#3607ff"/><stop offset="0.354" stop-color="#7500ff"/><stop offset="0.509" stop-color="#c400ff"/><stop offset="0.602" stop-color="#ff00fe"/><stop offset="0.712" stop-color="#ff00be"/><stop offset="0.854" stop-color="#ff0086"/><stop offset="1" stop-color="#ff005f"/></linearGradient><linearGradient id="h67" gradientUnits="userSpaceOnUse" x1="1236.3" x2="2142.2"><stop offset="0" stop-color="#0a13ff"/><stop offset="0.181" stop-color="#3606ff"/><stop offset="0.358" stop-color="#70f"/><stop offset="0.513" stop-color="#c600ff"/><stop offset="0.606" stop-color="#ff00fc"/><stop offset="0.717" stop-color="#ff00bd"/><stop offset="0.863" stop-color="#ff0084"/><stop offset="1" stop-color="#ff0060"/></linearGradient><linearGradient id="h68" gradientUnits="userSpaceOnUse" x1="1236.3" x2="2142.2"><stop offset="0" stop-color="#0a12ff"/><stop offset="0.186" stop-color="#3705ff"/><stop offset="0.363" stop-color="#7900ff"/><stop offset="0.518" stop-color="#c800ff"/><stop offset="0.606" stop-color="#ff00fd"/><stop offset="0.717" stop-color="#ff00be"/><stop offset="0.863" stop-color="#ff0085"/><stop offset="1" stop-color="#ff0060"/></linearGradient><linearGradient id="h69" gradientUnits="userSpaceOnUse" x1="1236.3" x2="2142.2"><stop offset="0" stop-color="#0b11ff"/><stop offset="0.186" stop-color="#3704ff"/><stop offset="0.363" stop-color="#7800ff"/><stop offset="0.518" stop-color="#c700ff"/><stop offset="0.606" stop-color="#ff00fe"/><stop offset="0.717" stop-color="#ff00bf"/><stop offset="0.863" stop-color="#ff0086"/><stop offset="1" stop-color="#ff0061"/></linearGradient><linearGradient id="h70" gradientUnits="userSpaceOnUse" x1="1236.3" x2="2142.2"><stop offset="0" stop-color="#0b0fff"/><stop offset="0.186" stop-color="#3703ff"/><stop offset="0.363" stop-color="#7800ff"/><stop offset="0.518" stop-color="#c600ff"/><stop offset="0.611" stop-color="#ff00fc"/><stop offset="0.721" stop-color="#ff00bd"/><stop offset="0.867" stop-color="#ff0085"/><stop offset="1" stop-color="#ff0062"/></linearGradient><linearGradient id="h71" gradientUnits="userSpaceOnUse" x1="1236.3" x2="2142.2"><stop offset="0" stop-color="#0b0eff"/><stop offset="0.186" stop-color="#3702ff"/><stop offset="0.363" stop-color="#7800ff"/><stop offset="0.518" stop-color="#c600ff"/><stop offset="0.611" stop-color="#ff00fd"/><stop offset="0.721" stop-color="#ff00be"/><stop offset="0.867" stop-color="#ff0086"/><stop offset="1" stop-color="#ff0062"/></linearGradient><linearGradient id="h72" gradientUnits="userSpaceOnUse" x1="1236.3" x2="2142.2"><stop offset="0" stop-color="#0b0dff"/><stop offset="0.186" stop-color="#3702ff"/><stop offset="0.363" stop-color="#70f"/><stop offset="0.522" stop-color="#c700ff"/><stop offset="0.611" stop-color="#f0f"/><stop offset="0.721" stop-color="#ff00bf"/><stop offset="0.867" stop-color="#ff0087"/><stop offset="1" stop-color="#ff0063"/></linearGradient><linearGradient id="h73" gradientUnits="userSpaceOnUse" x1="1236.3" x2="2142.2"><stop offset="0" stop-color="#0b0cff"/><stop offset="0.186" stop-color="#3701ff"/><stop offset="0.363" stop-color="#70f"/><stop offset="0.522" stop-color="#c700ff"/><stop offset="0.615" stop-color="#ff00fd"/><stop offset="0.73" stop-color="#ff00bc"/><stop offset="0.881" stop-color="#ff0083"/><stop offset="1" stop-color="#ff0064"/></linearGradient><linearGradient id="h74" gradientUnits="userSpaceOnUse" x1="1236.3" x2="2142.2"><stop offset="0" stop-color="#0b0bff"/><stop offset="0.19" stop-color="#3800ff"/><stop offset="0.367" stop-color="#7900ff"/><stop offset="0.527" stop-color="#c900ff"/><stop offset="0.615" stop-color="#ff00fe"/><stop offset="0.73" stop-color="#ff00bd"/><stop offset="0.881" stop-color="#ff0084"/><stop offset="1" stop-color="#ff0065"/></linearGradient><linearGradient id="h75" gradientUnits="userSpaceOnUse" x1="1236.3" x2="2142.2"><stop offset="0" stop-color="#0b0aff"/><stop offset="0.19" stop-color="#3800ff"/><stop offset="0.372" stop-color="#7a00ff"/><stop offset="0.531" stop-color="#ca00ff"/><stop offset="0.619" stop-color="#ff00fc"/><stop offset="0.735" stop-color="#ff00bc"/><stop offset="0.885" stop-color="#ff0084"/><stop offset="1" stop-color="#ff0065"/></linearGradient><linearGradient id="h76" gradientUnits="userSpaceOnUse" x1="1236.3" x2="2142.2"><stop offset="0" stop-color="#0b09ff"/><stop offset="0.19" stop-color="#3800ff"/><stop offset="0.372" stop-color="#7a00ff"/><stop offset="0.531" stop-color="#ca00ff"/><stop offset="0.619" stop-color="#ff00fd"/><stop offset="0.735" stop-color="#ff00bd"/><stop offset="0.885" stop-color="#ff0084"/><stop offset="1" stop-color="#f06"/></linearGradient><linearGradient id="h77" gradientUnits="userSpaceOnUse" x1="1236.3" x2="2142.2"><stop offset="0" stop-color="#0c08ff"/><stop offset="0.19" stop-color="#3800ff"/><stop offset="0.372" stop-color="#7a00ff"/><stop offset="0.531" stop-color="#c900ff"/><stop offset="0.619" stop-color="#ff00fe"/><stop offset="0.735" stop-color="#ff00be"/><stop offset="0.885" stop-color="#ff0085"/><stop offset="1" stop-color="#ff0067"/></linearGradient><linearGradient id="h78" gradientUnits="userSpaceOnUse" x1="1236.3" x2="2142.2"><stop offset="0" stop-color="#0c07ff"/><stop offset="0.19" stop-color="#3800ff"/><stop offset="0.372" stop-color="#7900ff"/><stop offset="0.531" stop-color="#c800ff"/><stop offset="0.624" stop-color="#ff00fc"/><stop offset="0.739" stop-color="#ff00bd"/><stop offset="0.889" stop-color="#ff0085"/><stop offset="1" stop-color="#ff0067"/></linearGradient><linearGradient id="h79" gradientUnits="userSpaceOnUse" x1="1236.3" x2="2142.2"><stop offset="0" stop-color="#0c07ff"/><stop offset="0.19" stop-color="#3800ff"/><stop offset="0.372" stop-color="#7900ff"/><stop offset="0.531" stop-color="#c700ff"/><stop offset="0.624" stop-color="#ff00fd"/><stop offset="0.739" stop-color="#ff00be"/><stop offset="0.889" stop-color="#ff0086"/><stop offset="1" stop-color="#ff0068"/></linearGradient><linearGradient id="h80" gradientUnits="userSpaceOnUse" x1="1236.3" x2="2142.2"><stop offset="0" stop-color="#0c06ff"/><stop offset="0.195" stop-color="#3a00ff"/><stop offset="0.376" stop-color="#7b00ff"/><stop offset="0.535" stop-color="#c900ff"/><stop offset="0.624" stop-color="#f0f"/><stop offset="0.739" stop-color="#ff00bf"/><stop offset="0.889" stop-color="#ff0086"/><stop offset="1" stop-color="#ff0069"/></linearGradient><linearGradient id="h81" gradientUnits="userSpaceOnUse" x1="1236.3" x2="2142.2"><stop offset="0" stop-color="#0c05ff"/><stop offset="0.195" stop-color="#3a00ff"/><stop offset="0.376" stop-color="#7a00ff"/><stop offset="0.54" stop-color="#cb00ff"/><stop offset="0.628" stop-color="#ff00fd"/><stop offset="0.743" stop-color="#ff00be"/><stop offset="0.894" stop-color="#ff0086"/><stop offset="1" stop-color="#ff006a"/></linearGradient><linearGradient id="h82" gradientUnits="userSpaceOnUse" x1="1236.3" x2="2142.2"><stop offset="0" stop-color="#0c04ff"/><stop offset="0.195" stop-color="#3a00ff"/><stop offset="0.381" stop-color="#7c00ff"/><stop offset="0.544" stop-color="#cd00ff"/><stop offset="0.628" stop-color="#ff00fe"/><stop offset="0.743" stop-color="#ff00bf"/><stop offset="0.894" stop-color="#ff0087"/><stop offset="1" stop-color="#ff006a"/></linearGradient><linearGradient id="h83" gradientUnits="userSpaceOnUse" x1="1236.3" x2="2142.2"><stop offset="0" stop-color="#0c03ff"/><stop offset="0.195" stop-color="#3a00ff"/><stop offset="0.381" stop-color="#7c00ff"/><stop offset="0.544" stop-color="#c0f"/><stop offset="0.633" stop-color="#ff00fc"/><stop offset="0.752" stop-color="#ff00bc"/><stop offset="0.907" stop-color="#ff0083"/><stop offset="1" stop-color="#ff006b"/></linearGradient><linearGradient id="h84" gradientUnits="userSpaceOnUse" x1="1236.3" x2="2142.2"><stop offset="0" stop-color="#0c03ff"/><stop offset="0.195" stop-color="#3a00ff"/><stop offset="0.381" stop-color="#7b00ff"/><stop offset="0.544" stop-color="#cb00ff"/><stop offset="0.633" stop-color="#ff00fd"/><stop offset="0.752" stop-color="#ff00bd"/><stop offset="0.907" stop-color="#ff0084"/><stop offset="1" stop-color="#ff006c"/></linearGradient><linearGradient id="h85" gradientUnits="userSpaceOnUse" x1="1236.3" x2="2142.2"><stop offset="0" stop-color="#0c02ff"/><stop offset="0.195" stop-color="#3a00ff"/><stop offset="0.381" stop-color="#7b00ff"/><stop offset="0.544" stop-color="#ca00ff"/><stop offset="0.633" stop-color="#ff00fe"/><stop offset="0.752" stop-color="#ff00be"/><stop offset="0.907" stop-color="#ff0085"/><stop offset="1" stop-color="#ff006c"/></linearGradient><clipPath id="ic"><rect x="1236.3" y="141.0" width="905.9" height="498.0"/></clipPath><g id="sB" fill="none" stroke-linejoin="miter"><path transform="translate(315.8 3260.0) scale(2.85 -2.85)" d="M0 0h20.5v1h8v1h1v-1h2v1h12v1h2v-1h1v1h14v1h14v1h6v-1h1v1h28v-1h2v1h1v1h1v-1h1v1h1v-1h45v-1h7v-1h1v1h3v-1h2v1h3v-1h12v-1h1v1h8v-1h1v1h1v-1h1v1h3v-1h1v1h3v-1h2v1h6v1h1v1h1v3h1v3h3v-1h1v-1h2v-2h2v-2h2v-1h3v-1h6v-1h1v1h2v-1h1v1h11v-1h2v1h1v-1h2v1h1v-1h12v1h1v-1h20v1h1v-1h2v1h4v1h1v1h1v8h1v10h1v-4h1v-6h1v-2h1v6h1v6h1v2h1v-1h1v-2h1v-3h1v-3h1v-4h1v-3h1v-1h1v-1h1v-1h1v-1h1v-1h1v-1h8v-1h1v1h1v-1h1v1h1v-1h26v1h1v6h1v-7h5v1h6v1h1v1h2v10h1v13h1v14h1v-8h1v-13h1v12h1v11h1v-16h1v-9h1v-6h1v-5h1v-2h1v-2h1v-1h10v-1h1v1h1v-1h2v1h2v1h4v3h1v3h1v1h1v3h1v2h1v6h1v5h1v-5h1v28h1v60h1v105h1v-5h1v-49h1v-123h1v2h1v-11h1v1h1v1h1v3h1v-6h1v-7h1v-4h1v-3h1v-2h1v-2h1v-3h1v-1h1v-1h1v-1h1v-1h3v-1h2v-1h2v-1h29v1h3v-1h34v1h8v1h3v1h4v1h2v1h1v1h1v1h2v2h1v2h1v3h2v-6h1v-3h1v2h1v2h1v3h2v-1h1v2h1v3h2v1h1v-2h1v-5h1v-3h1v-2h1v-2h2v-1h2v-1h4v-1h22.5" stroke="#ff0000"/><path transform="translate(294.6 3311.9) scale(2.85 -2.85)" d="M0 0h20.5v1h7v1h17v1h17v1h1v-1h1v1h13v1h4v-1h1v1h9v-1h1v1h28v1h1v-2h1v1h38v-1h8v-1h5v1h1v-1h2v1h1v-1h10v1h1v-1h20v-1h1v1h7v1h1v2h1v2h1v1h1v1h3v-2h2v-2h2v-1h2v-1h2v-1h11v-1h3v1h1v-1h1v1h2v-1h2v1h2v-1h1v1h3v-1h1v1h1v-1h11v1h1v-1h13v1h1v-1h2v1h2v-1h3v1h1v-1h1v1h1v-1h1v1h1v-1h1v1h2v2h1v8h1v8h1v-5h1v-6h2v5h1v6h1v2h1v-2h1v-1h1v-2h1v-3h1v-3h1v-2h1v-2h1v-2h2v-1h1v-1h1v-1h7v-1h32v7h1v-6h1v-1h1v1h1v-1h1v1h1v-1h1v1h5v1h1v1h1v1h1v10h1v14h1v15h1v-11h1v-10h1v9h1v14h1v-16h1v-11h1v-6h1v-5h1v-3h1v-2h2v-1h9v-1h2v1h3v1h2v1h1v1h1v2h1v2h1v3h1v3h1v3h1v7h1v3h1v-3h1v40h1v57h1v120h1v-4h1v-53h1v-143h1v2h1v-13h1v2h1v2h1v2h1v-6h1v-8h1v-5h1v-3h1v-3h1v-2h1v-3h1v-1h1v-1h1v-1h1v-1h1v-1h2v-1h2v-1h3v-1h29v1h3v-1h33v1h5v1h1v-1h1v1h4v1h5v1h1v1h1v-1h1v2h1v1h1v1h1v3h1v1h1v3h1v-1h1v-7h1v-2h1v4h1v1h1v5h1v-3h1v1h1v1h1v4h1v1h1v1h1v-3h1v-5h1v-4h1v-2h1v-2h1v-1h2v-1h2v-1h3v-1h22.5" stroke="#0000cd"/><path transform="translate(272.0 3361.0) scale(2.85 -2.85)" d="M0 0h20.5v1h6v1h17v1h2v-1h2v1h13v1h6v-1h1v1h6v1h1v-1h1v1h6v-1h1v2h1v-1h3v1h1v-1h7v1h1v-1h3v1h1v-1h1v-1h2v1h2v1h1v-2h1v1h1v1h1v-2h1v1h4v-1h1v1h46v-1h10v-1h2v1h2v-1h1v1h2v-1h2v1h1v-1h3v1h1v-1h24v-1h1v1h5v1h1v1h2v2h1v2h1v1h1v-1h2v-1h1v-2h1v1h1v-1h1v-1h1v-1h3v-1h10v-1h1v1h2v-1h2v1h2v-1h1v1h1v-1h8v1h1v-1h5v1h1v-1h5v1h1v-1h20v1h1v-1h1v1h1v-1h1v1h5v1h1v7h1v7h1v-4h1v-5h1v1h1v3h1v5h1v2h1v-1h1v-1h1v-3h1v-2h1v-2h1v-2h1v-2h1v-1h1v-1h1v-1h1v-1h1v1h1v-1h5v-1h9v1h1v-1h22v1h1v7h1v-8h2v1h1v-1h1v1h5v1h2v1h2v1h1v13h1v17h1v15h1v-12h1v-12h1v11h1v16h1v-19h1v-12h1v-7h1v-5h1v-4h1v-3h4v-1h11v1h1v1h1v1h2v4h1v2h1v3h1v4h1v4h1v4h1v4h1v3h1v56h1v54h1v147h1v-4h1v-79h1v-156h1v1h1v-7h1v-7h1v2h1v3h1v-6h1v-10h1v-6h1v-3h1v-3h1v-4h1v-2h1v-2h1v-1h1v-1h1v-2h2v-1h1v-1h3v-1h1v-1h1v1h3v-1h26v1h4v-1h34v1h4v1h5v1h2v1h4v1h1v1h1v1h1v1h1v1h1v1h1v2h1v2h1v3h2v-7h1v-3h1v2h1v4h1v4h1v-1h1v-1h1v2h1v4h1v1h1v1h1v-3h1v-6h1v-5h1v-2h1v-2h1v-1h1v-1h2v-1h2v-1h2v-1h22.5" stroke="#008000"/><path transform="translate(250.8 3410.1) scale(2.85 -2.85)" d="M0 0h20.5v1h7v1h1v-1h1v1h16v1h3v-1h1v1h9v1h1v-1h3v1h1v-1h1v1h2v1h1v-1h8v1h8v-1h1v1h22v-1h2v1h30v1h1v-1h17v-1h1v1h2v-1h13v-1h3v1h1v-1h39v1h1v1h1v1h1v1h1v1h1v-1h3v-1h2v-1h3v-1h2v-1h5v-1h1v1h6v-1h1v1h6v-1h2v1h1v-1h4v1h1v-1h4v1h1v-1h1v1h1v-1h2v1h1v-1h1v1h2v-1h6v1h1v-1h1v1h1v-1h12v1h1v-1h1v1h6v1h1v7h1v6h1v-5h1v-3h1v-1h1v4h1v5h1v2h1v-1h1v-2h1v-1h1v-2h1v-3h1v-2h1v-1h1v-2h1v-1h3v-1h4v-1h34v1h1v9h1v-9h2v-1h1v1h4v1h4v1h1v1h1v1h1v14h1v19h1v18h1v-14h1v-15h1v14h1v18h1v-22h1v-13h1v-7h1v-7h1v-4h1v-3h1v-1h1v1h1v-1h3v-1h1v1h1v-1h8v1h1v1h1v1h2v1h1v4h1v4h1v3h1v5h1v4h1v10h1v5h1v1h1v79h1v49h1v181h1v-4h1v-116h1v-169h1v3h1v-20h1v3h1v3h1v2h1v-8h1v-13h1v-7h1v-4h1v-3h1v-4h1v-3h1v-2h1v-2h1v-2h1v-1h1v-1h2v-1h1v-1h2v-1h3v-1h26v1h5v-1h32v1h5v1h3v1h3v1h1v1h4v2h1v1h2v1h1v2h1v-1h1v3h1v5h1v5h1v-1h1v-10h1v-4h1v3h1v5h1v5h1v-2h2v2h1v5h1v1h1v1h1v-6h1v-5h1v-6h1v-2h1v-4h2v-1h1v-1h1v-1h3v-1h1v-1h22.5" stroke="#ba55d3"/><path transform="translate(225.0 3471.6) scale(2.85 -2.85)" d="M0 0h20.5v1h8v1h13v1h2v-1h4v1h11v1h2v-1h1v1h14v1h15v-1h1v1h4v-1h1v1h10v-1h2v2h1v-1h3v-1h1v1h13v-1h1v1h31v-1h1v1h1v-1h6v-1h1v1h2v-1h2v1h1v-1h1v1h1v-1h1v1h1v-1h4v1h1v-1h34v1h1v1h1v1h1v1h1v1h1v-1h3v-1h2v-1h2v-1h2v-1h6v-1h1v1h3v-1h2v1h1v-1h7v1h1v-1h2v1h3v-1h4v1h1v-1h5v1h1v-1h3v1h1v-1h28v1h2v4h1v5h1v-3h1v-2h2v4h1v4h1v1h2v-2h1v-1h1v-2h1v-2h1v-1h1v-2h1v-1h1v-1h2v-1h6v-1h29v-1h1v1h3v1h1v10h1v-10h7v1h3v1h1v1h2v2h1v17h1v21h1v20h1v-16h1v-15h1v14h1v22h1v-25h1v-16h1v-8h1v-9h1v-4h1v-4h1v-1h1v2h1v-1h1v-1h1v1h1v-2h2v1h1v-1h6v1h1v1h1v2h2v2h1v4h1v3h1v4h1v5h1v5h1v7h1v6h1v11h1v104h1v38h1v214h1v-4h1v-171h1v-162h1v8h1v-17h1v-11h1v3h1v7h1v-9h1v-14h1v-10h1v-4h1v-4h1v-4h1v-5h1v-1h1v-2h1v-3h1v-1h1v-1h2v-1h1v-1h1v-1h2v-1h3v-1h26v1h5v-1h32v1h4v1h4v1h1v1h3v1h2v1h1v1h2v1h2v2h1v2h1v3h1v2h1v4h1v5h2v-12h1v-5h1v5h1v3h1v6h2v-1h1v3h1v5h1v2h1v1h1v-6h1v-8h1v-6h1v-3h1v-4h1v-1h1v-1h2v-1h1v-1h2v-1h2v-1h21.5" stroke="#ee0a80"/><path transform="translate(200.0 3526.9) scale(2.85 -2.85)" d="M0 0h20.5v1h10v1h14v1h1v-1h1v1h11v1h1v-1h2v1h7v1h1v-1h3v1h2v-1h1v1h1v-1h1v1h12v1h1v-1h1v-1h1v1h1v1h1v-1h64v-1h1v1h1v-1h2v1h1v-1h6v-1h6v1h1v-1h2v1h1v-1h29v-1h1v1h8v1h2v1h1v-1h2v1h1v-1h4v-1h12v-1h1v1h3v-1h1v1h1v-1h1v1h2v-1h2v1h1v-1h5v1h1v-1h20v1h1v-1h5v1h1v-1h14v1h3v3h1v2h1v-1h1v-2h1v1h1v3h1v3h1v1h1v-1h1v-1h1v-1h1v-1h1v-1h1v-2h1v-1h1v-1h2v-1h4v-1h36v1h1v11h1v-12h1v1h5v1h1v-1h1v2h3v1h1v1h2v16h1v22h1v23h1v-17h1v-16h1v18h1v16h1v-22h1v-18h1v-8h1v-8h1v-4h1v-3h1v-1h2v-1h3v-1h2v1h1v-1h1v1h2v-1h3v1h1v1h1v2h1v1h1v1h1v4h1v4h1v4h1v11h1v7h1v7h1v11h1v3h1v122h1v20h1v229h1v-5h1v-201h1v-150h1v6h1v-25h1v4h1v6h1v-11h1v-12h1v-6h1v-5h1v-4h1v-4h1v-5h1v-5h1v-2h1v-2h1v-2h1v-2h1v-1h1v-1h1v-1h2v-1h1v-1h3v-1h1v1h1v-1h25v1h3v1h1v-1h1v-1h31v1h4v1h4v1h3v1h1v1h3v1h1v1h1v1h1v1h2v2h1v3h1v1h1v4h1v3h1v6h1v-1h1v-12h1v-5h1v4h1v4h1v7h1v-1h1v-2h1v6h1v3h1v2h1v1h1v-4h1v-9h1v-7h1v-4h1v-4h1v-1h2v-1h1v-1h1v-1h2v-1h2v-1h21.5" stroke="#48e8f8"/><path transform="translate(173.8 3584.2) scale(2.85 -2.85)" d="M0 0h20.5v1h8v1h5v-1h2v1h9v1h1v-1h1v1h13v1h3v-1h1v1h11v1h1v-1h1v1h83v-1h8v-1h1v1h1v-1h1v1h2v-1h2v1h2v-1h14v-1h1v2h1v-1h6v-1h1v1h5v-1h1v1h1v-1h1v1h1v-1h2v1h1v-1h2v1h5v1h3v-1h1v1h2v-1h9v-1h1v1h2v-1h3v1h1v-1h1v1h1v-1h1v1h1v-1h1v1h1v-1h1v1h1v-1h1v1h1v-1h3v1h1v-1h9v1h1v-1h8v1h2v-1h3v1h1v-1h19v1h4v1h3v1h1v1h1v2h2v1h1v-2h2v-1h1v-1h1v-1h2v-1h4v-1h19v1h2v-1h3v-1h1v1h12v1h2v11h1v-12h3v1h5v1h2v1h1v1h1v1h1v-1h1v18h1v17h1v24h1v-16h1v-16h1v16h1v18h1v-23h1v-16h1v-8h1v-8h1v-3h1v-4h1v-1h4v-1h8v2h2v1h1v1h1v1h2v6h1v8h1v4h1v8h1v4h1v5h1v17h1v130h2v222h1v-5h1v-192h1v-142h1v3h1v-12h1v-10h1v4h1v5h1v-9h1v-14h1v-9h1v-5h1v-4h1v-4h1v-5h1v-1h1v-2h1v-2h1v-2h1v-1h1v-1h2v-1h2v-1h1v-1h4v-1h27v1h5v-1h32v1h3v1h5v1h2v1h2v1h2v1h2v1h1v1h1v1h1v2h1v1h1v2h1v3h1v3h1v6h2v-12h1v-5h1v4h1v4h1v7h1v-1h1v-2h1v3h1v6h1v2h1v1h1v-5h1v-9h1v-5h1v-4h1v-4h1v-1h2v-1h1v-1h1v-1h2v-1h2v-1h21.5" stroke="#fff000"/></g></defs>
<rect width="2197" height="3861" fill="#fff"/>
<line x1="164.7" y1="512.0" x2="164.7" y2="1867.5" stroke="#000" stroke-width="6.20" opacity="0.32"/><line x1="164.7" y1="512.0" x2="164.7" y2="1867.5" stroke="#000" stroke-width="3.20"/><line x1="308.2" y1="189.0" x2="308.2" y2="1472.5" stroke="#000" stroke-width="6.40" opacity="0.32"/><line x1="308.2" y1="189.0" x2="308.2" y2="1472.5" stroke="#000" stroke-width="3.60"/><line x1="164.7" y1="512.0" x2="308.2" y2="189.0" stroke="#000" stroke-width="2.20"/><line x1="164.7" y1="1794.0" x2="308.2" y2="1472.5" stroke="#000" stroke-width="2.20"/><line x1="1939.0" y1="1832.0" x2="2097.0" y2="1472.5" stroke="#000" stroke-width="2.20"/>
<rect x="182.7" y="72.0" width="1296.3" height="1296.8" fill="#000"/><line x1="1477.8" y1="72.0" x2="1477.8" y2="1368.8" stroke="#8a8a8a" stroke-width="2.40"/><g clip-path="url(#gc)"><g filter="url(#vb)" shape-rendering="crispEdges"><rect x="348.2" y="162.0" width="50.4" height="4.6" fill="url(#g0)"/><rect x="332.2" y="166.0" width="86.8" height="4.6" fill="url(#g1)"/><rect x="322.8" y="170.0" width="109.5" height="4.6" fill="url(#g2)"/><rect x="315.2" y="174.0" width="130.2" height="4.6" fill="url(#g3)"/><rect x="310.3" y="178.0" width="144.5" height="4.6" fill="url(#g4)"/><rect x="305.4" y="182.0" width="158.7" height="4.6" fill="url(#g5)"/><rect x="301.5" y="186.0" width="171.6" height="4.6" fill="url(#g6)"/><rect x="299.9" y="190.0" width="179.7" height="4.6" fill="url(#g7)"/><rect x="298.3" y="194.0" width="187.7" height="4.6" fill="url(#g8)"/><rect x="296.7" y="198.0" width="195.7" height="4.6" fill="url(#g9)"/><rect x="294.1" y="202.0" width="204.8" height="4.6" fill="url(#g10)"/><rect x="291.3" y="206.0" width="214.2" height="4.6" fill="url(#g11)"/><rect x="288.6" y="210.0" width="223.6" height="4.6" fill="url(#g12)"/><rect x="285.8" y="214.0" width="233.0" height="4.6" fill="url(#g13)"/><rect x="283.5" y="218.0" width="242.0" height="4.6" fill="url(#g14)"/><rect x="281.7" y="222.0" width="250.5" height="4.6" fill="url(#g15)"/><rect x="279.9" y="226.0" width="258.8" height="4.6" fill="url(#g16)"/><rect x="278.1" y="230.0" width="266.9" height="4.6" fill="url(#g17)"/><rect x="276.3" y="234.0" width="274.9" height="4.6" fill="url(#g18)"/><rect x="274.5" y="238.0" width="283.0" height="4.6" fill="url(#g19)"/><rect x="272.7" y="242.0" width="291.0" height="4.6" fill="url(#g20)"/><rect x="271.0" y="246.0" width="298.8" height="4.6" fill="url(#g21)"/><rect x="269.4" y="250.0" width="305.7" height="4.6" fill="url(#g22)"/><rect x="267.9" y="254.0" width="312.5" height="4.6" fill="url(#g23)"/><rect x="266.3" y="258.0" width="319.4" height="4.6" fill="url(#g24)"/><rect x="264.8" y="262.0" width="326.3" height="4.6" fill="url(#g25)"/><rect x="263.2" y="266.0" width="333.1" height="4.6" fill="url(#g26)"/><rect x="261.9" y="270.0" width="339.3" height="4.6" fill="url(#g27)"/><rect x="260.9" y="274.0" width="345.1" height="4.6" fill="url(#g28)"/><rect x="259.9" y="278.0" width="350.9" height="4.6" fill="url(#g29)"/><rect x="258.9" y="282.0" width="356.6" height="4.6" fill="url(#g30)"/><rect x="257.9" y="286.0" width="362.4" height="4.6" fill="url(#g31)"/><rect x="256.9" y="290.0" width="368.2" height="4.6" fill="url(#g32)"/><rect x="255.9" y="294.0" width="374.0" height="4.6" fill="url(#g33)"/><rect x="254.9" y="298.0" width="379.8" height="4.6" fill="url(#g34)"/><rect x="253.9" y="302.0" width="385.5" height="4.6" fill="url(#g35)"/><rect x="253.2" y="306.0" width="391.0" height="4.6" fill="url(#g36)"/><rect x="252.5" y="310.0" width="396.5" height="4.6" fill="url(#g37)"/><rect x="251.7" y="314.0" width="401.9" height="4.6" fill="url(#g38)"/><rect x="251.0" y="318.0" width="407.4" height="4.6" fill="url(#g39)"/><rect x="250.3" y="322.0" width="412.8" height="4.6" fill="url(#g40)"/><rect x="249.6" y="326.0" width="418.3" height="4.6" fill="url(#g41)"/><rect x="248.8" y="330.0" width="423.7" height="4.6" fill="url(#g42)"/><rect x="248.4" y="334.0" width="428.9" height="4.6" fill="url(#g43)"/><rect x="248.1" y="338.0" width="433.9" height="4.6" fill="url(#g44)"/><rect x="247.8" y="342.0" width="438.9" height="4.6" fill="url(#g45)"/><rect x="247.5" y="346.0" width="443.9" height="4.6" fill="url(#g46)"/><rect x="247.3" y="350.0" width="448.7" height="4.6" fill="url(#g47)"/><rect x="247.0" y="354.0" width="453.4" height="4.6" fill="url(#g48)"/><rect x="246.7" y="358.0" width="458.0" height="4.6" fill="url(#g49)"/><rect x="246.4" y="362.0" width="462.7" height="4.6" fill="url(#g50)"/><rect x="246.2" y="366.0" width="467.3" height="4.6" fill="url(#g51)"/><rect x="245.9" y="370.0" width="471.9" height="4.6" fill="url(#g52)"/><rect x="245.7" y="374.0" width="476.5" height="4.6" fill="url(#g53)"/><rect x="245.6" y="378.0" width="481.0" height="4.6" fill="url(#g54)"/><rect x="245.6" y="382.0" width="485.4" height="4.6" fill="url(#g55)"/><rect x="245.5" y="386.0" width="489.8" height="4.6" fill="url(#g56)"/><rect x="245.5" y="390.0" width="494.2" height="4.6" fill="url(#g57)"/><rect x="245.4" y="394.0" width="498.6" height="4.6" fill="url(#g58)"/><rect x="245.4" y="398.0" width="502.8" height="4.6" fill="url(#g59)"/><rect x="245.3" y="402.0" width="507.0" height="4.6" fill="url(#g60)"/><rect x="245.3" y="406.0" width="511.3" height="4.6" fill="url(#g61)"/><rect x="245.2" y="410.0" width="515.5" height="4.6" fill="url(#g62)"/><rect x="245.2" y="414.0" width="519.7" height="4.6" fill="url(#g63)"/><rect x="245.2" y="418.0" width="523.9" height="4.6" fill="url(#g64)"/><rect x="245.2" y="422.0" width="528.0" height="4.6" fill="url(#g65)"/><rect x="245.3" y="426.0" width="532.2" height="4.6" fill="url(#g66)"/><rect x="245.5" y="430.0" width="536.2" height="4.6" fill="url(#g67)"/><rect x="245.7" y="434.0" width="540.2" height="4.6" fill="url(#g68)"/><rect x="245.9" y="438.0" width="544.1" height="4.6" fill="url(#g69)"/><rect x="246.0" y="442.0" width="548.0" height="4.6" fill="url(#g70)"/><rect x="246.2" y="446.0" width="551.8" height="4.6" fill="url(#g71)"/><rect x="246.4" y="450.0" width="555.6" height="4.6" fill="url(#g72)"/><rect x="246.6" y="454.0" width="559.4" height="4.6" fill="url(#g73)"/><rect x="246.8" y="458.0" width="563.2" height="4.6" fill="url(#g74)"/><rect x="247.0" y="462.0" width="567.0" height="4.6" fill="url(#g75)"/><rect x="247.2" y="466.0" width="570.8" height="4.6" fill="url(#g76)"/><rect x="247.3" y="470.0" width="574.7" height="4.6" fill="url(#g77)"/><rect x="247.5" y="474.0" width="578.5" height="4.6" fill="url(#g78)"/><rect x="247.7" y="478.0" width="582.3" height="4.6" fill="url(#g79)"/><rect x="247.9" y="482.0" width="586.0" height="4.6" fill="url(#g80)"/><rect x="248.1" y="486.0" width="589.3" height="4.6" fill="url(#g81)"/><rect x="248.4" y="490.0" width="592.6" height="4.6" fill="url(#g82)"/><rect x="248.6" y="494.0" width="595.8" height="4.6" fill="url(#g83)"/><rect x="248.9" y="498.0" width="599.1" height="4.6" fill="url(#g84)"/><rect x="249.1" y="502.0" width="602.4" height="4.6" fill="url(#g85)"/><rect x="249.4" y="506.0" width="605.7" height="4.6" fill="url(#g86)"/><rect x="249.6" y="510.0" width="609.0" height="4.6" fill="url(#g87)"/><rect x="249.8" y="514.0" width="612.7" height="4.6" fill="url(#g88)"/><rect x="250.1" y="518.0" width="616.5" height="4.6" fill="url(#g89)"/><rect x="250.3" y="522.0" width="620.4" height="4.6" fill="url(#g90)"/><rect x="250.6" y="526.0" width="624.2" height="4.6" fill="url(#g91)"/><rect x="250.8" y="530.0" width="628.0" height="4.6" fill="url(#g92)"/><rect x="251.1" y="534.0" width="631.8" height="4.6" fill="url(#g93)"/><rect x="251.3" y="538.0" width="635.6" height="4.6" fill="url(#g94)"/><rect x="251.6" y="542.0" width="639.4" height="4.6" fill="url(#g95)"/><rect x="251.8" y="546.0" width="643.3" height="4.6" fill="url(#g96)"/><rect x="252.1" y="550.0" width="647.0" height="4.6" fill="url(#g97)"/><rect x="252.6" y="554.0" width="650.6" height="4.6" fill="url(#g98)"/><rect x="253.1" y="558.0" width="654.2" height="4.6" fill="url(#g99)"/><rect x="253.6" y="562.0" width="657.8" height="4.6" fill="url(#g100)"/><rect x="254.1" y="566.0" width="661.3" height="4.6" fill="url(#g101)"/><rect x="254.6" y="570.0" width="664.9" height="4.6" fill="url(#g102)"/><rect x="255.0" y="574.0" width="668.5" height="4.6" fill="url(#g103)"/><rect x="255.5" y="578.0" width="672.1" height="4.6" fill="url(#g104)"/><rect x="256.0" y="582.0" width="675.7" height="4.6" fill="url(#g105)"/><rect x="256.5" y="586.0" width="679.2" height="4.6" fill="url(#g106)"/><rect x="257.0" y="590.0" width="682.8" height="4.6" fill="url(#g107)"/><rect x="257.5" y="594.0" width="686.4" height="4.6" fill="url(#g108)"/><rect x="258.0" y="598.0" width="690.0" height="4.6" fill="url(#g109)"/><rect x="258.5" y="602.0" width="693.6" height="4.6" fill="url(#g110)"/><rect x="259.0" y="606.0" width="697.3" height="4.6" fill="url(#g111)"/><rect x="259.4" y="610.0" width="701.0" height="4.6" fill="url(#g112)"/><rect x="259.9" y="614.0" width="704.8" height="4.6" fill="url(#g113)"/><rect x="260.5" y="618.0" width="708.4" height="4.6" fill="url(#g114)"/><rect x="261.1" y="622.0" width="712.1" height="4.6" fill="url(#g115)"/><rect x="261.7" y="626.0" width="715.7" height="4.6" fill="url(#g116)"/><rect x="262.3" y="630.0" width="719.3" height="4.6" fill="url(#g117)"/><rect x="262.9" y="634.0" width="723.0" height="4.6" fill="url(#g118)"/><rect x="263.4" y="638.0" width="726.6" height="4.6" fill="url(#g119)"/><rect x="264.0" y="642.0" width="730.3" height="4.6" fill="url(#g120)"/><rect x="264.6" y="646.0" width="733.9" height="4.6" fill="url(#g121)"/><rect x="265.2" y="650.0" width="737.5" height="4.6" fill="url(#g122)"/><rect x="265.8" y="654.0" width="741.2" height="4.6" fill="url(#g123)"/><rect x="266.4" y="658.0" width="744.5" height="4.6" fill="url(#g124)"/><rect x="267.0" y="662.0" width="747.7" height="4.6" fill="url(#g125)"/><rect x="267.6" y="666.0" width="751.0" height="4.6" fill="url(#g126)"/><rect x="268.2" y="670.0" width="754.3" height="4.6" fill="url(#g127)"/><rect x="268.8" y="674.0" width="757.5" height="4.6" fill="url(#g128)"/><rect x="269.3" y="678.0" width="760.8" height="4.6" fill="url(#g129)"/><rect x="269.9" y="682.0" width="764.1" height="4.6" fill="url(#g130)"/><rect x="270.5" y="686.0" width="767.4" height="4.6" fill="url(#g131)"/><rect x="271.1" y="690.0" width="770.6" height="4.6" fill="url(#g132)"/><rect x="271.7" y="694.0" width="773.9" height="4.6" fill="url(#g133)"/><rect x="272.3" y="698.0" width="777.1" height="4.6" fill="url(#g134)"/><rect x="273.0" y="702.0" width="780.3" height="4.6" fill="url(#g135)"/><rect x="273.7" y="706.0" width="783.5" height="4.6" fill="url(#g136)"/><rect x="274.4" y="710.0" width="786.7" height="4.6" fill="url(#g137)"/><rect x="275.0" y="714.0" width="789.9" height="4.6" fill="url(#g138)"/><rect x="275.7" y="718.0" width="793.0" height="4.6" fill="url(#g139)"/><rect x="276.4" y="722.0" width="796.2" height="4.6" fill="url(#g140)"/><rect x="277.1" y="726.0" width="799.4" height="4.6" fill="url(#g141)"/><rect x="277.7" y="730.0" width="802.6" height="4.6" fill="url(#g142)"/><rect x="278.4" y="734.0" width="805.8" height="4.6" fill="url(#g143)"/><rect x="279.1" y="738.0" width="809.0" height="4.6" fill="url(#g144)"/><rect x="279.7" y="742.0" width="812.4" height="4.6" fill="url(#g145)"/><rect x="280.4" y="746.0" width="815.8" height="4.6" fill="url(#g146)"/><rect x="281.1" y="750.0" width="819.3" height="4.6" fill="url(#g147)"/><rect x="281.8" y="754.0" width="822.8" height="4.6" fill="url(#g148)"/><rect x="282.6" y="758.0" width="826.2" height="4.6" fill="url(#g149)"/><rect x="283.4" y="762.0" width="829.5" height="4.6" fill="url(#g150)"/><rect x="284.2" y="766.0" width="832.9" height="4.6" fill="url(#g151)"/><rect x="285.0" y="770.0" width="836.3" height="4.6" fill="url(#g152)"/><rect x="285.7" y="774.0" width="839.6" height="4.6" fill="url(#g153)"/><rect x="286.5" y="778.0" width="843.0" height="4.6" fill="url(#g154)"/><rect x="287.3" y="782.0" width="846.4" height="4.6" fill="url(#g155)"/><rect x="288.1" y="786.0" width="849.7" height="4.6" fill="url(#g156)"/><rect x="288.9" y="790.0" width="853.1" height="4.6" fill="url(#g157)"/><rect x="289.7" y="794.0" width="856.5" height="4.6" fill="url(#g158)"/><rect x="290.5" y="798.0" width="859.8" height="4.6" fill="url(#g159)"/><rect x="291.3" y="802.0" width="863.2" height="4.6" fill="url(#g160)"/><rect x="292.1" y="806.0" width="866.6" height="4.6" fill="url(#g161)"/><rect x="292.9" y="810.0" width="869.9" height="4.6" fill="url(#g162)"/><rect x="293.6" y="814.0" width="873.3" height="4.6" fill="url(#g163)"/><rect x="294.4" y="818.0" width="876.7" height="4.6" fill="url(#g164)"/><rect x="295.2" y="822.0" width="880.0" height="4.6" fill="url(#g165)"/><rect x="296.0" y="826.0" width="883.3" height="4.6" fill="url(#g166)"/><rect x="296.8" y="830.0" width="886.6" height="4.6" fill="url(#g167)"/><rect x="297.6" y="834.0" width="889.9" height="4.6" fill="url(#g168)"/><rect x="298.5" y="838.0" width="893.1" height="4.6" fill="url(#g169)"/><rect x="299.4" y="842.0" width="896.4" height="4.6" fill="url(#g170)"/><rect x="300.2" y="846.0" width="899.6" height="4.6" fill="url(#g171)"/><rect x="301.1" y="850.0" width="902.9" height="4.6" fill="url(#g172)"/><rect x="302.0" y="854.0" width="906.1" height="4.6" fill="url(#g173)"/><rect x="302.8" y="858.0" width="909.4" height="4.6" fill="url(#g174)"/><rect x="303.7" y="862.0" width="912.6" height="4.6" fill="url(#g175)"/><rect x="304.6" y="866.0" width="915.9" height="4.6" fill="url(#g176)"/><rect x="305.5" y="870.0" width="919.1" height="4.6" fill="url(#g177)"/><rect x="306.4" y="874.0" width="922.3" height="4.6" fill="url(#g178)"/><rect x="307.3" y="878.0" width="925.3" height="4.6" fill="url(#g179)"/><rect x="308.2" y="882.0" width="928.2" height="4.6" fill="url(#g180)"/><rect x="309.1" y="886.0" width="931.1" height="4.6" fill="url(#g181)"/><rect x="310.0" y="890.0" width="934.0" height="4.6" fill="url(#g182)"/><rect x="310.9" y="894.0" width="936.8" height="4.6" fill="url(#g183)"/><rect x="312.0" y="898.0" width="939.5" height="4.6" fill="url(#g184)"/><rect x="313.1" y="902.0" width="942.2" height="4.6" fill="url(#g185)"/><rect x="314.2" y="906.0" width="944.9" height="4.6" fill="url(#g186)"/><rect x="315.3" y="910.0" width="943.8" height="4.6" fill="url(#g187)"/><rect x="316.3" y="914.0" width="942.8" height="4.6" fill="url(#g188)"/><rect x="317.3" y="918.0" width="941.8" height="4.6" fill="url(#g189)"/><rect x="318.3" y="922.0" width="932.7" height="4.6" fill="url(#g190)"/><rect x="319.4" y="926.0" width="923.4" height="4.6" fill="url(#g191)"/><rect x="320.4" y="930.0" width="914.0" height="4.6" fill="url(#g192)"/><rect x="321.4" y="934.0" width="904.7" height="4.6" fill="url(#g193)"/><rect x="322.5" y="938.0" width="895.3" height="4.6" fill="url(#g194)"/><rect x="323.5" y="942.0" width="885.9" height="4.6" fill="url(#g195)"/><rect x="324.5" y="946.0" width="876.6" height="4.6" fill="url(#g196)"/><rect x="325.5" y="950.0" width="867.2" height="4.6" fill="url(#g197)"/><rect x="326.6" y="954.0" width="857.9" height="4.6" fill="url(#g198)"/><rect x="327.6" y="958.0" width="848.5" height="4.6" fill="url(#g199)"/><rect x="328.6" y="962.0" width="839.1" height="4.6" fill="url(#g200)"/><rect x="329.7" y="966.0" width="829.8" height="4.6" fill="url(#g201)"/><rect x="330.7" y="970.0" width="820.4" height="4.6" fill="url(#g202)"/><rect x="331.7" y="974.0" width="811.1" height="4.6" fill="url(#g203)"/><rect x="332.8" y="978.0" width="801.7" height="4.6" fill="url(#g204)"/><rect x="333.8" y="982.0" width="792.3" height="4.6" fill="url(#g205)"/><rect x="334.9" y="986.0" width="782.9" height="4.6" fill="url(#g206)"/><rect x="336.2" y="990.0" width="773.3" height="4.6" fill="url(#g207)"/><rect x="337.5" y="994.0" width="763.7" height="4.6" fill="url(#g208)"/><rect x="338.7" y="998.0" width="754.1" height="4.6" fill="url(#g209)"/><rect x="340.0" y="1002.0" width="744.4" height="4.6" fill="url(#g210)"/><rect x="341.3" y="1006.0" width="734.8" height="4.6" fill="url(#g211)"/><rect x="342.6" y="1010.0" width="725.2" height="4.6" fill="url(#g212)"/><rect x="343.9" y="1014.0" width="715.6" height="4.6" fill="url(#g213)"/><rect x="345.2" y="1018.0" width="706.0" height="4.6" fill="url(#g214)"/><rect x="346.4" y="1022.0" width="696.4" height="4.6" fill="url(#g215)"/><rect x="347.7" y="1026.0" width="686.8" height="4.6" fill="url(#g216)"/><rect x="349.0" y="1030.0" width="677.2" height="4.6" fill="url(#g217)"/><rect x="350.5" y="1034.0" width="667.3" height="4.6" fill="url(#g218)"/><rect x="352.1" y="1038.0" width="657.4" height="4.6" fill="url(#g219)"/><rect x="353.6" y="1042.0" width="647.5" height="4.6" fill="url(#g220)"/><rect x="355.2" y="1046.0" width="637.6" height="4.6" fill="url(#g221)"/><rect x="356.7" y="1050.0" width="627.8" height="4.6" fill="url(#g222)"/><rect x="358.3" y="1054.0" width="617.9" height="4.6" fill="url(#g223)"/><rect x="359.8" y="1058.0" width="608.0" height="4.6" fill="url(#g224)"/><rect x="361.4" y="1062.0" width="598.1" height="4.6" fill="url(#g225)"/><rect x="362.9" y="1066.0" width="588.3" height="4.6" fill="url(#g226)"/><rect x="364.5" y="1070.0" width="578.4" height="4.6" fill="url(#g227)"/><rect x="366.0" y="1074.0" width="568.5" height="4.6" fill="url(#g228)"/><rect x="367.5" y="1078.0" width="558.6" height="4.6" fill="url(#g229)"/><rect x="369.1" y="1082.0" width="548.8" height="4.6" fill="url(#g230)"/><rect x="370.6" y="1086.0" width="538.9" height="4.6" fill="url(#g231)"/><rect x="372.2" y="1090.0" width="529.0" height="4.6" fill="url(#g232)"/><rect x="373.9" y="1094.0" width="518.9" height="4.6" fill="url(#g233)"/><rect x="375.6" y="1098.0" width="508.9" height="4.6" fill="url(#g234)"/><rect x="377.4" y="1102.0" width="498.8" height="4.6" fill="url(#g235)"/><rect x="379.1" y="1106.0" width="488.8" height="4.6" fill="url(#g236)"/><rect x="380.8" y="1110.0" width="478.8" height="4.6" fill="url(#g237)"/><rect x="382.5" y="1114.0" width="468.7" height="4.6" fill="url(#g238)"/><rect x="384.2" y="1118.0" width="458.7" height="4.6" fill="url(#g239)"/><rect x="385.9" y="1122.0" width="448.7" height="4.6" fill="url(#g240)"/><rect x="387.6" y="1126.0" width="438.6" height="4.6" fill="url(#g241)"/><rect x="389.3" y="1130.0" width="428.6" height="4.6" fill="url(#g242)"/><rect x="391.0" y="1134.0" width="418.5" height="4.6" fill="url(#g243)"/><rect x="392.7" y="1138.0" width="408.5" height="4.6" fill="url(#g244)"/><rect x="394.4" y="1142.0" width="398.5" height="4.6" fill="url(#g245)"/><rect x="396.2" y="1146.0" width="388.4" height="4.6" fill="url(#g246)"/><rect x="397.9" y="1150.0" width="378.4" height="4.6" fill="url(#g247)"/><rect x="399.6" y="1154.0" width="368.3" height="4.6" fill="url(#g248)"/><rect x="401.3" y="1158.0" width="358.3" height="4.6" fill="url(#g249)"/><rect x="403.0" y="1162.0" width="348.3" height="4.6" fill="url(#g250)"/><rect x="404.6" y="1166.0" width="338.3" height="4.6" fill="url(#g251)"/><rect x="406.3" y="1170.0" width="328.3" height="4.6" fill="url(#g252)"/><rect x="408.0" y="1174.0" width="318.2" height="4.6" fill="url(#g253)"/><rect x="409.7" y="1178.0" width="308.2" height="4.6" fill="url(#g254)"/><rect x="411.4" y="1182.0" width="298.2" height="4.6" fill="url(#g255)"/><rect x="413.1" y="1186.0" width="288.2" height="4.6" fill="url(#g256)"/><rect x="414.7" y="1190.0" width="278.2" height="4.6" fill="url(#g257)"/><rect x="416.4" y="1194.0" width="268.2" height="4.6" fill="url(#g258)"/><rect x="418.1" y="1198.0" width="258.2" height="4.6" fill="url(#g259)"/><rect x="419.8" y="1202.0" width="248.1" height="4.6" fill="url(#g260)"/><rect x="421.8" y="1206.0" width="237.8" height="4.6" fill="url(#g261)"/><rect x="423.9" y="1210.0" width="227.4" height="4.6" fill="url(#g262)"/><rect x="425.9" y="1214.0" width="217.1" height="4.6" fill="url(#g263)"/><rect x="427.9" y="1218.0" width="206.7" height="4.6" fill="url(#g264)"/><rect x="430.0" y="1222.0" width="196.3" height="4.6" fill="url(#g265)"/><rect x="432.0" y="1226.0" width="186.0" height="4.6" fill="url(#g266)"/><rect x="434.0" y="1230.0" width="175.6" height="4.6" fill="url(#g267)"/><rect x="436.0" y="1234.0" width="165.3" height="4.6" fill="url(#g268)"/><rect x="438.1" y="1238.0" width="154.9" height="4.6" fill="url(#g269)"/><rect x="440.1" y="1242.0" width="144.5" height="4.6" fill="url(#g270)"/><rect x="442.1" y="1246.0" width="134.2" height="4.6" fill="url(#g271)"/><rect x="444.9" y="1250.0" width="123.1" height="4.6" fill="url(#g272)"/><rect x="448.3" y="1254.0" width="111.4" height="4.6" fill="url(#g273)"/><rect x="451.6" y="1258.0" width="99.7" height="4.6" fill="url(#g274)"/><rect x="454.9" y="1262.0" width="88.0" height="4.6" fill="url(#g275)"/><rect x="458.3" y="1266.0" width="76.4" height="4.6" fill="url(#g276)"/><rect x="461.6" y="1270.0" width="64.7" height="4.6" fill="url(#g277)"/><rect x="465.0" y="1274.0" width="53.0" height="4.6" fill="url(#g278)"/><rect x="468.3" y="1278.0" width="41.3" height="4.6" fill="url(#g279)"/><rect x="471.7" y="1282.0" width="29.7" height="4.6" fill="url(#g280)"/></g></g><line x1="308.2" y1="199.0" x2="308.2" y2="832.0" stroke="#000" stroke-width="4.60"/><path d="M250.3 137.0V1305.3M385.8 137.0V1305.3M527.3 137.0V1305.3M805.0 137.0V1305.3M944.2 137.0V1305.3M1080.6 137.0V1195.0M1222.2 137.0V1195.0M1359.5 137.0V1195.0M250.3 194.0H1414.0M250.3 332.8H1414.0M250.3 472.0H1414.0M250.3 610.7H1414.0M250.3 749.3H1414.0M250.3 888.2H1414.0M250.3 1027.5H1414.0M250.3 1166.3H1414.0M250.3 1305.3H1414.0" stroke="#8a8a8a" stroke-width="2" stroke-dasharray="6 4.6" fill="none"/><path d="M666.0 137.0V300.0" stroke="#8a8a8a" stroke-width="2" stroke-dasharray="6 4.6" fill="none"/><path d="M666.0 300.0V1068.0" stroke="#b0b0b0" stroke-width="2" stroke-dasharray="6 4.6" fill="none" opacity="0.45"/><path d="M666.0 1068.0V1305.3" stroke="#8a8a8a" stroke-width="2" stroke-dasharray="6 4.6" fill="none"/><text transform="translate(198.08 209.35) scale(0.7975 1)" font-size="44.51" fill="#a6a6a6">0.8</text><text transform="translate(198.07 348.15) scale(0.8037 1)" font-size="44.51" fill="#a6a6a6">0.7</text><text transform="translate(198.08 487.35) scale(0.7975 1)" font-size="44.51" fill="#a6a6a6">0.6</text><text transform="translate(198.08 626.05) scale(0.7975 1)" font-size="44.51" fill="#a6a6a6">0.5</text><text transform="translate(198.09 764.65) scale(0.7915 1)" font-size="44.51" fill="#a6a6a6">0.4</text><text transform="translate(198.08 903.55) scale(0.7975 1)" font-size="44.51" fill="#a6a6a6">0.3</text><text transform="translate(198.07 1042.85) scale(0.8037 1)" font-size="44.51" fill="#a6a6a6">0.2</text><text transform="translate(198.07 1181.65) scale(0.8006 1)" font-size="44.51" fill="#a6a6a6">0.1</text><text transform="translate(197.06 1305.56) scale(0.8273 1)" font-size="43.66" fill="#a6a6a6">0.0</text><text transform="translate(224.37 1345.55) scale(0.8031 1)" font-size="44.51" fill="#a6a6a6">0.0</text><text transform="translate(359.86 1345.55) scale(0.8092 1)" font-size="44.51" fill="#a6a6a6">0.1</text><text transform="translate(501.35 1345.55) scale(0.8123 1)" font-size="44.51" fill="#a6a6a6">0.2</text><text transform="translate(640.06 1345.55) scale(0.8061 1)" font-size="44.51" fill="#a6a6a6">0.3</text><text transform="translate(779.08 1345.55) scale(0.8000 1)" font-size="44.51" fill="#a6a6a6">0.4</text><text transform="translate(918.26 1345.55) scale(0.8061 1)" font-size="44.51" fill="#a6a6a6">0.5</text><text transform="translate(1054.66 1345.55) scale(0.8061 1)" font-size="44.51" fill="#a6a6a6">0.6</text><text transform="translate(1196.25 1345.55) scale(0.8123 1)" font-size="44.51" fill="#a6a6a6">0.7</text><text transform="translate(1333.56 1345.55) scale(0.8061 1)" font-size="44.51" fill="#a6a6a6">0.8</text><text transform="translate(201.33 134.67) scale(0.7815 1)" font-size="68.24" fill="#a6a6a6">y</text><text transform="translate(1433.46 1322.00) scale(0.9261 1)" font-size="58.49" fill="#a6a6a6">x</text><text transform="translate(237.21 162.94) scale(0.8145 1)" font-size="45.63" fill="#fff">510</text><text transform="translate(395.81 145.13) scale(0.7854 1)" font-size="47.32" fill="#fff">520</text><text transform="translate(546.29 207.54) scale(0.8232 1)" font-size="45.92" fill="#fff">530</text><text transform="translate(648.52 286.53) scale(0.7909 1)" font-size="46.76" fill="#fff">540</text><text transform="translate(745.81 372.03) scale(0.7831 1)" font-size="47.46" fill="#fff">550</text><text transform="translate(838.11 463.52) scale(0.7801 1)" font-size="47.89" fill="#fff">560</text><text transform="translate(928.00 552.55) scale(0.8303 1)" font-size="45.07" fill="#fff">570</text><text transform="translate(1011.22 634.96) scale(0.8512 1)" font-size="43.52" fill="#fff">580</text><text transform="translate(1082.50 705.85) scale(0.8410 1)" font-size="44.65" fill="#fff">590</text><text transform="translate(1138.53 763.55) scale(0.8364 1)" font-size="44.65" fill="#fff">600</text><text transform="translate(1183.18 804.75) scale(0.8165 1)" font-size="44.65" fill="#fff">610</text><text transform="translate(1229.13 852.55) scale(0.8259 1)" font-size="45.21" fill="#fff">630</text><text transform="translate(1263.41 887.15) scale(0.8463 1)" font-size="44.65" fill="#fff">680</text><text transform="translate(196.08 713.55) scale(0.7878 1)" font-size="45.49" fill="#fff">490</text><text transform="translate(267.08 1010.14) scale(0.7781 1)" font-size="46.06" fill="#fff">480</text><text transform="translate(327.18 1204.83) scale(0.7551 1)" font-size="47.46" fill="#fff">470</text><text transform="translate(359.28 1275.51) scale(0.7346 1)" font-size="48.87" fill="#fff">460</text><text transform="translate(452.22 1345.55) scale(0.7593 1)" font-size="45.07" fill="#fff">420</text><text transform="translate(854.83 129.70) scale(0.9757 1)" font-size="44.50" fill="#fff">CIE 1931 Chromaticity Diagram</text><path d="M297.3 174.1L310.2 183.7M366.5 160.7L366.5 170.8M426.4 154.9L423.7 176.3M478.6 198.3L482.7 201.0M549.5 221.1L537.7 239.5M594.0 269.7L587.1 276.6M267.0 256.5L281.0 256.5M235.5 368.6L256.0 368.6M651.2 295.6L639.1 313.8M748.3 383.0L733.8 399.0M690.6 350.9L683.8 358.0M784.8 439.8L778.6 447.0M842.5 472.5L826.6 487.9M877.0 525.4L870.0 533.6M931.9 563.4L916.4 578.8M1012.3 645.3L998.4 662.3M962.8 615.9L956.6 622.0M1083.3 719.4L1069.4 734.3M1038.5 697.8L1033.9 702.4M1140.5 776.6L1126.6 790.5M1103.4 762.7L1098.8 765.8M1183.8 816.8L1169.9 832.2M1154.4 806.0L1148.2 812.8M1190.0 843.7L1183.2 850.8M1211.6 850.8L1199.2 862.2M1230.8 866.2L1217.8 880.1M1265.7 898.7L1250.2 914.1M264.0 694.7L273.8 694.7M249.7 523.0L257.0 523.0M335.0 989.0L347.0 989.0M385.6 1165.4L408.2 1152.4M371.0 1087.0L381.0 1085.5M416.8 1202.0L428.8 1197.0M419.2 1236.5L438.5 1223.0M444.2 1243.7L452.0 1242.3M438.5 1265.4L455.3 1256.7M481.7 1284.6L481.7 1303.8" stroke="#e8e8e8" stroke-width="2" fill="none"/><ellipse cx="890.0" cy="843.4" rx="166.7" ry="69.0" transform="rotate(0.0 890.0 843.4)" fill="none" stroke="#fff12e" stroke-width="4.2"/><ellipse cx="750.0" cy="1046.0" rx="232.0" ry="113.0" transform="rotate(-12.0 750.0 1046.0)" fill="none" stroke="#fff12e" stroke-width="4.2"/><text transform="translate(836.38 821.60) scale(1.1219 1)" font-size="36.00" fill="#ffd83a">3D_Eu-L</text><text transform="translate(756.62 864.80) scale(1.0257 1)" font-size="38.80" fill="#fff">10 K</text><text transform="translate(950.32 871.00) scale(0.9609 1)" font-size="38.80" fill="#fff">RT</text><text transform="translate(689.62 992.60) scale(1.0208 1)" font-size="38.80" fill="#fff">200 K</text><text transform="translate(880.49 975.30) scale(0.8740 1)" font-size="38.80" fill="#fff">RT</text><text transform="translate(821.52 1019.40) scale(1.0198 1)" font-size="38.80" fill="#fff">250 K</text><text transform="translate(564.34 1050.30) scale(0.9812 1)" font-size="38.80" fill="#fff">10 K</text><text transform="translate(684.62 1053.60) scale(0.9881 1)" font-size="38.80" fill="#fff">150 K</text><text transform="translate(566.40 1095.60) scale(1.0322 1)" font-size="38.80" fill="#fff">50 K</text><text transform="translate(666.12 1090.70) scale(0.9881 1)" font-size="38.80" fill="#fff">100 K</text><text transform="translate(627.80 1140.00) scale(1.1104 1)" font-size="36.00" fill="#fff12e">2D_Eu-L</text><path d="M842.0 848.0L947.0 857.8M842.0 848.0l10 -7M842.0 848.0l11 6M947.0 857.8l-11 -5M947.0 857.8l-9 8" stroke="#fff12e" stroke-width="2.4" fill="none"/><rect x="819.3" y="884.1" width="6.8" height="6.8" rx="1.2" fill="#fff" stroke="#0000cc" stroke-width="2.5"/><rect x="832.9" y="884.1" width="6.8" height="6.8" rx="1.2" fill="#fff" stroke="#0000cc" stroke-width="2.5"/><rect x="859.6" y="884.1" width="6.8" height="6.8" rx="1.2" fill="#fff" stroke="#0000cc" stroke-width="2.5"/><rect x="893.4" y="870.1" width="6.8" height="6.8" rx="1.2" fill="#fff" stroke="#0000cc" stroke-width="2.5"/><rect x="914.9" y="878.6" width="6.8" height="6.8" rx="1.2" fill="#fff" stroke="#0000cc" stroke-width="2.5"/><rect x="925.2" y="870.1" width="6.8" height="6.8" rx="1.2" fill="#fff" stroke="#0000cc" stroke-width="2.5"/><rect x="931.3" y="890.3" width="6.8" height="6.8" rx="1.2" fill="#fff" stroke="#0000cc" stroke-width="2.5"/><rect x="787.1" y="998.2" width="6.8" height="6.8" rx="1.2" fill="#fff" stroke="#0000cc" stroke-width="2.5"/><rect x="817.2" y="984.2" width="6.8" height="6.8" rx="1.2" fill="#fff" stroke="#0000cc" stroke-width="2.5"/><rect x="871.6" y="967.8" width="6.8" height="6.8" rx="1.2" fill="#fff" stroke="#0000cc" stroke-width="2.5"/><rect x="651.1" y="1044.8" width="6.8" height="6.8" rx="1.2" fill="#fff" stroke="#0000cc" stroke-width="2.5"/><rect x="651.1" y="1055.1" width="6.8" height="6.8" rx="1.2" fill="#fff" stroke="#0000cc" stroke-width="2.5"/><rect x="664.3" y="1055.1" width="6.8" height="6.8" rx="1.2" fill="#fff" stroke="#0000cc" stroke-width="2.5"/><rect x="677.9" y="1050.2" width="6.8" height="6.8" rx="1.2" fill="#fff" stroke="#0000cc" stroke-width="2.5"/>
<use href="#sT" stroke-width="2.4" opacity="0.3"/><use href="#sT" stroke-width="1.72"/>
<line x1="1240.0" y1="138.7" x2="572.0" y2="995.0" stroke="#fff238" stroke-width="1.90" stroke-dasharray="22 14"/><line x1="2142.0" y1="639.0" x2="895.0" y2="1121.0" stroke="#fff238" stroke-width="1.90" stroke-dasharray="22 14"/>
<g clip-path="url(#ic)"><g filter="url(#vb)" shape-rendering="crispEdges"><rect x="1236.3" y="133.0" width="905.9" height="6.6" fill="url(#h0)"/><rect x="1236.3" y="139.0" width="905.9" height="6.6" fill="url(#h1)"/><rect x="1236.3" y="145.0" width="905.9" height="6.6" fill="url(#h2)"/><rect x="1236.3" y="151.0" width="905.9" height="6.6" fill="url(#h3)"/><rect x="1236.3" y="157.0" width="905.9" height="6.6" fill="url(#h4)"/><rect x="1236.3" y="163.0" width="905.9" height="6.6" fill="url(#h5)"/><rect x="1236.3" y="169.0" width="905.9" height="6.6" fill="url(#h6)"/><rect x="1236.3" y="175.0" width="905.9" height="6.6" fill="url(#h7)"/><rect x="1236.3" y="181.0" width="905.9" height="6.6" fill="url(#h8)"/><rect x="1236.3" y="187.0" width="905.9" height="6.6" fill="url(#h9)"/><rect x="1236.3" y="193.0" width="905.9" height="6.6" fill="url(#h10)"/><rect x="1236.3" y="199.0" width="905.9" height="6.6" fill="url(#h11)"/><rect x="1236.3" y="205.0" width="905.9" height="6.6" fill="url(#h12)"/><rect x="1236.3" y="211.0" width="905.9" height="6.6" fill="url(#h13)"/><rect x="1236.3" y="217.0" width="905.9" height="6.6" fill="url(#h14)"/><rect x="1236.3" y="223.0" width="905.9" height="6.6" fill="url(#h15)"/><rect x="1236.3" y="229.0" width="905.9" height="6.6" fill="url(#h16)"/><rect x="1236.3" y="235.0" width="905.9" height="6.6" fill="url(#h17)"/><rect x="1236.3" y="241.0" width="905.9" height="6.6" fill="url(#h18)"/><rect x="1236.3" y="247.0" width="905.9" height="6.6" fill="url(#h19)"/><rect x="1236.3" y="253.0" width="905.9" height="6.6" fill="url(#h20)"/><rect x="1236.3" y="259.0" width="905.9" height="6.6" fill="url(#h21)"/><rect x="1236.3" y="265.0" width="905.9" height="6.6" fill="url(#h22)"/><rect x="1236.3" y="271.0" width="905.9" height="6.6" fill="url(#h23)"/><rect x="1236.3" y="277.0" width="905.9" height="6.6" fill="url(#h24)"/><rect x="1236.3" y="283.0" width="905.9" height="6.6" fill="url(#h25)"/><rect x="1236.3" y="289.0" width="905.9" height="6.6" fill="url(#h26)"/><rect x="1236.3" y="295.0" width="905.9" height="6.6" fill="url(#h27)"/><rect x="1236.3" y="301.0" width="905.9" height="6.6" fill="url(#h28)"/><rect x="1236.3" y="307.0" width="905.9" height="6.6" fill="url(#h29)"/><rect x="1236.3" y="313.0" width="905.9" height="6.6" fill="url(#h30)"/><rect x="1236.3" y="319.0" width="905.9" height="6.6" fill="url(#h31)"/><rect x="1236.3" y="325.0" width="905.9" height="6.6" fill="url(#h32)"/><rect x="1236.3" y="331.0" width="905.9" height="6.6" fill="url(#h33)"/><rect x="1236.3" y="337.0" width="905.9" height="6.6" fill="url(#h34)"/><rect x="1236.3" y="343.0" width="905.9" height="6.6" fill="url(#h35)"/><rect x="1236.3" y="349.0" width="905.9" height="6.6" fill="url(#h36)"/><rect x="1236.3" y="355.0" width="905.9" height="6.6" fill="url(#h37)"/><rect x="1236.3" y="361.0" width="905.9" height="6.6" fill="url(#h38)"/><rect x="1236.3" y="367.0" width="905.9" height="6.6" fill="url(#h39)"/><rect x="1236.3" y="373.0" width="905.9" height="6.6" fill="url(#h40)"/><rect x="1236.3" y="379.0" width="905.9" height="6.6" fill="url(#h41)"/><rect x="1236.3" y="385.0" width="905.9" height="6.6" fill="url(#h42)"/><rect x="1236.3" y="391.0" width="905.9" height="6.6" fill="url(#h43)"/><rect x="1236.3" y="397.0" width="905.9" height="6.6" fill="url(#h44)"/><rect x="1236.3" y="403.0" width="905.9" height="6.6" fill="url(#h45)"/><rect x="1236.3" y="409.0" width="905.9" height="6.6" fill="url(#h46)"/><rect x="1236.3" y="415.0" width="905.9" height="6.6" fill="url(#h47)"/><rect x="1236.3" y="421.0" width="905.9" height="6.6" fill="url(#h48)"/><rect x="1236.3" y="427.0" width="905.9" height="6.6" fill="url(#h49)"/><rect x="1236.3" y="433.0" width="905.9" height="6.6" fill="url(#h50)"/><rect x="1236.3" y="439.0" width="905.9" height="6.6" fill="url(#h51)"/><rect x="1236.3" y="445.0" width="905.9" height="6.6" fill="url(#h52)"/><rect x="1236.3" y="451.0" width="905.9" height="6.6" fill="url(#h53)"/><rect x="1236.3" y="457.0" width="905.9" height="6.6" fill="url(#h54)"/><rect x="1236.3" y="463.0" width="905.9" height="6.6" fill="url(#h55)"/><rect x="1236.3" y="469.0" width="905.9" height="6.6" fill="url(#h56)"/><rect x="1236.3" y="475.0" width="905.9" height="6.6" fill="url(#h57)"/><rect x="1236.3" y="481.0" width="905.9" height="6.6" fill="url(#h58)"/><rect x="1236.3" y="487.0" width="905.9" height="6.6" fill="url(#h59)"/><rect x="1236.3" y="493.0" width="905.9" height="6.6" fill="url(#h60)"/><rect x="1236.3" y="499.0" width="905.9" height="6.6" fill="url(#h61)"/><rect x="1236.3" y="505.0" width="905.9" height="6.6" fill="url(#h62)"/><rect x="1236.3" y="511.0" width="905.9" height="6.6" fill="url(#h63)"/><rect x="1236.3" y="517.0" width="905.9" height="6.6" fill="url(#h64)"/><rect x="1236.3" y="523.0" width="905.9" height="6.6" fill="url(#h65)"/><rect x="1236.3" y="529.0" width="905.9" height="6.6" fill="url(#h66)"/><rect x="1236.3" y="535.0" width="905.9" height="6.6" fill="url(#h67)"/><rect x="1236.3" y="541.0" width="905.9" height="6.6" fill="url(#h68)"/><rect x="1236.3" y="547.0" width="905.9" height="6.6" fill="url(#h69)"/><rect x="1236.3" y="553.0" width="905.9" height="6.6" fill="url(#h70)"/><rect x="1236.3" y="559.0" width="905.9" height="6.6" fill="url(#h71)"/><rect x="1236.3" y="565.0" width="905.9" height="6.6" fill="url(#h72)"/><rect x="1236.3" y="571.0" width="905.9" height="6.6" fill="url(#h73)"/><rect x="1236.3" y="577.0" width="905.9" height="6.6" fill="url(#h74)"/><rect x="1236.3" y="583.0" width="905.9" height="6.6" fill="url(#h75)"/><rect x="1236.3" y="589.0" width="905.9" height="6.6" fill="url(#h76)"/><rect x="1236.3" y="595.0" width="905.9" height="6.6" fill="url(#h77)"/><rect x="1236.3" y="601.0" width="905.9" height="6.6" fill="url(#h78)"/><rect x="1236.3" y="607.0" width="905.9" height="6.6" fill="url(#h79)"/><rect x="1236.3" y="613.0" width="905.9" height="6.6" fill="url(#h80)"/><rect x="1236.3" y="619.0" width="905.9" height="6.6" fill="url(#h81)"/><rect x="1236.3" y="625.0" width="905.9" height="6.6" fill="url(#h82)"/><rect x="1236.3" y="631.0" width="905.9" height="6.6" fill="url(#h83)"/><rect x="1236.3" y="637.0" width="905.9" height="6.6" fill="url(#h84)"/><rect x="1236.3" y="643.0" width="905.9" height="6.6" fill="url(#h85)"/></g><path d="M1563.0 639.0L2142.2 356.8L2144.2 356.8L2144.2 641.0Z" fill="#000"/><path d="M1256.8 141.0V639.0M1516.4 141.0V639.0M1777.2 141.0V639.0M2035.4 141.0V639.0M1236.3 338.3H2142.2M1236.3 598.5H2142.2" stroke="#929292" stroke-width="2" stroke-dasharray="9 6.5" opacity="0.9" fill="none"/><ellipse cx="1678.3" cy="374.0" rx="431.4" ry="217.0" transform="rotate(-10.5 1678.3 374.0)" fill="none" stroke="#fff12e" stroke-width="2.4"/></g><text transform="translate(1560.50 272.60) scale(1.0550 1)" font-size="72.00" fill="#fff">200 K</text><text transform="translate(1916.32 243.80) scale(1.0562 1)" font-size="72.00" fill="#fff">RT</text><text transform="translate(1807.67 324.60) scale(1.0626 1)" font-size="72.00" fill="#fff">250 K</text><text transform="translate(1325.95 380.70) scale(1.0279 1)" font-size="72.00" fill="#fff">10 K</text><text transform="translate(1551.74 387.60) scale(1.0473 1)" font-size="72.00" fill="#fff">150 K</text><text transform="translate(1334.00 464.30) scale(1.0432 1)" font-size="72.00" fill="#fff">50 K</text><text transform="translate(1516.21 457.40) scale(1.0358 1)" font-size="72.00" fill="#fff">100 K</text><text transform="translate(1446.24 548.50) scale(1.0756 1)" font-size="70.00" fill="#fff12e">2D_Eu-L</text><circle cx="1494.4" cy="375.3" r="7.4" fill="#fff" stroke="#2020e0" stroke-width="1.8"/><circle cx="1497.9" cy="395.8" r="7.4" fill="#fff" stroke="#2020e0" stroke-width="1.8"/><circle cx="1521.8" cy="395.8" r="7.4" fill="#fff" stroke="#2020e0" stroke-width="1.8"/><circle cx="1545.8" cy="389.0" r="7.4" fill="#fff" stroke="#2020e0" stroke-width="1.8"/><circle cx="1749.2" cy="290.4" r="7.4" fill="#fff" stroke="#2020e0" stroke-width="1.8"/><circle cx="1806.0" cy="264.3" r="7.4" fill="#fff" stroke="#2020e0" stroke-width="1.8"/><circle cx="1908.7" cy="233.5" r="7.4" fill="#fff" stroke="#2020e0" stroke-width="1.8"/>
<line x1="163.2" y1="1835.5" x2="1949.7" y2="1835.5" stroke="#000" stroke-width="5.60"/><line x1="387.6" y1="1835.5" x2="387.6" y2="1867.5" stroke="#000" stroke-width="4.60"/><line x1="610.4" y1="1835.5" x2="610.4" y2="1867.5" stroke="#000" stroke-width="4.60"/><line x1="833.2" y1="1835.5" x2="833.2" y2="1867.5" stroke="#000" stroke-width="4.60"/><line x1="1056.0" y1="1835.5" x2="1056.0" y2="1867.5" stroke="#000" stroke-width="4.60"/><line x1="1278.7" y1="1835.5" x2="1278.7" y2="1867.5" stroke="#000" stroke-width="4.60"/><line x1="1501.5" y1="1835.5" x2="1501.5" y2="1867.5" stroke="#000" stroke-width="4.60"/><line x1="1724.3" y1="1835.5" x2="1724.3" y2="1867.5" stroke="#000" stroke-width="4.60"/><line x1="1947.4" y1="1835.5" x2="1947.4" y2="1867.5" stroke="#000" stroke-width="4.60"/><text transform="translate(110.50 1932.00)" font-size="60.00" fill="#000">350</text><text transform="translate(333.60 1928.00)" font-size="60.00" fill="#000">400</text><text transform="translate(556.40 1928.00)" font-size="60.00" fill="#000">450</text><text transform="translate(778.60 1928.00)" font-size="60.00" fill="#000">500</text><text transform="translate(1001.40 1928.00)" font-size="60.00" fill="#000">550</text><text transform="translate(1223.80 1928.00)" font-size="60.00" fill="#000">600</text><text transform="translate(1446.60 1928.00)" font-size="60.00" fill="#000">650</text><text transform="translate(1669.40 1928.00)" font-size="60.00" fill="#000">700</text><text transform="translate(1892.50 1928.00)" font-size="60.00" fill="#000">750</text><text transform="translate(750.80 2013.00)" font-size="88.80" fill="#000" font-weight="bold">Wavelength (nm)</text><text transform="translate(118.75 1404.18) rotate(-90)" font-size="88.80" fill="#000" font-weight="bold">Intensity (a.u.)</text>
<line x1="172.2" y1="2287.5" x2="172.2" y2="3644.0" stroke="#000" stroke-width="6.60" opacity="0.32"/><line x1="172.2" y1="2287.5" x2="172.2" y2="3644.0" stroke="#000" stroke-width="3.60"/><line x1="314.5" y1="1969.3" x2="314.5" y2="3258.5" stroke="#000" stroke-width="5.00" opacity="0.32"/><line x1="314.5" y1="1969.3" x2="314.5" y2="3258.5" stroke="#000" stroke-width="2.20"/><line x1="172.2" y1="2287.5" x2="314.5" y2="1969.3" stroke="#000" stroke-width="2.00"/><line x1="172.2" y1="3583.0" x2="314.5" y2="3258.5" stroke="#000" stroke-width="2.00"/><line x1="1826.6" y1="3585.0" x2="1969.2" y2="3259.7" stroke="#000" stroke-width="2.00"/>
<rect x="502.7" y="2485.1" width="411.9" height="541.9" fill="#fff" stroke="#000" stroke-width="2.2"/><line x1="534.4" y1="2546.2" x2="706.1" y2="2546.2" stroke="#ff0000" stroke-width="4.60"/><text transform="translate(719.70 2565.20)" font-size="60.00" fill="#ff0000">10 K</text><line x1="534.4" y1="2616.0" x2="706.1" y2="2616.0" stroke="#0000cd" stroke-width="4.60"/><text transform="translate(721.80 2634.70)" font-size="60.00" fill="#0000cd">50 K</text><line x1="534.4" y1="2685.5" x2="706.1" y2="2685.5" stroke="#008000" stroke-width="4.60"/><text transform="translate(719.70 2704.20)" font-size="60.00" fill="#008000">100 K</text><line x1="534.4" y1="2753.5" x2="706.1" y2="2753.5" stroke="#ba55d3" stroke-width="4.60"/><text transform="translate(719.70 2772.20)" font-size="60.00" fill="#ba55d3">150 K</text><line x1="534.4" y1="2824.2" x2="706.1" y2="2824.2" stroke="#ee0a80" stroke-width="4.60"/><text transform="translate(721.20 2843.20)" font-size="60.00" fill="#ee0a80">200 K</text><line x1="534.4" y1="2892.5" x2="706.1" y2="2892.5" stroke="#48e8f8" stroke-width="4.60"/><text transform="translate(721.20 2911.80)" font-size="60.00" fill="#48e8f8">250 K</text><line x1="534.4" y1="2963.2" x2="706.1" y2="2963.2" stroke="#fff000" stroke-width="4.60"/><text transform="translate(721.80 2981.60)" font-size="60.00" fill="#fff000">300 K</text>
<use href="#sB" stroke-width="2.4" opacity="0.3"/><use href="#sB" stroke-width="1.72"/>
<line x1="170.5" y1="3611.0" x2="1955.9" y2="3611.0" stroke="#000" stroke-width="5.60"/><line x1="395.1" y1="3611.0" x2="395.1" y2="3644.0" stroke="#000" stroke-width="4.60"/><line x1="617.8" y1="3611.0" x2="617.8" y2="3644.0" stroke="#000" stroke-width="4.60"/><line x1="840.4" y1="3611.0" x2="840.4" y2="3644.0" stroke="#000" stroke-width="4.60"/><line x1="1063.0" y1="3611.0" x2="1063.0" y2="3644.0" stroke="#000" stroke-width="4.60"/><line x1="1285.7" y1="3611.0" x2="1285.7" y2="3644.0" stroke="#000" stroke-width="4.60"/><line x1="1508.3" y1="3611.0" x2="1508.3" y2="3644.0" stroke="#000" stroke-width="4.60"/><line x1="1731.0" y1="3611.0" x2="1731.0" y2="3644.0" stroke="#000" stroke-width="4.60"/><line x1="1953.6" y1="3611.0" x2="1953.6" y2="3644.0" stroke="#000" stroke-width="4.60"/><text transform="translate(116.90 3712.00)" font-size="60.00" fill="#000">350</text><text transform="translate(339.60 3705.50)" font-size="60.00" fill="#000">400</text><text transform="translate(562.30 3705.50)" font-size="60.00" fill="#000">450</text><text transform="translate(784.30 3705.50)" font-size="60.00" fill="#000">500</text><text transform="translate(1006.90 3705.50)" font-size="60.00" fill="#000">550</text><text transform="translate(1229.30 3705.50)" font-size="60.00" fill="#000">600</text><text transform="translate(1451.90 3705.50)" font-size="60.00" fill="#000">650</text><text transform="translate(1674.60 3705.50)" font-size="60.00" fill="#000">700</text><text transform="translate(1897.20 3705.50)" font-size="60.00" fill="#000">750</text><text transform="translate(751.00 3795.00)" font-size="88.80" fill="#000" font-weight="bold">Wavelength (nm)</text><text transform="translate(121.90 3186.77) rotate(-90)" font-size="88.80" fill="#000" font-weight="bold">Intensity (a.u.)</text>
</svg>
</body></html>
